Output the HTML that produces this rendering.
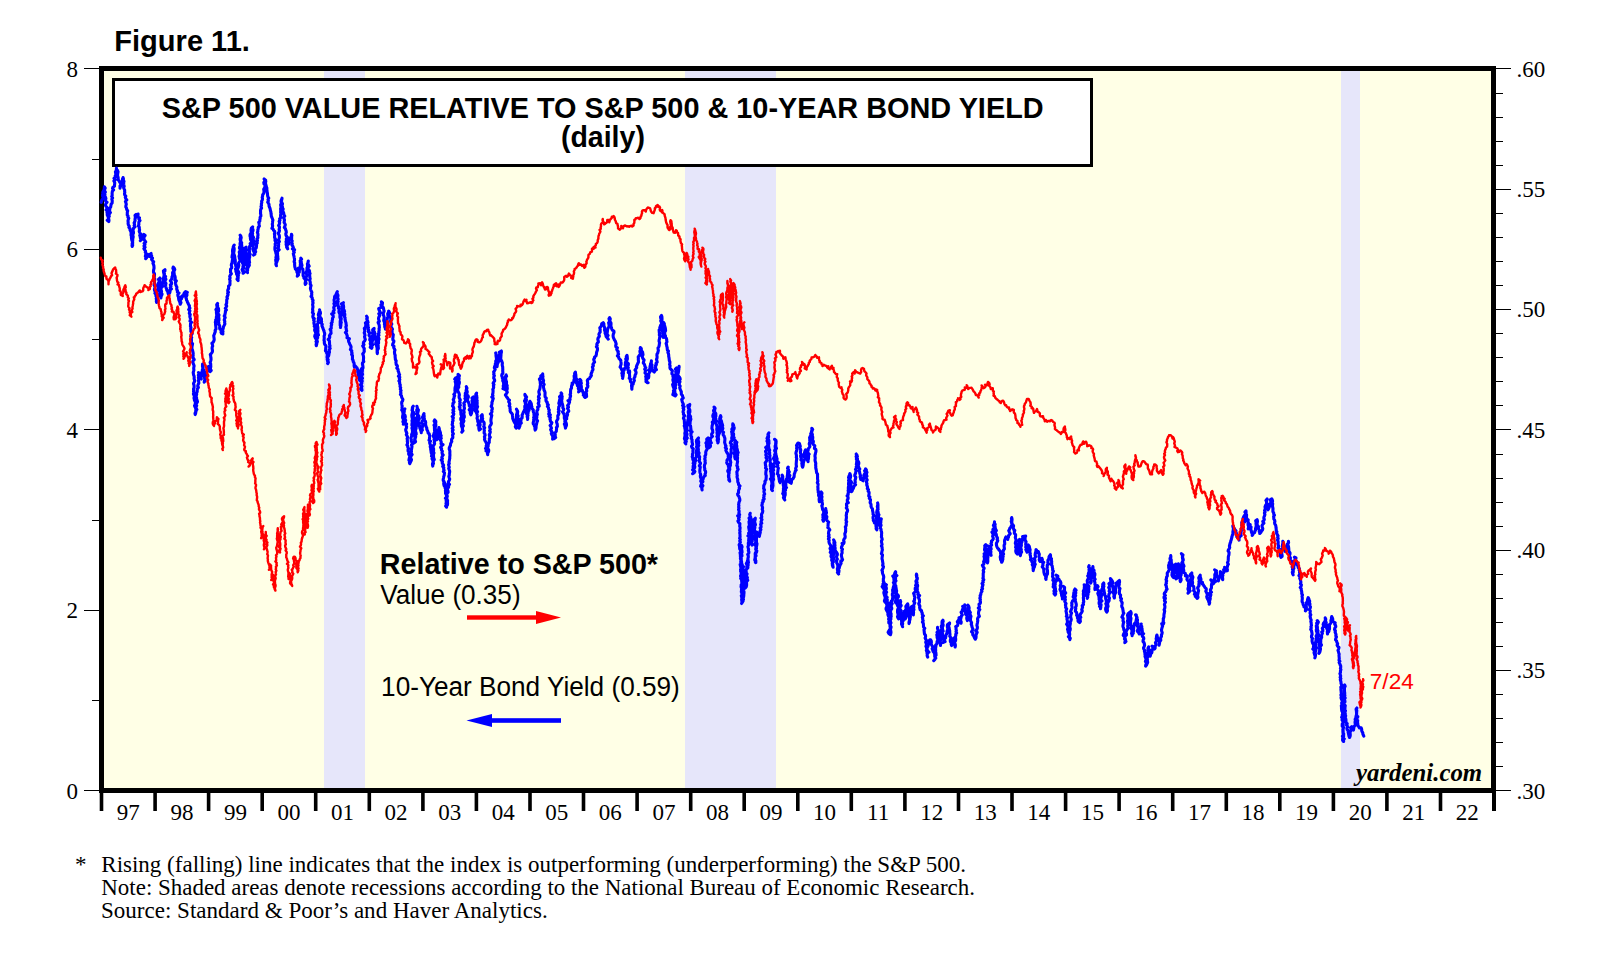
<!DOCTYPE html>
<html><head><meta charset="utf-8"><title>Figure 11</title>
<style>html,body{margin:0;padding:0;background:#fff;}body{width:1610px;height:960px;position:relative;overflow:hidden;font-family:"Liberation Sans",sans-serif;}</style>
</head><body>
<svg width="1610" height="960" viewBox="0 0 1610 960" style="position:absolute;left:0;top:0">
<rect x="0" y="0" width="1610" height="960" fill="#fff"/>
<rect x="99" y="66" width="1397" height="727" fill="#ffffe6"/>
<rect x="324" y="66" width="41" height="727" fill="#e6e6fa"/>
<rect x="685" y="66" width="91" height="727" fill="#e6e6fa"/>
<rect x="1341" y="66" width="19" height="727" fill="#e6e6fa"/>
<rect x="113.5" y="79.5" width="978" height="86" fill="#fff" stroke="#000" stroke-width="3"/>
<rect x="101.5" y="68.5" width="1392.0" height="722.0" fill="none" stroke="#000" stroke-width="5"/>
<path d="M101.2 202.4 L101.5 201.2 L101.9 200.0 L102.8 198.8 L103.2 197.5 L102.6 196.1 L102.5 194.7 L102.7 193.4 L102.8 192.1 L103.4 190.8 L104.2 189.6 L104.3 188.2 L104.4 186.8 L105.2 188.1 L104.6 189.5 L104.6 190.8 L105.4 192.0 L104.3 193.5 L105.0 194.7 L104.3 196.1 L105.5 197.2 L105.9 198.5 L105.5 199.8 L105.6 201.1 L107.0 202.2 L105.9 203.6 L105.5 205.0 L105.8 206.2 L107.0 207.3 L107.0 208.5 L106.1 209.9 L107.7 211.0 L107.0 212.3 L107.3 213.6 L107.2 214.9 L107.8 216.2 L108.3 217.4 L108.6 218.7 L107.2 220.2 L108.8 221.5 L109.0 220.2 L108.7 218.8 L108.6 217.5 L109.3 216.3 L108.6 214.9 L109.5 213.7 L110.4 212.6 L109.0 211.1 L109.8 209.9 L109.5 208.3 L110.7 207.1 L110.9 205.6 L111.1 204.2 L112.1 203.0 L112.2 201.8 L112.2 200.5 L111.8 199.1 L112.6 197.9 L111.7 196.5 L112.2 195.2 L112.1 193.8 L112.2 192.4 L112.4 191.1 L113.6 189.9 L112.5 188.4 L112.9 187.2 L114.5 186.2 L114.5 184.9 L114.7 183.7 L114.7 182.4 L113.9 181.0 L115.2 179.8 L114.0 178.3 L115.3 177.1 L115.2 175.8 L116.2 174.5 L115.6 173.1 L115.4 171.8 L116.2 170.6 L116.4 169.3 L116.4 168.0 L116.6 169.3 L117.5 170.5 L118.1 171.8 L117.8 173.2 L117.6 174.6 L117.6 175.9 L118.1 177.2 L118.2 178.5 L118.1 179.9 L119.2 180.9 L119.6 182.1 L120.7 183.3 L120.7 184.6 L120.0 186.0 L120.1 187.2 L120.0 188.1 L120.3 186.8 L121.1 185.7 L121.8 184.6 L121.6 183.1 L121.9 181.7 L122.6 180.4 L123.5 179.1 L123.1 177.6 L122.5 178.9 L122.5 180.2 L124.0 181.3 L123.7 182.6 L123.7 183.9 L123.9 185.1 L124.2 186.4 L123.6 187.7 L124.1 188.9 L124.7 190.1 L124.6 191.3 L124.8 192.5 L124.5 193.8 L124.8 195.0 L125.8 196.1 L125.3 197.4 L125.8 198.7 L126.8 200.0 L125.4 201.5 L125.9 202.8 L126.3 204.2 L125.9 205.6 L125.8 206.9 L126.6 208.2 L126.7 209.6 L127.7 210.8 L127.3 212.2 L127.3 213.6 L127.2 215.0 L128.1 216.0 L127.9 217.2 L128.8 218.2 L128.3 219.5 L128.0 220.9 L128.2 222.2 L128.1 223.6 L128.4 224.9 L129.3 226.1 L128.9 227.5 L130.1 228.7 L130.0 230.0 L130.7 231.3 L131.1 232.5 L131.1 233.8 L131.0 235.1 L131.5 236.3 L131.4 237.6 L131.6 238.9 L131.8 240.1 L132.3 241.3 L132.7 242.5 L132.6 243.8 L132.0 245.2 L132.2 246.4 L132.7 245.1 L132.1 243.6 L132.5 242.3 L132.7 240.9 L132.7 239.5 L132.9 238.1 L133.2 236.8 L132.9 235.5 L132.9 234.2 L133.5 233.0 L133.4 231.8 L133.0 230.5 L133.3 229.2 L133.6 228.0 L135.0 226.9 L134.1 225.5 L134.6 224.3 L134.1 223.0 L134.7 221.8 L135.1 220.5 L135.0 219.2 L135.3 218.0 L135.3 216.7 L135.0 215.4 L136.1 214.4 L137.4 215.5 L138.1 214.0 L138.0 215.4 L137.5 216.8 L139.5 217.9 L138.9 219.3 L140.0 220.5 L138.9 221.9 L138.8 223.3 L138.9 224.6 L138.3 225.9 L139.3 227.2 L139.3 228.6 L139.6 229.9 L139.2 231.3 L139.7 232.6 L140.7 233.9 L139.7 235.3 L140.2 236.6 L140.3 238.0 L141.7 239.2 L140.3 240.6 L141.1 239.4 L141.6 238.1 L143.3 239.3 L142.5 237.8 L142.8 236.6 L142.8 235.4 L143.8 234.3 L145.1 235.5 L144.1 236.9 L143.9 238.2 L144.1 239.5 L144.8 240.7 L145.7 242.0 L144.1 243.4 L145.0 244.6 L144.0 246.0 L145.1 247.2 L143.9 248.6 L144.7 249.9 L145.6 251.1 L145.3 252.4 L146.1 253.6 L145.6 255.0 L145.3 256.3 L146.5 257.5 L145.7 258.7 L146.5 257.9 L146.5 256.8 L147.7 255.6 L147.8 254.4 L149.0 255.1 L149.2 256.4 L149.6 254.9 L150.4 254.0 L151.1 253.5 L151.0 254.7 L151.7 255.8 L151.0 257.1 L152.5 258.1 L151.6 259.5 L152.5 260.6 L153.7 261.8 L152.9 263.2 L153.5 264.5 L153.9 265.8 L154.0 267.2 L154.0 268.5 L153.6 269.9 L153.5 271.3 L153.6 272.5 L154.5 273.7 L154.5 275.0 L154.4 276.2 L154.0 277.5 L154.7 278.7 L154.8 280.0 L154.5 281.3 L154.4 282.5 L154.5 283.8 L154.1 285.2 L155.0 286.5 L154.9 287.8 L154.4 289.3 L154.6 290.6 L155.5 291.9 L154.9 293.3 L156.0 294.5 L155.9 295.9 L156.7 297.1 L156.2 298.5 L156.5 299.8 L157.3 301.0 L156.6 302.4 L156.3 301.0 L157.4 299.8 L157.5 298.4 L157.5 297.1 L158.0 295.8 L157.2 294.3 L156.5 292.9 L157.1 291.6 L157.3 290.3 L158.3 289.0 L158.6 287.7 L158.2 286.3 L157.6 284.8 L158.2 283.5 L159.1 282.2 L159.1 280.8 L158.5 279.4 L159.9 278.0 L159.5 279.4 L159.7 280.8 L159.2 282.2 L159.4 283.5 L161.1 284.7 L160.6 286.1 L159.3 287.6 L160.5 288.9 L160.4 290.2 L160.1 291.5 L160.2 292.8 L160.0 294.2 L160.3 295.4 L161.1 296.6 L160.9 297.9 L160.8 296.5 L161.7 295.3 L162.1 294.0 L161.2 292.6 L161.6 291.3 L161.0 289.9 L161.1 288.6 L161.4 287.4 L162.8 286.3 L162.0 285.0 L162.6 283.8 L162.3 282.5 L163.1 281.3 L163.2 280.1 L162.9 278.8 L163.7 277.6 L164.0 276.4 L164.2 275.1 L163.9 273.7 L163.7 272.4 L163.4 271.0 L165.0 269.7 L164.9 271.1 L163.6 272.6 L164.5 273.9 L164.0 275.4 L165.6 276.6 L164.9 278.1 L165.9 279.3 L165.0 280.8 L165.1 282.2 L166.0 283.4 L165.6 284.8 L165.7 286.2 L166.0 287.6 L166.6 288.9 L166.8 290.2 L167.7 291.3 L168.0 293.0 L168.4 294.2 L169.4 293.4 L169.9 292.3 L170.1 291.1 L169.9 289.9 L171.4 288.9 L170.2 287.5 L171.0 286.3 L170.3 284.9 L171.7 283.7 L171.5 282.3 L170.4 280.8 L171.4 279.6 L171.9 278.2 L172.0 276.7 L172.7 275.4 L172.6 273.9 L172.6 272.5 L173.4 271.2 L173.6 269.9 L172.9 268.4 L173.2 267.0 L174.3 268.3 L174.8 269.5 L174.0 271.1 L174.0 272.4 L174.2 273.8 L174.3 275.0 L175.0 276.2 L175.2 277.4 L175.2 278.6 L174.8 279.9 L176.3 280.9 L175.5 282.3 L175.6 283.5 L175.8 284.8 L176.3 285.9 L176.9 287.1 L176.7 288.4 L176.8 289.6 L177.5 290.7 L177.3 292.0 L179.0 293.0 L177.8 294.4 L177.9 295.8 L178.5 297.0 L178.6 298.4 L178.8 299.8 L179.4 301.2 L180.0 302.6 L180.2 304.3 L181.0 302.5 L179.7 300.9 L180.7 299.7 L181.7 298.5 L181.1 297.1 L182.1 295.9 L182.4 296.7 L183.5 296.0 L183.8 294.8 L183.9 293.6 L184.6 292.6 L185.6 291.5 L187.3 292.4 L186.6 293.8 L187.0 295.0 L186.4 296.3 L185.9 297.8 L186.4 298.8 L186.5 300.0 L187.2 301.1 L187.5 302.3 L188.1 303.2 L188.5 304.4 L189.4 305.6 L189.3 306.9 L189.9 308.2 L188.7 309.6 L189.9 310.8 L189.5 312.1 L189.3 313.4 L190.3 314.6 L189.8 316.0 L190.0 317.3 L190.5 318.5 L190.3 319.8 L190.0 321.1 L191.5 322.3 L190.5 323.7 L190.5 325.0 L190.4 326.3 L191.0 327.5 L190.7 328.7 L190.9 330.0 L190.8 331.3 L191.6 332.5 L192.2 333.7 L191.3 335.0 L190.7 336.3 L191.7 337.5 L191.1 338.8 L191.5 340.0 L191.4 341.3 L191.5 342.6 L192.6 343.8 L192.3 345.2 L192.0 346.6 L191.9 347.9 L192.2 349.2 L192.6 350.5 L192.8 351.8 L193.2 353.1 L193.1 354.5 L193.2 355.8 L192.7 357.1 L193.5 358.3 L194.2 359.6 L192.9 361.0 L192.8 362.3 L193.2 363.5 L193.8 364.8 L194.1 366.0 L193.8 367.4 L193.7 368.6 L193.9 369.9 L193.6 371.2 L193.2 372.4 L193.4 373.7 L193.6 375.0 L194.1 376.2 L194.2 377.5 L194.1 378.7 L194.5 380.0 L194.7 381.3 L193.9 382.5 L193.5 383.8 L194.0 385.1 L194.1 386.3 L194.1 387.6 L193.5 388.9 L193.7 390.2 L193.5 391.5 L194.1 392.8 L193.4 394.1 L194.1 395.4 L194.4 396.6 L194.0 398.0 L194.3 399.2 L194.5 400.5 L195.6 401.8 L195.2 403.1 L195.4 404.4 L194.5 405.7 L195.0 406.9 L195.6 408.2 L195.9 409.5 L196.1 410.8 L195.8 412.1 L195.6 413.4 L195.2 414.6 L195.0 413.3 L195.7 412.1 L195.7 410.8 L196.9 409.5 L196.1 408.2 L196.1 406.9 L196.7 405.6 L195.3 404.2 L196.8 403.0 L197.5 401.8 L197.2 400.5 L196.6 399.2 L196.6 397.9 L196.4 396.7 L196.3 395.4 L196.7 394.2 L196.5 392.9 L197.2 391.7 L197.2 390.2 L197.4 388.8 L198.4 387.5 L197.7 386.0 L198.1 384.6 L198.8 383.3 L198.8 381.9 L198.3 380.5 L199.0 379.2 L198.4 377.8 L198.8 376.5 L198.3 375.1 L199.3 373.8 L198.5 372.5 L199.3 373.5 L198.7 374.9 L199.9 375.8 L200.1 376.9 L200.5 378.0 L201.3 379.0 L200.5 377.5 L201.7 376.3 L201.2 374.8 L201.8 373.5 L201.8 372.1 L202.3 370.8 L202.4 369.5 L203.1 368.2 L203.0 366.8 L203.2 365.5 L202.5 364.2 L202.5 365.4 L202.5 366.7 L203.0 368.0 L203.3 369.2 L203.8 370.5 L204.1 371.7 L203.4 373.1 L204.3 374.3 L203.9 375.6 L204.5 376.9 L204.6 378.2 L204.8 379.6 L205.1 380.9 L204.2 382.2 L204.4 380.9 L205.3 379.7 L205.3 378.4 L205.6 377.1 L205.5 375.8 L206.0 374.5 L205.7 373.2 L207.0 372.2 L207.3 371.0 L207.3 369.8 L207.3 368.6 L207.8 367.7 L208.5 366.5 L209.6 367.7 L209.7 369.1 L210.1 370.4 L210.2 371.6 L211.2 370.4 L210.3 369.0 L210.6 367.7 L210.8 366.4 L210.7 365.1 L210.7 363.8 L210.1 362.5 L210.6 361.2 L211.0 359.9 L211.0 358.6 L210.8 357.3 L210.7 356.0 L210.3 354.6 L211.3 353.4 L212.3 352.1 L212.5 350.9 L212.3 349.6 L212.1 348.4 L212.2 347.1 L212.7 346.0 L212.4 344.7 L211.9 343.2 L213.2 342.2 L213.8 341.1 L214.2 339.8 L214.1 338.4 L213.9 337.0 L213.7 335.6 L214.3 334.4 L214.7 333.1 L215.3 331.7 L215.1 330.3 L216.0 329.0 L215.9 327.6 L215.8 326.3 L215.6 324.9 L215.6 323.5 L215.3 322.2 L215.7 321.0 L215.7 319.7 L217.1 318.6 L216.3 317.3 L216.7 316.0 L216.7 314.8 L216.5 313.5 L216.4 312.2 L216.5 310.9 L215.9 309.6 L217.0 308.4 L217.0 307.2 L217.7 305.9 L217.3 304.6 L217.6 303.4 L216.7 304.7 L216.9 306.0 L217.7 307.3 L218.5 308.5 L218.6 309.8 L218.6 311.1 L217.8 312.5 L218.3 313.7 L219.0 315.0 L218.6 316.4 L218.8 317.7 L219.0 319.0 L218.9 320.3 L218.3 321.7 L218.9 322.9 L218.6 324.2 L219.6 325.4 L219.8 326.6 L219.6 327.9 L219.8 329.0 L220.4 328.9 L220.9 330.0 L221.2 331.2 L221.0 332.4 L221.6 333.6 L222.9 333.9 L222.7 332.6 L223.0 331.3 L222.4 329.9 L223.2 328.7 L223.3 327.4 L223.7 326.2 L224.4 325.0 L224.9 323.8 L224.6 322.5 L224.8 321.3 L224.2 319.9 L224.6 318.7 L225.2 317.5 L224.2 316.1 L224.9 314.9 L225.1 313.6 L225.4 312.3 L225.4 311.0 L226.4 309.9 L225.3 308.4 L226.0 307.3 L226.7 306.1 L225.9 304.7 L226.6 303.5 L226.7 302.3 L226.7 301.0 L226.7 299.7 L227.4 298.5 L226.9 297.1 L227.6 295.9 L228.1 294.7 L227.6 293.3 L228.5 292.2 L227.7 290.9 L227.9 289.7 L228.7 288.6 L228.6 287.4 L228.5 286.1 L229.9 284.9 L230.0 283.5 L229.9 282.1 L230.1 280.7 L229.6 279.2 L230.1 277.9 L229.7 276.4 L230.3 275.1 L231.4 273.8 L230.5 272.2 L230.6 270.8 L230.5 269.2 L231.7 267.9 L231.7 266.6 L231.3 265.3 L231.5 263.9 L232.1 262.7 L232.2 261.4 L232.4 260.1 L233.1 258.8 L232.0 257.4 L232.1 256.0 L232.4 254.7 L232.8 253.3 L232.6 252.0 L232.5 250.6 L232.7 249.2 L233.2 247.9 L233.3 246.5 L234.2 245.1 L233.4 246.5 L234.0 247.8 L234.2 249.1 L234.1 250.5 L233.9 251.8 L233.5 253.2 L234.1 254.5 L234.5 255.8 L234.8 257.1 L234.8 258.4 L235.2 259.7 L235.3 261.0 L235.3 262.4 L235.1 263.7 L235.6 265.0 L235.9 266.3 L236.6 267.5 L235.5 269.0 L235.9 270.3 L235.9 271.6 L236.6 272.9 L236.6 274.2 L237.5 275.4 L237.5 276.7 L237.3 278.0 L237.0 279.3 L238.1 280.6 L237.9 279.3 L238.2 278.0 L238.1 276.6 L238.4 275.3 L238.0 274.0 L239.0 272.7 L238.3 271.3 L237.3 269.9 L237.7 268.7 L238.3 267.5 L238.6 266.3 L238.9 265.0 L238.4 263.7 L238.9 262.5 L239.7 261.3 L240.3 260.1 L239.5 258.8 L239.3 257.5 L239.0 256.2 L239.5 254.8 L239.6 253.5 L239.2 252.1 L240.0 250.8 L240.2 249.4 L239.4 248.0 L239.7 246.6 L241.0 245.4 L240.0 244.0 L240.2 242.7 L240.6 241.5 L240.2 240.2 L240.1 238.9 L240.5 237.6 L241.0 236.4 L240.1 235.2 L240.6 236.4 L241.2 237.7 L240.8 239.0 L240.8 240.2 L240.7 241.5 L241.7 242.7 L241.5 244.0 L241.8 245.3 L241.4 246.6 L242.5 247.8 L242.1 249.0 L242.7 250.3 L242.4 251.6 L242.2 252.8 L242.3 254.1 L242.4 255.4 L241.1 256.7 L241.7 258.0 L241.2 259.3 L241.8 260.5 L242.7 261.8 L242.5 263.1 L243.3 264.3 L243.2 265.6 L242.9 266.9 L242.9 268.2 L242.1 269.5 L242.5 270.8 L243.2 272.0 L243.1 273.3 L244.6 272.1 L243.5 270.7 L242.9 269.3 L243.6 268.1 L243.5 266.8 L243.7 265.5 L244.6 264.2 L244.0 262.9 L244.7 261.6 L244.2 260.3 L244.2 258.9 L245.0 257.7 L244.4 256.3 L244.5 255.0 L245.0 253.7 L244.8 252.4 L245.2 251.1 L245.1 249.7 L244.5 248.4 L246.1 247.1 L245.9 248.4 L246.8 249.6 L246.1 250.9 L246.1 252.2 L246.2 253.5 L247.5 254.7 L247.2 256.0 L246.8 257.3 L246.7 258.6 L247.0 259.9 L247.9 261.1 L246.9 262.5 L247.9 263.7 L246.5 265.1 L247.5 266.3 L247.1 267.6 L246.6 268.9 L247.0 270.1 L247.3 271.4 L247.5 272.6 L247.1 271.3 L247.7 270.1 L247.5 268.7 L248.1 267.5 L248.8 266.3 L249.4 265.0 L248.6 263.7 L249.6 262.5 L249.3 261.1 L249.2 259.7 L249.3 258.3 L249.7 257.0 L249.6 255.6 L250.3 254.3 L249.3 252.9 L249.6 251.5 L249.2 250.1 L249.6 248.8 L249.4 247.5 L249.7 246.2 L251.6 245.2 L250.2 243.7 L251.3 242.6 L251.5 241.3 L250.7 240.0 L250.4 238.6 L250.4 237.3 L250.0 236.0 L250.1 234.6 L250.8 233.4 L251.4 232.1 L251.0 230.7 L251.1 229.4 L251.4 228.1 L252.7 226.8 L252.1 228.2 L253.0 229.4 L253.0 230.8 L252.3 232.1 L252.6 233.4 L252.3 234.8 L252.7 236.1 L253.5 237.3 L253.2 238.7 L253.0 240.0 L254.3 241.2 L253.6 242.5 L254.0 243.8 L253.4 245.1 L253.1 246.4 L253.1 247.7 L252.8 249.0 L253.2 250.2 L253.8 251.5 L254.4 252.7 L254.2 254.0 L253.6 255.1 L254.9 254.2 L254.7 252.8 L255.7 251.8 L255.2 250.4 L255.0 249.1 L256.2 248.1 L256.4 246.9 L256.6 245.6 L256.2 244.2 L257.3 243.1 L257.1 241.7 L257.5 240.4 L256.9 239.0 L257.9 237.8 L257.7 236.4 L258.0 235.1 L257.9 233.8 L257.4 232.4 L257.9 231.2 L257.8 229.9 L258.3 228.7 L258.2 227.4 L259.4 226.2 L259.2 224.9 L259.1 223.6 L258.7 222.3 L259.9 221.1 L259.8 219.8 L260.2 218.6 L260.1 217.3 L260.9 216.0 L260.8 214.7 L260.5 213.4 L260.6 212.1 L260.5 210.7 L260.7 209.4 L261.6 208.1 L261.0 206.6 L261.5 205.3 L261.3 203.9 L261.8 202.5 L261.6 201.2 L262.3 200.0 L262.5 198.7 L262.2 197.4 L262.6 196.1 L262.7 194.7 L263.7 193.4 L264.0 192.0 L263.9 190.5 L263.7 189.2 L264.4 188.0 L265.0 186.7 L265.8 185.5 L264.0 184.0 L263.8 182.6 L264.5 181.4 L265.6 180.2 L264.1 179.0 L264.8 180.3 L265.8 181.5 L265.5 182.9 L265.7 184.2 L266.1 185.5 L266.4 186.8 L266.9 188.0 L266.8 189.3 L267.0 190.6 L267.1 191.8 L267.4 193.1 L267.5 194.4 L267.6 195.6 L267.9 196.9 L268.8 198.1 L268.0 199.5 L268.4 200.8 L267.7 202.2 L268.5 203.4 L269.0 204.3 L269.1 206.3 L269.8 207.7 L270.2 209.1 L270.4 210.5 L270.9 211.9 L271.0 213.3 L271.2 214.7 L271.3 216.2 L271.9 217.5 L272.4 218.8 L272.9 220.1 L272.6 221.5 L272.5 222.9 L272.3 224.3 L272.6 225.6 L272.5 227.0 L271.9 228.3 L273.2 229.2 L273.6 230.4 L274.7 231.4 L274.7 232.6 L274.4 233.9 L274.7 235.1 L274.6 236.4 L274.6 237.6 L275.4 238.8 L274.9 240.1 L275.3 241.3 L275.9 242.5 L275.1 243.9 L275.4 245.2 L275.0 246.6 L274.9 248.0 L274.9 249.3 L275.2 250.6 L275.7 252.0 L275.9 253.3 L276.3 254.6 L276.3 256.0 L275.9 257.4 L276.3 258.6 L275.7 259.8 L275.8 261.1 L276.7 262.2 L276.2 263.4 L276.2 264.7 L276.4 265.8 L275.9 264.4 L275.9 263.1 L277.0 261.8 L277.3 260.4 L278.0 259.1 L277.8 257.8 L277.8 256.4 L277.5 255.0 L277.6 253.7 L277.3 252.3 L278.0 251.0 L279.2 249.7 L277.9 248.3 L278.6 246.9 L278.5 245.6 L278.7 244.2 L278.4 242.8 L279.4 241.5 L278.2 240.1 L279.0 238.8 L279.4 237.5 L279.4 236.1 L279.1 234.8 L278.1 233.4 L279.0 232.1 L279.5 230.8 L279.1 229.5 L279.4 228.2 L279.5 226.9 L278.6 225.5 L279.3 224.2 L279.7 222.9 L279.1 221.5 L280.0 220.3 L279.6 218.9 L280.7 217.7 L280.6 216.4 L280.5 215.0 L281.0 213.8 L280.6 212.4 L280.7 211.1 L280.7 209.8 L280.6 208.5 L281.1 207.3 L280.8 206.0 L280.6 204.7 L281.4 203.4 L281.2 202.1 L281.1 200.8 L281.5 199.5 L282.0 198.2 L281.8 199.7 L281.0 201.2 L281.9 202.5 L282.5 203.9 L281.9 205.4 L282.4 206.6 L282.5 207.8 L283.2 209.0 L282.7 210.2 L283.0 211.4 L283.6 212.6 L283.8 213.8 L284.0 215.0 L284.8 216.1 L283.5 217.5 L284.1 218.7 L284.5 219.9 L284.3 221.1 L284.1 222.4 L284.8 223.5 L285.3 224.8 L284.9 226.1 L284.3 227.4 L285.4 228.6 L285.7 229.9 L286.2 231.1 L286.3 232.4 L285.8 233.7 L285.9 235.0 L286.5 236.2 L287.4 237.5 L286.3 239.0 L286.5 240.3 L286.0 241.7 L286.3 243.1 L286.1 244.5 L286.7 245.8 L286.6 247.1 L287.7 248.8 L287.3 247.3 L286.8 246.3 L287.3 245.0 L288.9 243.8 L288.8 242.5 L288.6 241.1 L288.8 239.8 L288.8 238.1 L291.4 237.6 L291.3 235.9 L291.5 234.2 L291.9 235.5 L291.6 236.9 L291.7 238.2 L291.4 239.6 L292.2 240.9 L291.7 242.3 L292.3 243.6 L291.9 245.0 L292.9 246.3 L293.4 247.5 L292.4 248.9 L294.6 249.8 L293.6 251.2 L294.3 252.3 L293.3 253.7 L293.6 255.0 L294.0 256.3 L294.2 257.6 L294.5 258.9 L294.5 260.3 L294.1 261.7 L294.7 262.9 L294.6 264.3 L294.7 265.6 L294.8 266.9 L295.2 267.8 L295.3 268.8 L296.3 269.8 L296.8 270.9 L296.9 272.1 L297.7 273.4 L297.6 275.0 L297.3 276.2 L298.5 275.0 L297.7 273.3 L299.3 272.2 L299.3 270.7 L299.6 269.6 L298.5 268.1 L300.2 267.3 L300.3 266.2 L300.3 264.8 L300.5 263.4 L300.2 262.0 L300.6 260.7 L300.8 259.4 L300.8 258.1 L301.6 259.2 L300.2 260.7 L301.3 261.8 L301.3 263.0 L301.7 264.2 L302.0 265.4 L301.5 266.8 L301.7 268.1 L302.9 269.2 L302.9 270.5 L303.1 271.8 L303.1 273.2 L303.1 274.4 L303.1 275.7 L303.9 276.9 L303.9 278.1 L305.2 279.2 L305.4 280.5 L305.5 281.8 L305.1 283.2 L305.3 284.4 L306.1 283.3 L305.7 282.0 L305.5 280.7 L306.6 279.6 L305.9 278.3 L306.2 277.1 L306.7 275.9 L307.0 274.7 L306.0 273.3 L306.3 271.9 L307.0 270.6 L307.0 269.2 L307.0 267.9 L307.6 266.6 L307.5 265.2 L307.4 263.8 L307.9 262.5 L308.3 261.1 L308.0 262.4 L308.2 263.6 L308.6 264.9 L309.2 266.1 L307.9 267.5 L308.0 268.7 L309.0 269.9 L309.6 271.1 L309.3 272.4 L310.1 273.5 L309.5 274.9 L309.8 276.2 L309.8 277.4 L310.2 278.7 L309.5 280.1 L310.1 281.4 L310.3 282.8 L310.2 284.2 L311.1 285.4 L310.7 286.8 L310.4 288.2 L310.7 289.6 L311.1 290.9 L311.9 292.2 L311.6 293.6 L311.8 294.9 L311.0 296.4 L312.2 297.6 L312.2 299.0 L313.1 300.3 L312.7 301.7 L313.1 303.0 L312.6 304.3 L312.8 305.7 L313.0 307.0 L312.7 308.4 L312.6 309.7 L312.9 311.0 L312.4 312.4 L313.5 313.7 L313.2 315.0 L312.8 316.3 L313.0 317.5 L314.3 318.7 L313.6 320.0 L314.3 321.2 L313.9 322.5 L314.0 323.8 L315.2 325.0 L314.2 326.3 L315.3 327.4 L314.9 328.7 L314.6 330.0 L315.0 331.2 L315.7 332.3 L315.5 333.6 L315.2 334.8 L314.7 336.3 L315.2 337.6 L316.0 338.9 L316.7 340.2 L316.0 341.6 L316.9 342.9 L316.7 344.3 L316.3 345.7 L316.1 344.3 L316.6 343.0 L317.4 341.7 L317.0 340.4 L316.9 339.0 L317.7 337.7 L317.0 336.3 L318.5 335.1 L318.0 333.7 L317.8 332.3 L318.0 331.0 L317.8 329.6 L317.9 328.2 L317.8 326.9 L317.4 325.5 L317.4 324.1 L318.4 322.8 L317.9 321.4 L319.1 320.2 L318.2 318.8 L318.6 317.6 L319.0 316.3 L318.3 314.9 L318.6 313.7 L319.1 312.4 L319.4 311.1 L319.6 309.8 L319.7 311.0 L320.3 312.1 L320.5 313.3 L319.9 314.6 L319.8 315.8 L320.0 317.0 L320.9 318.0 L321.5 319.0 L321.3 320.3 L321.7 321.6 L321.2 323.1 L322.3 324.3 L321.9 325.8 L322.5 327.1 L323.0 328.4 L323.5 329.9 L324.0 331.0 L324.3 332.2 L324.7 333.4 L324.6 334.8 L324.1 336.1 L324.2 337.5 L324.2 338.8 L324.0 340.2 L324.4 341.5 L324.3 342.9 L324.6 344.2 L325.7 345.5 L326.0 346.7 L325.7 348.1 L325.7 349.4 L325.4 350.8 L326.6 351.9 L326.7 353.3 L327.4 354.5 L327.2 355.8 L327.0 357.1 L327.3 358.3 L327.2 359.6 L327.7 360.8 L328.3 362.0 L327.6 363.4 L327.8 363.7 L328.4 362.4 L327.5 361.0 L328.2 359.8 L327.5 358.4 L327.6 357.2 L328.6 356.0 L328.9 354.7 L329.0 353.4 L329.5 352.2 L329.3 350.9 L329.3 349.6 L330.2 348.4 L329.5 347.1 L330.0 345.9 L329.6 344.6 L329.5 343.3 L329.5 342.1 L329.4 340.8 L328.2 339.4 L329.4 338.2 L329.8 337.0 L329.4 335.7 L330.1 334.5 L331.1 333.3 L330.9 332.0 L330.9 330.8 L330.1 329.4 L331.3 328.3 L331.2 327.0 L331.2 325.8 L331.7 324.6 L331.2 323.3 L332.2 322.2 L332.1 320.9 L332.5 319.6 L332.5 318.2 L333.3 316.9 L333.1 315.5 L331.7 314.0 L334.0 312.9 L333.2 311.4 L334.2 310.3 L334.0 308.9 L333.7 307.4 L334.5 306.2 L334.3 304.9 L333.9 303.6 L335.4 302.5 L334.1 301.0 L334.1 299.7 L334.6 298.5 L334.5 297.1 L334.9 296.0 L336.1 295.1 L336.2 293.9 L336.8 292.8 L337.3 291.7 L336.6 293.0 L337.5 294.2 L338.0 295.4 L337.8 296.7 L337.5 297.9 L338.2 299.1 L337.6 300.4 L338.2 301.6 L336.7 303.0 L338.0 304.2 L337.5 305.5 L338.8 306.7 L338.4 308.1 L339.3 309.3 L339.0 310.7 L338.9 312.0 L339.4 313.3 L340.2 314.5 L339.9 315.9 L339.9 317.2 L340.3 318.4 L340.6 319.7 L340.2 321.1 L340.2 322.4 L340.2 323.7 L340.9 324.9 L340.7 326.2 L340.4 327.5 L340.7 326.3 L340.1 324.9 L340.9 323.7 L341.3 322.4 L340.7 321.1 L341.1 319.8 L341.3 318.6 L340.8 317.3 L340.8 316.0 L341.9 314.8 L341.6 313.4 L341.6 312.1 L342.4 310.8 L342.6 309.5 L341.9 308.1 L342.0 306.7 L342.4 305.4 L341.5 303.9 L343.4 302.7 L342.8 304.0 L343.4 305.2 L343.6 306.5 L343.6 307.8 L343.3 309.1 L344.2 310.3 L344.6 311.5 L343.9 312.9 L344.8 314.0 L344.8 315.2 L344.3 316.5 L345.1 317.6 L345.0 318.9 L345.2 320.2 L345.6 321.6 L346.0 322.9 L346.1 324.3 L346.4 325.6 L345.8 327.1 L346.2 328.3 L346.3 329.6 L346.7 330.9 L345.4 332.4 L346.4 333.6 L346.9 334.9 L347.3 336.1 L347.0 337.8 L349.4 338.7 L348.5 340.5 L348.7 341.8 L349.4 343.0 L349.7 344.1 L350.7 345.7 L351.1 346.9 L350.9 348.3 L350.4 349.6 L351.8 350.7 L351.6 352.0 L352.1 353.1 L351.6 354.4 L352.5 355.5 L352.4 356.7 L352.5 357.9 L352.4 359.2 L353.1 360.4 L353.2 361.7 L354.0 362.9 L354.2 364.3 L354.1 365.9 L354.5 367.2 L355.1 365.9 L356.2 367.1 L357.0 367.9 L357.3 369.1 L357.8 370.5 L357.7 371.9 L358.2 373.3 L358.1 374.7 L358.5 376.1 L359.3 377.4 L359.2 378.9 L359.7 380.4 L360.0 379.1 L359.8 377.8 L359.9 376.5 L360.0 375.2 L360.3 374.0 L359.0 372.3 L360.7 371.3 L360.9 369.8 L361.7 368.5 L361.9 369.7 L361.1 371.0 L361.2 372.3 L361.3 373.6 L361.4 374.9 L360.5 376.2 L362.0 377.4 L361.6 378.7 L360.1 380.0 L361.1 381.3 L361.3 382.6 L361.0 383.9 L360.9 385.2 L361.1 386.4 L361.3 387.7 L360.6 389.0 L362.0 390.3 L361.8 389.0 L361.4 387.6 L362.0 386.3 L360.5 384.9 L361.8 383.6 L361.8 382.3 L362.3 381.0 L361.4 379.6 L362.5 378.3 L361.7 376.9 L361.9 375.6 L362.6 374.3 L362.0 372.9 L362.3 371.6 L362.4 370.4 L362.4 369.1 L363.0 367.9 L362.9 366.6 L362.7 365.3 L362.4 364.0 L362.5 362.8 L363.8 361.6 L363.4 360.3 L363.5 359.0 L363.6 357.8 L363.5 356.5 L363.2 355.2 L362.7 353.9 L363.7 352.6 L364.3 351.3 L364.1 350.0 L364.3 348.7 L363.6 347.3 L362.7 345.9 L364.0 344.7 L363.3 343.3 L363.6 342.0 L364.8 340.8 L365.3 339.5 L364.9 338.1 L364.5 336.8 L365.0 335.5 L364.8 334.2 L364.2 332.8 L364.7 331.4 L364.7 329.9 L364.3 328.4 L365.5 327.2 L365.7 325.8 L365.8 324.4 L365.4 322.9 L366.9 321.7 L367.2 320.3 L366.7 318.9 L367.1 317.5 L366.6 316.2 L367.3 317.4 L367.2 318.7 L367.4 320.0 L367.7 321.3 L368.1 322.5 L367.2 323.9 L368.1 325.1 L367.7 326.4 L368.5 327.6 L367.9 329.0 L368.8 330.2 L368.3 331.6 L370.0 332.7 L369.2 334.1 L369.0 335.5 L370.3 336.8 L370.0 338.3 L369.7 339.8 L370.6 341.1 L370.6 342.3 L370.2 343.6 L370.5 344.7 L371.0 345.9 L370.2 347.2 L371.6 348.3 L372.1 347.1 L371.1 345.7 L373.0 344.7 L372.3 343.4 L372.0 342.1 L372.4 340.9 L372.7 339.7 L373.2 338.5 L372.9 337.2 L372.5 335.9 L373.0 334.7 L372.5 333.3 L373.1 332.1 L372.7 330.8 L372.7 329.6 L374.1 328.3 L373.9 329.7 L373.7 331.1 L374.6 332.3 L374.9 333.6 L374.7 335.0 L374.3 336.3 L375.4 337.3 L375.8 338.5 L375.6 339.7 L376.4 340.8 L375.9 342.3 L375.8 343.8 L376.5 345.1 L376.7 346.6 L377.1 347.9 L377.1 349.3 L377.2 350.8 L377.1 352.2 L377.3 353.6 L377.5 352.2 L377.1 350.9 L377.8 349.6 L378.4 348.3 L378.2 346.9 L378.2 345.6 L377.9 344.2 L378.6 342.9 L378.5 341.6 L378.5 340.2 L379.1 339.0 L378.6 337.7 L377.6 336.4 L379.0 335.2 L378.2 333.9 L379.1 332.6 L378.8 331.4 L379.2 330.1 L379.0 328.8 L379.4 327.6 L379.3 326.3 L379.2 325.1 L378.7 323.8 L378.1 322.5 L379.4 321.3 L378.8 320.0 L378.5 318.7 L378.7 317.5 L379.3 316.3 L379.9 315.0 L378.8 313.7 L380.4 312.6 L379.7 311.3 L379.1 310.0 L378.7 308.7 L380.1 307.9 L381.2 307.3 L381.6 306.2 L380.9 304.9 L382.4 304.0 L381.7 302.7 L381.4 301.7 L382.5 302.9 L381.6 304.4 L381.8 305.7 L382.9 306.9 L383.5 308.2 L383.7 309.6 L384.1 310.9 L383.6 312.4 L383.2 313.8 L383.5 315.2 L384.0 316.5 L384.1 317.9 L383.9 319.3 L383.7 320.6 L384.2 321.8 L384.8 323.0 L384.4 324.3 L384.8 325.5 L384.7 326.8 L385.3 327.9 L385.4 329.2 L385.4 327.8 L386.2 326.7 L386.6 325.5 L387.4 324.3 L386.3 322.8 L387.6 321.7 L386.9 320.3 L387.3 319.1 L387.3 317.8 L388.5 316.6 L387.8 315.1 L387.7 313.7 L388.6 312.4 L388.6 311.0 L389.5 312.3 L389.5 313.6 L388.7 315.1 L389.7 316.3 L390.5 317.6 L391.0 318.9 L390.6 320.2 L390.8 321.5 L390.8 322.8 L391.8 324.0 L391.0 325.4 L390.9 326.8 L391.8 327.9 L392.5 329.2 L391.9 330.7 L392.2 332.1 L391.9 333.5 L393.3 334.7 L393.1 336.0 L393.0 337.3 L392.8 338.6 L392.9 339.9 L393.9 341.0 L393.7 342.3 L392.8 343.8 L392.6 345.1 L394.0 346.2 L393.7 347.5 L394.3 348.8 L395.0 350.0 L394.5 351.5 L394.5 352.8 L394.7 354.1 L395.2 355.4 L395.1 356.8 L395.3 358.2 L395.4 359.6 L396.2 360.8 L395.9 362.2 L396.1 363.4 L396.2 364.6 L397.3 365.6 L397.4 366.8 L396.8 368.2 L398.1 369.4 L398.1 371.0 L398.8 372.4 L399.0 373.6 L399.6 374.8 L398.4 376.2 L399.8 377.2 L399.3 378.5 L399.8 379.7 L398.9 381.0 L399.7 382.2 L399.6 383.6 L400.3 384.9 L400.0 386.4 L400.7 387.7 L400.3 389.2 L401.1 390.5 L400.6 391.8 L401.0 393.1 L400.4 394.5 L401.5 395.7 L401.6 397.0 L402.2 398.2 L402.9 399.5 L402.6 400.8 L401.7 402.2 L401.7 403.5 L401.9 404.8 L402.2 406.1 L402.0 407.4 L402.2 408.7 L401.7 410.0 L402.7 411.3 L402.8 412.6 L403.6 413.8 L402.8 415.2 L402.6 416.5 L402.6 417.8 L403.3 419.1 L403.4 420.4 L403.2 421.7 L403.6 423.0 L403.3 424.3 L404.0 423.1 L402.9 421.7 L403.5 420.5 L403.5 419.2 L403.0 417.9 L403.6 416.6 L403.7 415.4 L403.0 414.0 L403.5 412.8 L403.6 411.5 L403.5 410.2 L404.9 408.8 L404.2 410.2 L404.3 411.5 L404.0 412.9 L403.9 414.2 L405.0 415.4 L405.3 416.7 L405.1 417.9 L404.8 419.2 L405.7 420.3 L405.3 421.6 L405.1 422.9 L406.6 424.0 L406.0 425.3 L406.6 426.6 L406.4 428.0 L405.7 429.4 L405.8 430.7 L406.3 432.0 L406.9 433.3 L406.3 434.7 L407.1 436.0 L407.7 437.3 L407.1 438.7 L407.4 440.0 L407.3 441.3 L407.6 442.5 L407.5 443.7 L406.9 445.0 L407.8 446.1 L407.8 447.3 L408.6 448.5 L408.0 449.9 L408.1 451.2 L409.2 452.5 L408.6 453.9 L409.3 455.2 L409.9 456.4 L409.4 457.8 L409.1 459.1 L408.9 460.3 L409.8 461.4 L409.4 462.7 L409.8 463.7 L410.3 462.4 L411.0 461.1 L411.5 459.8 L411.0 458.4 L410.4 457.1 L411.2 455.8 L412.1 454.5 L410.9 453.1 L411.5 451.7 L411.3 450.4 L411.6 449.0 L411.8 447.7 L412.0 446.3 L411.5 444.9 L412.8 443.6 L411.9 442.3 L411.2 441.0 L411.4 439.7 L410.9 438.4 L411.3 437.1 L411.7 435.8 L411.6 434.6 L412.1 433.3 L412.5 432.0 L412.4 430.7 L412.3 429.4 L411.9 428.1 L413.1 426.9 L411.9 425.5 L411.9 424.2 L412.2 423.0 L412.1 421.7 L412.0 420.4 L412.6 419.1 L412.1 417.8 L411.9 416.5 L411.8 415.2 L412.1 413.9 L412.4 412.6 L412.8 411.4 L412.4 410.1 L412.3 408.8 L412.5 407.5 L413.3 406.2 L412.4 407.5 L412.7 408.8 L412.0 410.2 L412.6 411.5 L413.8 412.7 L414.1 414.0 L413.4 415.4 L413.1 416.7 L414.0 418.0 L414.0 419.3 L414.2 420.6 L414.1 422.0 L414.9 423.2 L414.2 424.6 L413.4 426.0 L413.8 427.3 L414.4 428.6 L414.5 429.9 L415.2 431.1 L414.3 432.5 L414.8 433.8 L414.3 435.2 L414.7 436.5 L415.0 437.8 L414.7 439.1 L415.1 440.4 L415.6 441.7 L413.9 443.0 L414.7 441.8 L414.6 440.5 L414.7 439.2 L415.3 438.0 L415.7 436.7 L415.4 435.4 L416.2 434.2 L416.1 432.9 L415.6 431.6 L415.5 430.3 L415.9 429.1 L416.2 427.8 L415.8 426.5 L416.0 425.3 L416.0 424.0 L416.9 422.8 L415.8 421.4 L417.0 420.2 L416.5 418.9 L416.6 417.7 L417.5 416.5 L417.6 415.2 L416.9 413.9 L417.9 412.7 L416.8 411.3 L416.7 410.0 L417.4 408.8 L417.3 407.5 L416.9 406.3 L417.3 407.5 L417.3 408.8 L418.4 409.9 L418.2 411.2 L417.6 412.5 L417.0 413.9 L418.1 415.0 L418.9 416.2 L418.5 417.5 L419.4 418.7 L418.4 420.2 L418.0 421.6 L418.9 422.8 L419.4 424.0 L418.6 425.7 L420.1 426.3 L419.7 427.6 L420.1 428.6 L420.6 430.0 L421.1 431.4 L421.3 432.7 L421.1 431.4 L422.4 430.2 L421.8 428.9 L422.3 427.7 L422.4 426.4 L423.3 425.2 L422.5 423.9 L422.0 422.5 L422.0 421.2 L423.3 420.1 L423.1 418.8 L422.3 417.3 L423.1 416.2 L423.3 414.9 L424.0 413.6 L423.9 414.9 L424.2 416.2 L424.0 417.5 L424.4 418.7 L424.3 420.0 L425.4 421.2 L425.7 422.5 L425.5 424.0 L425.8 425.3 L426.1 426.8 L426.8 428.1 L426.8 429.4 L427.4 430.5 L427.9 431.7 L428.1 432.9 L429.2 433.7 L429.4 434.9 L429.9 436.0 L429.5 437.4 L429.5 438.8 L429.0 440.2 L430.5 441.3 L429.6 442.8 L430.1 444.1 L430.6 445.4 L430.2 446.8 L430.7 448.1 L430.7 449.5 L431.0 450.8 L431.1 452.1 L431.4 453.4 L432.0 454.7 L431.5 456.1 L433.4 457.2 L432.0 458.7 L432.6 459.9 L433.3 461.1 L433.0 462.3 L432.5 463.7 L432.5 464.9 L432.8 466.1 L432.8 464.8 L433.5 463.5 L433.2 462.1 L433.4 460.8 L434.3 459.5 L433.7 458.2 L433.6 456.9 L433.5 455.5 L433.5 454.2 L434.0 452.9 L433.4 451.6 L433.6 450.2 L433.6 448.9 L433.1 447.6 L433.0 446.2 L433.9 445.0 L434.6 443.7 L434.2 442.3 L434.8 441.0 L434.0 439.7 L434.6 438.4 L433.6 437.0 L433.3 435.7 L433.8 434.4 L434.1 433.1 L434.9 431.8 L434.5 430.5 L434.5 429.1 L434.4 427.8 L434.5 426.5 L434.0 425.2 L434.9 423.9 L435.0 422.6 L434.1 421.2 L434.7 419.9 L435.8 421.2 L435.8 422.5 L435.6 423.9 L435.9 425.2 L435.6 426.6 L434.5 428.1 L435.6 429.3 L435.8 430.6 L435.5 431.9 L436.2 433.1 L436.1 434.5 L436.4 435.7 L436.3 437.0 L436.9 438.3 L437.0 439.6 L437.7 438.3 L437.5 436.9 L438.2 435.6 L438.9 434.3 L438.5 432.9 L438.7 431.5 L438.6 430.2 L438.7 428.8 L438.9 427.6 L439.3 428.8 L439.4 430.2 L440.0 431.4 L440.5 433.0 L440.3 434.4 L441.2 435.7 L440.5 437.0 L441.3 438.3 L440.2 439.7 L440.9 441.0 L441.3 442.3 L441.0 443.6 L443.0 444.7 L441.4 446.1 L440.6 447.4 L441.6 448.6 L441.4 449.9 L442.4 451.2 L442.0 452.4 L442.2 453.7 L443.2 454.9 L442.2 456.3 L441.8 457.6 L442.4 458.8 L441.2 460.1 L442.5 461.3 L442.2 462.9 L442.9 464.2 L443.6 465.1 L442.7 466.4 L443.8 467.6 L443.6 468.9 L444.1 470.2 L443.3 471.5 L444.5 472.8 L444.3 474.1 L444.2 475.3 L443.7 476.7 L443.5 478.0 L443.2 479.3 L443.2 480.5 L444.2 481.8 L443.7 483.1 L443.8 484.4 L444.1 485.7 L445.2 487.1 L445.3 485.7 L445.3 484.3 L444.6 482.9 L444.9 484.2 L445.8 485.4 L445.5 486.7 L445.1 488.0 L445.8 489.3 L445.4 490.6 L445.6 491.9 L445.5 493.2 L446.0 494.4 L446.6 495.7 L446.5 497.0 L445.4 498.3 L446.5 499.5 L446.1 500.8 L446.5 502.1 L446.0 503.4 L446.5 504.6 L445.6 506.0 L446.6 507.2 L446.7 505.9 L447.5 504.8 L447.6 503.4 L447.5 502.0 L447.6 500.6 L447.0 499.2 L446.6 497.7 L447.3 496.4 L447.0 495.0 L446.7 493.7 L448.1 492.4 L448.0 491.1 L447.5 489.8 L447.5 488.5 L448.6 487.2 L448.6 485.9 L448.6 484.6 L448.6 483.3 L448.5 482.0 L448.3 483.2 L449.5 484.3 L448.7 485.6 L449.1 484.3 L448.5 483.0 L448.4 481.7 L449.3 480.4 L449.7 479.1 L449.2 477.7 L448.8 476.4 L449.3 475.1 L449.3 473.8 L449.6 472.5 L449.7 471.2 L449.2 469.8 L448.7 468.5 L449.3 467.2 L448.9 465.9 L448.6 464.6 L449.3 463.4 L448.9 462.1 L449.3 460.8 L449.5 459.5 L449.8 458.2 L449.7 457.0 L449.9 455.7 L449.9 454.4 L449.8 453.1 L449.9 451.8 L449.8 450.5 L449.2 449.2 L449.3 447.7 L449.9 446.5 L450.5 445.3 L450.5 444.0 L451.0 442.8 L451.8 441.5 L451.5 440.2 L451.8 438.9 L452.8 437.7 L452.8 436.4 L452.5 435.0 L453.4 433.8 L452.6 432.4 L452.4 431.1 L453.1 429.9 L452.2 428.5 L453.1 427.2 L452.7 425.8 L452.1 424.5 L452.6 423.2 L452.4 421.8 L453.1 420.6 L452.8 419.2 L453.4 417.9 L452.2 416.5 L453.4 415.3 L453.8 414.0 L452.8 412.6 L453.8 411.3 L452.9 410.0 L453.8 408.7 L453.6 407.4 L452.5 406.0 L453.0 404.7 L452.9 403.4 L454.1 402.2 L453.7 400.9 L453.2 399.5 L454.0 398.3 L454.1 397.0 L454.7 395.7 L453.8 394.4 L454.8 393.2 L455.2 391.9 L454.9 390.6 L455.0 389.3 L455.0 388.1 L455.3 386.8 L455.7 385.6 L455.7 384.3 L456.0 383.0 L455.2 381.7 L456.5 380.5 L454.7 379.1 L455.6 377.9 L455.0 379.1 L455.9 380.4 L456.3 381.6 L455.5 382.9 L456.7 384.1 L455.7 385.4 L456.0 386.6 L456.8 387.9 L455.7 389.1 L455.5 390.5 L455.9 389.4 L456.9 388.5 L456.6 387.1 L457.3 385.9 L457.4 384.5 L457.0 383.1 L457.3 381.7 L457.6 380.5 L457.6 379.3 L458.0 378.1 L457.5 376.8 L458.8 375.7 L458.1 374.4 L459.4 375.7 L458.7 377.0 L459.1 378.3 L459.0 379.6 L458.7 380.9 L459.4 382.1 L459.3 383.4 L458.8 384.7 L458.6 386.0 L458.8 387.3 L457.7 388.6 L457.8 389.9 L457.7 391.1 L458.6 392.4 L459.1 393.6 L459.4 394.9 L459.1 396.2 L459.1 397.5 L459.7 398.8 L460.3 400.0 L459.6 401.4 L460.2 402.6 L459.7 404.0 L460.4 405.3 L459.3 406.7 L460.0 407.9 L459.8 409.3 L461.0 410.5 L460.7 411.8 L460.9 413.1 L460.9 414.4 L461.6 415.6 L461.6 416.9 L460.8 418.3 L460.8 419.6 L461.5 420.8 L461.6 422.1 L461.1 423.4 L461.4 424.6 L461.4 425.9 L461.9 427.1 L462.3 428.4 L462.4 429.6 L463.0 430.8 L461.8 432.1 L462.5 430.9 L462.5 429.6 L462.5 428.4 L462.2 427.1 L463.4 426.0 L462.9 424.7 L462.4 423.4 L463.4 422.2 L463.9 421.0 L463.3 419.7 L463.5 418.4 L464.3 417.3 L464.3 416.0 L463.9 414.7 L463.8 413.5 L464.2 412.3 L463.9 411.0 L463.9 409.7 L464.5 408.5 L464.3 407.3 L464.0 406.0 L464.4 404.8 L463.8 403.4 L464.5 402.2 L465.6 401.0 L465.6 399.7 L464.9 398.4 L465.9 397.2 L465.1 395.9 L465.4 394.6 L465.3 393.3 L466.3 392.0 L466.1 390.7 L466.4 389.4 L467.0 388.1 L466.3 386.7 L466.7 387.9 L466.4 389.3 L466.9 390.6 L467.3 391.9 L466.9 393.3 L466.6 394.7 L468.1 395.8 L468.4 397.0 L467.8 398.4 L467.5 399.6 L467.6 400.9 L468.4 402.0 L468.8 403.3 L469.2 404.5 L469.3 405.8 L470.2 407.0 L470.3 408.3 L469.2 409.7 L470.2 410.9 L470.2 412.2 L470.3 413.5 L470.8 414.8 L471.4 413.6 L471.7 412.3 L471.4 411.0 L471.9 409.7 L471.8 408.4 L472.1 407.1 L472.1 405.8 L472.0 404.6 L473.0 403.4 L472.1 402.0 L472.0 400.7 L472.6 399.5 L472.0 398.1 L473.7 396.8 L473.8 398.0 L473.1 399.4 L473.6 400.6 L473.1 402.0 L473.8 403.1 L474.2 404.4 L474.1 405.8 L475.2 407.0 L475.2 408.3 L474.2 409.8 L475.0 411.0 L474.8 409.7 L475.0 408.4 L475.5 407.2 L475.2 405.9 L475.0 404.6 L475.8 403.3 L475.2 402.0 L475.3 400.8 L475.9 399.5 L475.9 398.2 L476.9 397.0 L476.1 395.7 L475.8 394.4 L476.6 393.1 L476.2 394.3 L476.7 395.6 L476.4 396.8 L477.0 398.0 L475.9 399.3 L477.2 400.5 L477.0 401.7 L477.2 402.9 L477.1 404.2 L477.0 405.4 L477.6 406.7 L477.0 408.0 L476.7 409.3 L476.7 410.5 L477.6 411.7 L476.5 413.1 L477.1 414.3 L477.2 415.5 L477.4 416.8 L477.0 418.1 L477.4 419.2 L477.7 420.4 L477.7 421.6 L479.2 422.6 L478.3 424.0 L477.9 425.3 L479.4 426.3 L478.8 427.7 L478.9 428.9 L479.2 430.1 L480.5 429.0 L479.3 427.5 L479.7 426.2 L480.2 425.0 L479.5 423.6 L480.2 422.4 L480.7 421.2 L481.0 419.9 L481.4 418.7 L481.6 417.4 L481.0 416.0 L482.1 414.7 L482.4 416.0 L482.0 417.4 L482.7 418.6 L482.2 420.0 L483.0 421.3 L484.1 422.5 L484.2 424.1 L484.0 425.3 L483.7 426.6 L484.7 427.8 L484.0 429.1 L484.4 430.4 L484.2 431.7 L484.1 432.9 L484.9 434.1 L485.1 435.4 L484.4 436.8 L484.8 438.1 L484.5 439.4 L485.0 440.7 L485.8 442.0 L486.3 443.2 L486.8 444.5 L486.2 445.9 L486.4 447.0 L485.5 448.5 L486.7 449.4 L486.0 450.9 L487.9 452.0 L487.4 453.4 L487.7 454.7 L487.6 453.5 L488.2 452.3 L488.7 451.1 L488.7 449.9 L487.9 448.5 L487.6 447.2 L488.2 446.1 L488.1 444.8 L488.6 443.5 L489.3 442.3 L489.2 441.0 L489.4 439.8 L489.3 438.5 L490.3 437.3 L489.5 435.9 L489.3 434.7 L489.9 433.4 L490.3 432.1 L489.6 430.8 L490.3 429.5 L489.9 428.2 L489.6 426.9 L490.2 425.6 L491.1 424.3 L491.4 423.1 L491.0 421.7 L490.9 420.5 L491.0 419.2 L491.2 417.9 L491.5 416.6 L491.8 415.4 L490.4 414.0 L491.5 412.8 L492.0 411.6 L491.7 410.3 L492.3 409.0 L492.2 407.8 L491.2 406.3 L491.7 405.0 L492.0 403.7 L491.9 402.3 L492.5 401.0 L492.8 399.7 L493.3 398.4 L491.8 397.0 L493.0 395.8 L492.5 394.5 L492.9 393.3 L493.0 392.1 L493.1 390.8 L492.8 389.5 L493.4 388.3 L493.7 387.1 L493.4 385.8 L494.0 384.6 L493.1 383.3 L493.8 382.0 L494.7 380.8 L494.5 379.5 L493.7 378.2 L493.8 377.0 L494.4 375.7 L493.7 374.4 L494.0 373.2 L493.6 371.9 L494.6 370.6 L495.2 369.3 L494.3 367.8 L494.6 366.5 L495.3 365.2 L495.3 363.8 L495.9 362.5 L495.7 361.1 L496.5 359.8 L496.4 358.4 L496.2 357.0 L496.0 355.7 L496.0 354.3 L495.7 352.9 L496.0 354.3 L496.4 355.7 L496.2 357.2 L496.8 358.6 L497.5 359.9 L496.4 361.4 L496.9 362.7 L497.1 364.0 L497.2 365.4 L497.1 366.7 L497.2 365.1 L497.5 363.7 L498.2 362.3 L498.6 361.4 L499.4 360.6 L498.8 359.2 L499.0 357.9 L499.8 356.7 L498.9 355.3 L500.1 354.2 L499.3 352.4 L501.4 351.0 L501.4 352.3 L501.0 353.7 L501.0 355.1 L500.9 356.4 L500.8 357.8 L500.7 359.3 L501.5 360.6 L502.0 361.9 L502.4 363.1 L502.2 364.4 L502.3 365.6 L502.7 366.9 L502.7 368.2 L502.8 369.4 L502.7 370.7 L502.8 371.9 L502.9 373.2 L501.9 374.5 L501.7 375.8 L502.3 377.0 L502.4 378.3 L503.0 379.5 L502.7 380.8 L503.4 382.0 L503.6 383.3 L503.7 384.6 L503.2 386.0 L503.8 387.2 L503.0 388.6 L505.7 389.8 L504.5 388.3 L503.5 386.9 L504.7 385.6 L504.8 384.3 L505.3 383.0 L505.4 381.6 L505.1 380.3 L505.0 378.9 L505.1 377.6 L506.6 376.3 L506.1 374.9 L505.6 376.3 L505.4 377.6 L505.8 378.9 L505.9 380.3 L506.5 381.6 L506.5 382.9 L506.4 384.2 L507.2 385.5 L507.0 386.9 L507.3 388.2 L507.1 389.5 L506.6 390.9 L507.3 392.2 L506.4 393.6 L505.4 395.0 L506.2 396.3 L506.8 397.3 L507.5 397.8 L508.1 399.1 L509.5 400.2 L508.7 401.8 L509.5 403.0 L509.8 404.2 L509.1 405.8 L510.0 406.8 L509.9 408.2 L510.2 409.4 L510.1 410.7 L510.5 412.0 L511.6 413.1 L512.4 414.3 L512.5 415.7 L512.7 416.9 L512.7 418.4 L513.2 419.7 L513.7 421.0 L514.4 422.3 L515.3 423.6 L515.8 425.0 L515.3 426.6 L516.2 428.1 L516.3 426.8 L516.0 425.4 L516.1 424.1 L515.9 422.7 L516.4 421.4 L516.1 420.1 L516.2 418.8 L516.5 417.5 L516.5 416.1 L516.5 414.7 L517.0 413.3 L517.2 412.0 L517.2 410.6 L516.5 409.2 L517.3 410.5 L517.7 411.8 L517.5 413.2 L517.3 414.6 L518.2 415.9 L517.6 417.4 L518.1 418.7 L519.3 419.9 L518.4 421.4 L518.3 422.8 L518.7 424.2 L519.6 425.5 L518.9 427.0 L519.0 428.2 L519.5 426.9 L520.0 425.6 L519.9 424.2 L521.3 423.1 L520.8 421.7 L521.0 420.3 L520.9 418.9 L522.1 418.0 L522.2 416.6 L522.1 415.1 L522.8 413.8 L523.2 412.4 L523.8 411.3 L524.4 410.1 L525.1 408.8 L524.8 407.4 L524.8 406.1 L525.9 404.9 L525.3 403.6 L525.2 402.2 L524.5 400.9 L525.1 399.6 L525.6 398.3 L526.6 397.1 L525.0 395.6 L524.9 394.4 L525.6 395.7 L526.5 396.9 L525.5 398.3 L526.4 399.5 L526.3 400.8 L525.9 402.1 L525.4 403.4 L526.5 404.6 L527.2 405.8 L526.4 407.2 L526.3 408.5 L526.9 409.8 L527.0 411.2 L526.3 412.6 L526.6 414.0 L527.4 415.3 L527.1 416.7 L527.8 418.0 L527.5 419.4 L527.7 418.1 L527.4 416.7 L528.0 415.5 L527.7 414.1 L528.2 412.8 L527.9 411.4 L529.1 410.3 L528.7 408.9 L530.2 407.9 L529.5 406.5 L529.1 405.2 L529.3 403.9 L529.4 402.7 L529.9 401.3 L530.9 402.9 L531.4 404.1 L531.4 405.5 L531.9 406.8 L531.7 408.0 L532.5 409.0 L533.3 410.0 L533.2 411.2 L533.5 412.4 L534.1 413.6 L533.9 414.9 L534.4 416.0 L533.6 417.4 L534.2 418.5 L533.6 419.8 L533.9 421.0 L533.2 422.4 L533.2 423.7 L534.2 424.9 L534.4 426.3 L535.1 427.5 L534.9 428.8 L535.2 430.1 L535.9 428.8 L536.1 427.4 L536.1 426.0 L536.4 424.6 L536.7 423.3 L537.0 422.1 L537.6 420.9 L536.7 419.5 L536.5 418.3 L536.9 417.0 L536.5 415.7 L537.4 414.5 L537.0 413.2 L536.9 412.0 L536.9 410.7 L537.9 409.6 L537.9 408.4 L537.6 407.1 L539.2 406.1 L539.0 404.8 L538.2 403.4 L538.8 402.2 L538.9 400.9 L538.4 399.5 L539.4 398.3 L538.4 396.9 L538.8 395.7 L539.5 394.5 L539.0 393.1 L538.8 391.8 L539.1 390.6 L539.7 389.3 L540.0 388.1 L540.1 386.8 L540.3 385.5 L540.5 384.2 L540.2 382.9 L540.3 381.7 L539.8 380.3 L539.4 379.0 L541.1 377.3 L541.4 378.6 L541.8 377.5 L540.8 376.1 L542.1 375.1 L542.7 373.9 L542.7 375.3 L543.0 376.6 L542.6 378.1 L543.2 379.4 L543.6 380.7 L543.2 382.0 L543.5 383.3 L544.2 384.5 L543.4 385.8 L543.5 387.6 L543.9 388.9 L544.1 390.2 L544.8 391.5 L545.1 392.8 L545.0 394.2 L545.0 395.6 L545.1 397.0 L546.3 398.2 L545.9 399.7 L546.1 401.1 L547.3 402.4 L547.2 403.7 L548.3 404.9 L547.4 406.4 L548.5 407.5 L548.5 408.9 L549.3 410.0 L548.9 411.3 L549.4 412.5 L548.7 413.9 L550.3 414.9 L549.0 416.3 L550.4 417.4 L549.9 418.9 L550.3 420.1 L550.5 421.4 L551.9 422.6 L551.4 424.0 L550.1 425.5 L550.9 426.8 L551.5 428.1 L550.6 429.5 L551.2 430.8 L552.1 432.0 L551.3 433.4 L551.7 434.6 L552.6 435.8 L552.8 437.1 L552.6 439.1 L554.0 438.8 L555.7 437.5 L555.0 436.1 L555.3 434.9 L554.7 433.5 L555.5 432.4 L556.3 431.3 L556.4 430.0 L556.6 428.8 L556.4 427.5 L557.4 426.4 L557.3 425.1 L557.2 423.9 L556.6 422.5 L556.6 421.1 L557.4 419.8 L558.0 418.5 L557.8 417.0 L557.8 415.6 L558.6 414.5 L558.9 413.3 L558.3 411.9 L559.2 410.8 L558.4 409.5 L558.7 408.3 L558.7 407.0 L559.5 405.9 L559.4 404.6 L558.8 403.3 L559.2 402.1 L559.4 400.9 L559.7 399.6 L560.1 398.2 L559.5 396.7 L560.6 395.5 L561.7 394.2 L561.1 392.8 L561.8 393.9 L561.3 395.2 L562.2 396.4 L562.0 397.6 L562.0 398.9 L561.6 400.1 L561.8 401.4 L561.9 402.6 L562.2 403.8 L562.7 405.1 L562.9 406.4 L562.8 407.8 L563.8 409.1 L563.4 410.5 L562.5 411.9 L563.5 413.2 L564.1 414.5 L564.4 415.8 L564.3 417.2 L564.4 418.6 L565.1 419.9 L564.8 421.3 L565.3 422.6 L564.3 424.1 L565.0 425.4 L565.2 426.7 L565.5 428.1 L565.8 426.9 L566.4 425.6 L566.5 424.3 L566.2 423.0 L565.6 421.6 L565.2 420.1 L566.7 418.9 L566.6 417.4 L567.0 416.1 L567.6 414.7 L567.1 413.4 L567.9 412.2 L568.8 411.0 L568.2 409.6 L567.5 408.2 L568.5 407.1 L567.6 405.6 L568.5 404.5 L569.1 403.3 L569.6 402.0 L568.0 400.6 L570.1 399.7 L569.8 398.4 L570.2 397.2 L570.6 396.0 L570.0 394.7 L570.6 393.5 L570.5 392.1 L570.6 390.8 L570.7 389.4 L571.5 388.1 L571.5 386.6 L571.7 385.4 L572.6 384.4 L572.1 383.1 L574.0 382.2 L573.8 380.9 L574.0 379.7 L574.5 378.5 L574.2 377.2 L574.1 375.9 L574.8 374.8 L574.6 373.4 L575.4 372.1 L575.5 373.4 L575.8 374.7 L575.9 376.0 L575.9 377.2 L576.1 378.4 L576.9 379.5 L576.3 380.8 L576.0 382.1 L576.6 383.2 L577.2 384.3 L577.4 385.8 L579.0 387.0 L578.3 388.4 L578.7 389.5 L580.2 390.5 L578.6 391.9 L579.0 390.7 L580.3 389.5 L580.0 388.2 L578.6 386.8 L578.9 385.6 L579.3 384.4 L580.5 383.2 L579.3 381.8 L580.9 380.7 L579.9 379.4 L580.9 380.5 L580.9 381.9 L581.4 383.2 L580.6 384.7 L581.3 386.0 L581.4 387.4 L581.0 388.8 L582.2 390.1 L582.7 391.3 L583.0 392.6 L584.0 393.6 L583.3 395.2 L584.6 393.8 L585.0 395.0 L584.3 396.6 L585.1 397.5 L586.6 396.4 L586.5 395.0 L586.4 393.6 L585.8 392.2 L586.8 391.0 L586.5 389.6 L586.5 388.3 L587.7 387.1 L587.9 385.8 L587.3 384.5 L587.8 383.4 L587.6 382.1 L587.3 380.5 L588.2 379.2 L589.6 378.6 L589.9 377.5 L590.7 376.6 L591.4 375.5 L591.0 374.2 L591.4 373.1 L592.0 372.0 L592.2 370.8 L593.0 369.7 L592.8 368.3 L592.4 367.0 L593.4 365.8 L592.9 364.4 L593.6 363.3 L594.6 362.1 L594.0 360.7 L593.7 359.4 L594.5 358.2 L594.5 357.1 L596.0 355.8 L596.4 354.4 L596.5 352.9 L596.8 351.7 L597.3 350.5 L597.5 349.3 L597.4 348.0 L596.4 346.7 L597.2 345.5 L596.8 344.2 L597.4 343.1 L598.4 341.9 L598.2 340.7 L597.8 339.4 L598.0 338.2 L598.9 337.1 L599.4 336.1 L598.9 334.4 L599.4 333.1 L600.2 332.0 L600.1 330.7 L600.2 329.4 L599.8 327.8 L600.8 326.7 L601.5 325.4 L601.7 323.8 L603.2 322.6 L603.9 323.9 L603.8 325.4 L604.3 326.7 L604.7 328.0 L604.6 329.3 L604.6 330.6 L605.8 331.7 L605.0 333.1 L605.6 334.2 L605.9 335.3 L606.1 336.5 L607.1 337.6 L608.3 339.1 L607.1 337.8 L607.3 336.5 L608.1 335.4 L606.9 334.0 L607.2 332.8 L607.4 331.6 L607.5 330.4 L607.7 329.2 L608.1 327.9 L609.1 326.7 L609.1 325.4 L608.9 324.1 L608.6 322.7 L609.6 321.5 L609.4 320.2 L609.0 318.8 L609.6 317.6 L610.3 318.9 L609.9 320.4 L610.1 321.8 L611.0 323.0 L611.0 324.4 L610.9 325.6 L611.0 326.8 L611.5 327.8 L611.7 328.9 L612.3 330.1 L613.9 331.0 L614.0 332.4 L613.4 333.9 L613.1 335.3 L613.2 336.8 L613.5 337.9 L614.0 338.9 L614.5 340.1 L615.2 340.9 L615.5 341.7 L615.9 342.9 L616.2 344.1 L615.7 345.4 L615.8 346.7 L617.4 347.7 L616.7 349.1 L617.2 350.4 L618.3 351.5 L618.0 352.9 L618.6 354.1 L617.4 355.9 L618.6 357.0 L619.0 358.5 L619.9 359.4 L620.8 360.4 L620.9 361.7 L621.1 363.0 L621.1 364.3 L620.6 365.7 L620.1 367.1 L621.1 368.3 L621.5 369.5 L622.3 370.7 L622.4 372.0 L621.8 373.3 L622.4 374.5 L622.2 375.8 L622.9 377.0 L622.6 378.3 L622.9 377.0 L623.1 375.7 L623.2 374.3 L623.5 373.0 L622.8 371.3 L624.2 370.2 L624.3 368.8 L625.6 367.7 L626.0 366.5 L625.2 365.1 L625.4 363.9 L625.4 362.7 L625.8 361.4 L626.3 360.3 L625.7 358.9 L626.5 357.8 L626.3 356.5 L627.0 355.3 L627.2 356.5 L627.3 357.7 L627.4 358.9 L626.9 360.2 L626.8 361.4 L627.0 362.6 L628.4 363.8 L628.3 365.0 L627.2 366.3 L628.3 367.5 L627.9 368.7 L627.9 370.0 L628.7 371.2 L628.3 372.6 L629.5 370.8 L629.7 372.0 L629.5 373.2 L629.5 374.5 L629.6 375.7 L629.7 376.8 L629.2 378.2 L630.6 379.2 L630.3 380.5 L630.5 381.7 L631.7 382.8 L631.8 384.0 L631.9 385.3 L632.2 386.6 L631.7 388.1 L631.9 389.2 L631.9 387.8 L631.6 386.5 L631.5 385.2 L633.2 384.1 L633.3 382.8 L633.9 381.6 L634.4 380.4 L633.9 379.0 L634.3 377.8 L635.0 376.6 L635.0 375.2 L635.8 373.9 L636.1 372.6 L635.8 371.3 L635.0 369.9 L635.9 368.8 L636.7 367.7 L636.4 366.4 L637.0 365.3 L637.4 364.2 L638.0 363.1 L638.5 361.9 L638.4 360.7 L638.3 359.4 L638.4 358.2 L638.2 356.9 L639.0 355.8 L640.0 354.6 L640.6 353.5 L640.0 352.2 L639.9 351.0 L640.6 349.9 L640.2 348.6 L640.4 347.6 L641.3 348.6 L641.3 349.9 L641.7 351.0 L642.6 352.2 L642.8 353.5 L643.0 354.8 L642.0 356.2 L642.5 357.5 L643.1 358.8 L644.1 360.0 L643.6 361.5 L643.3 362.9 L644.2 364.0 L644.7 365.3 L645.0 366.5 L645.8 367.7 L644.7 369.2 L645.6 370.4 L645.3 371.6 L645.0 372.9 L646.0 374.1 L646.4 375.3 L645.7 376.6 L646.2 377.9 L645.9 379.1 L646.1 380.4 L646.0 381.6 L648.1 382.8 L647.2 382.7 L646.9 381.4 L646.3 379.9 L646.8 378.8 L648.6 377.9 L648.8 376.4 L648.8 375.2 L648.7 373.9 L649.3 372.8 L650.0 371.6 L648.5 370.2 L649.8 369.1 L650.0 367.9 L650.0 366.5 L650.4 365.1 L650.6 363.7 L651.3 362.4 L651.4 360.8 L651.3 362.2 L650.9 363.5 L652.0 364.7 L651.7 366.0 L652.2 367.3 L651.5 368.9 L652.6 369.8 L653.1 371.1 L654.3 372.1 L654.7 370.7 L656.4 369.6 L655.4 368.1 L655.7 366.9 L655.4 365.6 L656.4 364.6 L656.0 363.3 L657.2 362.1 L656.9 360.8 L656.5 359.4 L657.0 358.1 L657.1 356.8 L656.9 355.4 L657.0 354.1 L657.8 352.9 L658.0 351.7 L658.4 350.5 L658.1 349.2 L658.0 347.9 L658.8 346.8 L659.2 345.5 L659.3 344.1 L659.6 342.8 L659.1 341.4 L659.1 340.1 L659.5 338.8 L659.6 337.6 L660.0 336.3 L659.3 335.0 L659.5 333.8 L659.3 332.5 L659.2 331.2 L659.1 330.0 L660.4 328.8 L659.8 327.5 L660.3 326.2 L660.8 324.9 L661.8 323.6 L661.3 322.2 L660.7 320.8 L661.3 319.5 L660.7 318.1 L660.5 316.8 L661.5 315.4 L661.9 316.7 L662.0 318.1 L662.0 319.5 L661.9 320.9 L662.5 322.2 L661.5 323.7 L661.5 325.0 L661.2 326.4 L661.9 327.8 L662.1 329.1 L662.3 330.5 L662.7 331.9 L662.6 333.2 L662.8 334.6 L662.9 336.0 L663.1 337.4 L662.7 336.1 L663.5 335.0 L663.3 333.7 L663.0 332.3 L662.8 331.1 L663.3 329.9 L663.0 328.6 L663.5 327.5 L664.9 326.4 L664.1 325.1 L664.4 323.9 L663.8 322.7 L663.7 324.1 L664.5 325.4 L664.9 326.7 L665.3 328.0 L665.5 329.4 L665.6 330.8 L664.7 332.3 L664.7 333.5 L664.7 334.7 L665.5 335.9 L665.0 337.2 L666.3 338.2 L666.7 339.4 L666.7 340.7 L667.0 341.8 L666.1 343.5 L666.6 345.0 L666.8 346.4 L667.2 347.6 L667.2 348.8 L667.4 350.1 L668.5 351.2 L667.9 352.5 L668.5 353.7 L668.7 354.9 L668.7 356.4 L669.0 357.7 L669.2 359.1 L669.3 360.5 L669.9 361.8 L669.9 363.1 L669.6 364.5 L670.1 365.8 L669.9 367.2 L670.1 368.6 L671.4 369.7 L672.4 370.8 L672.0 372.3 L671.9 373.9 L673.2 375.1 L672.9 376.8 L674.0 378.0 L672.9 379.3 L673.0 380.6 L673.5 381.9 L673.4 383.2 L672.6 384.5 L672.9 385.7 L673.3 387.0 L673.8 388.3 L674.2 389.5 L673.4 390.8 L674.0 392.1 L673.2 393.4 L672.8 394.7 L675.2 396.0 L676.1 394.8 L675.0 393.4 L674.9 392.1 L674.8 390.8 L674.4 389.4 L675.6 388.2 L674.6 386.8 L675.7 385.6 L675.6 384.3 L675.0 383.0 L675.0 381.7 L676.5 380.6 L675.9 379.3 L676.3 378.0 L676.1 376.7 L675.1 375.4 L675.7 374.2 L676.0 372.9 L675.7 371.6 L676.2 370.4 L675.4 369.1 L676.6 367.9 L676.1 369.1 L676.1 370.4 L675.9 371.6 L676.9 372.9 L676.6 374.1 L676.2 375.4 L676.3 376.6 L676.4 377.8 L676.7 379.1 L676.2 380.3 L677.0 381.7 L676.4 380.3 L676.8 379.1 L677.3 377.8 L676.5 376.4 L676.8 375.2 L677.5 374.0 L677.7 372.7 L678.0 371.4 L678.7 370.2 L678.9 368.9 L678.8 367.6 L679.1 366.2 L679.1 367.5 L678.3 368.8 L677.8 370.2 L678.6 371.4 L678.3 372.8 L677.9 374.1 L677.9 375.4 L679.1 376.7 L679.9 377.9 L680.2 379.2 L679.3 380.6 L680.0 381.8 L679.3 383.2 L679.2 384.7 L680.2 386.1 L679.7 387.6 L680.0 388.9 L680.6 390.2 L681.3 391.6 L681.3 393.0 L681.3 394.3 L682.5 395.6 L682.7 396.8 L683.3 398.0 L681.7 399.4 L682.0 400.7 L682.3 401.9 L682.9 403.1 L683.4 404.3 L682.6 405.6 L684.1 406.7 L683.0 408.1 L683.8 409.3 L683.3 410.7 L683.0 412.0 L683.5 413.2 L683.4 414.5 L684.6 415.7 L683.8 417.0 L683.4 418.3 L684.2 419.5 L684.3 420.8 L684.4 422.0 L684.4 423.2 L684.8 424.5 L684.2 425.8 L684.7 427.0 L684.8 428.2 L685.1 429.5 L685.2 430.7 L685.2 431.9 L684.8 433.3 L685.0 434.6 L685.0 435.9 L684.7 437.3 L684.4 438.6 L685.0 439.9 L685.5 441.2 L684.9 442.6 L685.8 443.9 L685.6 442.7 L686.3 441.5 L685.8 440.2 L686.5 439.1 L687.3 437.9 L686.3 436.6 L686.7 435.4 L687.1 434.2 L686.5 432.9 L686.6 431.6 L687.2 430.4 L686.9 429.2 L686.7 427.9 L687.0 426.7 L687.0 425.4 L687.1 424.2 L687.1 422.9 L687.7 421.8 L687.8 420.5 L688.2 419.2 L688.5 418.0 L688.1 416.6 L688.6 415.3 L688.9 414.0 L688.3 412.6 L688.3 411.3 L689.2 410.0 L688.6 408.6 L688.2 407.1 L687.8 405.7 L689.8 404.5 L689.5 405.9 L688.8 407.2 L689.2 408.6 L689.8 409.9 L689.9 411.2 L689.8 412.5 L688.6 414.0 L689.8 415.2 L690.6 416.5 L690.5 417.9 L690.9 419.2 L690.4 420.6 L690.1 421.9 L690.1 423.3 L689.5 424.7 L690.5 425.8 L690.7 427.0 L690.7 428.2 L691.0 429.4 L690.2 430.7 L692.1 431.8 L690.8 433.1 L691.0 434.4 L690.9 435.7 L691.7 437.0 L691.2 438.4 L692.1 439.6 L692.0 440.9 L692.1 442.3 L692.5 443.6 L692.5 444.9 L691.5 446.2 L691.9 447.5 L693.3 448.8 L692.9 450.1 L692.9 451.4 L693.1 452.7 L692.4 454.1 L692.6 455.4 L692.2 456.7 L692.7 458.0 L692.8 459.3 L693.3 460.6 L693.9 461.9 L693.1 463.3 L694.1 464.5 L693.2 465.9 L693.1 467.3 L693.5 468.6 L692.6 469.9 L693.9 471.2 L693.6 472.5 L692.6 473.7 L694.2 472.6 L694.9 471.5 L694.1 470.2 L693.2 468.8 L694.7 467.7 L694.8 466.5 L694.1 465.2 L694.7 464.0 L695.0 462.8 L694.9 461.5 L696.0 460.4 L695.0 459.1 L695.6 457.9 L696.6 456.8 L696.4 455.5 L696.4 454.3 L696.6 453.1 L696.5 451.8 L696.4 450.6 L697.1 449.4 L696.9 448.1 L696.5 446.8 L697.0 445.6 L696.8 444.3 L696.7 442.9 L696.4 441.6 L696.6 440.3 L697.5 439.1 L698.5 437.9 L698.1 439.2 L698.1 440.4 L698.6 441.6 L698.7 442.9 L697.5 444.2 L698.8 445.4 L698.2 446.7 L698.0 448.0 L698.4 449.2 L698.3 450.5 L698.4 451.7 L699.1 453.0 L698.7 454.3 L698.8 455.5 L699.7 456.8 L699.4 458.1 L699.6 459.4 L699.2 460.7 L699.6 461.9 L700.5 463.2 L700.1 464.5 L699.3 465.8 L700.3 467.0 L700.1 468.3 L699.9 469.6 L699.8 470.9 L699.9 472.2 L700.3 473.4 L700.7 474.7 L700.3 476.0 L700.5 477.2 L701.0 478.5 L701.4 479.7 L700.7 481.1 L701.5 482.3 L701.6 483.5 L701.1 484.9 L700.6 486.2 L702.1 487.3 L701.8 488.7 L702.1 490.0 L701.9 488.5 L701.7 487.1 L702.9 485.8 L701.7 484.2 L701.8 482.8 L702.9 481.6 L702.4 480.2 L703.2 479.0 L703.4 477.7 L703.8 476.7 L705.3 475.5 L705.0 474.1 L705.6 472.8 L705.6 471.4 L704.7 470.0 L704.8 468.6 L704.4 467.2 L704.4 465.8 L704.7 464.4 L705.4 463.1 L705.0 461.7 L705.2 460.3 L704.7 458.9 L705.2 457.5 L704.9 456.1 L705.7 454.8 L705.8 453.5 L705.7 452.2 L706.1 450.9 L706.8 449.7 L707.3 448.4 L706.6 447.0 L706.4 445.7 L706.6 444.4 L705.9 443.0 L706.8 441.8 L706.9 440.5 L706.7 439.2 L708.1 438.0 L708.0 439.3 L708.6 440.5 L708.7 441.8 L708.7 443.1 L708.7 444.5 L709.9 445.4 L710.4 446.5 L708.9 447.8 L709.5 446.5 L710.5 445.3 L709.6 443.9 L711.3 442.8 L710.5 441.4 L710.4 440.1 L710.0 438.8 L711.1 437.6 L712.5 436.4 L711.6 435.0 L711.7 433.7 L712.8 432.5 L712.7 431.2 L712.6 429.9 L711.9 428.6 L712.0 427.3 L712.1 426.0 L712.4 424.8 L712.7 423.5 L712.3 422.2 L713.5 421.0 L713.4 419.7 L714.0 418.4 L713.0 417.0 L712.8 415.7 L713.2 414.4 L714.3 413.3 L713.9 412.0 L713.5 410.6 L714.1 409.4 L715.0 408.3 L714.1 407.0 L715.1 408.2 L714.7 409.6 L714.6 410.9 L714.8 412.2 L715.8 413.4 L715.8 414.7 L715.9 416.0 L715.0 417.3 L715.8 418.5 L715.7 419.8 L716.6 420.9 L715.4 422.3 L715.9 423.5 L716.5 424.7 L716.8 426.0 L717.1 427.3 L716.8 428.6 L716.8 429.9 L717.3 431.2 L717.0 432.5 L717.1 433.9 L717.7 435.1 L716.8 436.5 L717.8 437.8 L717.3 439.1 L717.2 440.5 L717.9 441.7 L717.8 443.0 L718.3 441.8 L718.2 440.5 L718.6 439.3 L718.3 438.0 L718.3 436.7 L718.5 435.4 L718.9 434.2 L719.5 433.0 L718.9 431.6 L721.0 430.5 L719.5 429.2 L719.6 427.8 L720.0 426.5 L719.9 425.1 L719.8 423.8 L719.2 422.4 L719.8 421.1 L719.7 419.7 L719.7 418.4 L720.1 417.1 L720.6 415.7 L721.0 416.9 L720.5 418.2 L720.2 419.5 L721.3 420.6 L721.6 421.8 L721.8 423.0 L722.3 424.3 L722.7 425.6 L722.1 427.0 L722.9 428.3 L722.3 429.7 L721.8 431.1 L723.6 432.2 L723.1 433.6 L723.2 435.0 L724.1 436.0 L724.4 437.1 L724.9 438.3 L724.9 439.6 L724.8 441.0 L724.6 442.3 L725.0 443.6 L725.4 444.9 L726.0 446.0 L725.3 447.6 L726.5 448.7 L725.8 450.1 L726.3 451.3 L726.9 452.6 L727.8 453.8 L728.3 455.0 L728.2 456.3 L728.5 457.5 L728.0 458.8 L727.0 460.1 L726.9 461.4 L726.7 462.7 L727.4 464.0 L728.5 465.3 L728.4 466.7 L729.2 468.0 L728.3 469.5 L727.7 471.0 L728.2 472.2 L728.9 473.5 L728.6 474.8 L728.4 476.1 L728.9 477.3 L729.0 478.6 L728.8 479.9 L729.7 481.2 L729.5 479.9 L729.1 478.5 L728.5 477.1 L728.9 475.8 L728.7 474.5 L729.2 473.1 L729.0 471.8 L729.4 470.5 L729.8 469.2 L729.5 467.8 L729.9 466.5 L730.5 465.2 L730.3 463.8 L730.8 462.5 L730.5 461.2 L730.2 459.9 L730.1 458.6 L730.5 457.3 L730.7 456.0 L730.7 454.7 L731.1 453.4 L731.0 452.1 L731.2 450.8 L731.0 449.5 L731.6 448.2 L731.6 446.9 L731.1 445.6 L731.6 444.3 L730.3 442.9 L730.7 441.6 L732.1 440.5 L731.8 439.2 L731.7 438.0 L732.0 436.8 L732.3 435.6 L732.0 434.3 L732.0 433.1 L731.6 431.8 L732.3 430.5 L731.8 429.1 L732.8 427.8 L732.9 426.5 L732.7 425.1 L732.8 423.8 L733.5 425.0 L733.7 426.3 L734.2 427.5 L734.1 428.8 L733.3 430.1 L733.1 431.4 L732.7 432.7 L733.6 433.9 L733.6 435.1 L732.8 436.4 L734.2 437.6 L733.6 438.9 L734.8 440.1 L735.8 441.3 L734.8 442.6 L735.0 443.9 L734.6 445.2 L734.6 446.4 L734.7 447.7 L734.4 449.0 L734.6 450.2 L735.5 451.4 L734.1 452.7 L734.2 454.0 L735.1 455.2 L734.7 456.5 L735.0 457.7 L735.3 459.0 L734.8 457.6 L735.9 456.4 L736.2 455.2 L735.2 453.8 L736.2 452.6 L735.5 451.3 L736.0 450.0 L734.9 448.6 L735.5 447.4 L736.0 446.1 L735.8 444.9 L735.6 443.6 L736.9 442.3 L736.4 443.6 L736.5 444.9 L736.8 446.2 L736.6 447.5 L737.1 448.8 L737.4 450.1 L737.5 451.4 L738.2 452.6 L737.4 454.0 L737.7 455.2 L737.1 456.6 L737.6 457.8 L737.4 459.2 L737.3 460.5 L737.6 461.7 L737.3 463.0 L737.1 464.3 L736.8 465.5 L737.7 466.8 L737.4 468.0 L738.2 469.3 L737.5 470.6 L736.8 471.9 L737.0 473.1 L737.0 474.4 L737.3 475.6 L737.0 476.9 L737.4 478.2 L737.8 479.4 L737.7 480.7 L737.8 482.0 L738.5 483.3 L738.5 484.6 L740.0 485.9 L739.2 487.3 L739.5 488.6 L738.7 490.0 L738.5 491.3 L738.6 492.6 L737.6 494.0 L737.9 495.3 L739.0 496.6 L739.4 498.0 L739.8 499.3 L739.8 500.6 L739.1 501.9 L738.9 503.2 L738.6 504.5 L738.9 505.7 L738.6 507.0 L739.0 508.2 L738.5 509.5 L739.1 510.8 L739.1 512.1 L738.8 513.3 L739.6 514.6 L737.7 515.9 L739.3 517.1 L738.5 518.4 L739.1 519.7 L737.9 521.1 L738.6 522.4 L739.9 523.6 L739.8 524.9 L739.7 526.3 L740.1 527.6 L740.0 528.9 L739.7 530.3 L740.1 531.6 L739.7 532.9 L740.0 534.2 L740.0 535.6 L740.1 536.9 L739.6 538.2 L740.4 539.5 L739.7 540.9 L740.4 542.2 L739.7 543.6 L739.1 544.9 L739.5 546.2 L739.6 547.5 L739.7 548.9 L740.5 550.2 L741.0 551.5 L740.0 552.8 L740.3 554.2 L740.4 555.5 L740.4 556.8 L740.8 558.0 L740.7 559.3 L741.2 560.6 L740.7 561.9 L741.7 563.1 L740.2 564.5 L741.0 565.7 L740.8 567.0 L741.3 568.3 L740.5 569.6 L740.8 570.9 L741.2 572.1 L741.1 573.4 L741.4 574.7 L740.5 576.0 L741.1 577.3 L740.7 578.5 L741.1 577.2 L741.8 575.9 L741.0 574.6 L741.6 573.3 L740.9 572.0 L741.7 570.6 L741.2 569.3 L740.9 568.0 L740.7 566.7 L740.3 565.3 L741.6 564.0 L740.9 562.7 L741.6 561.4 L741.2 560.1 L741.3 558.8 L741.1 557.4 L741.3 556.1 L741.6 554.8 L741.7 553.5 L741.6 552.2 L742.0 550.9 L741.5 549.5 L740.6 548.2 L741.3 546.9 L741.7 545.6 L742.1 546.9 L741.6 548.1 L741.7 549.4 L740.9 550.7 L742.1 552.0 L741.5 553.3 L741.8 554.6 L742.0 555.9 L740.6 557.2 L740.4 558.5 L740.7 559.7 L741.5 561.0 L741.4 562.3 L741.5 563.6 L742.3 564.9 L741.4 566.2 L741.5 567.5 L741.9 568.8 L741.5 570.0 L740.6 571.3 L741.4 572.6 L741.4 573.9 L742.1 575.2 L742.1 576.5 L742.2 577.8 L741.5 579.1 L741.6 580.4 L741.7 581.6 L741.9 582.9 L741.8 584.2 L741.5 585.5 L741.0 586.8 L741.5 588.1 L742.2 589.4 L742.7 590.6 L741.3 591.9 L742.3 593.2 L742.3 594.5 L741.3 595.8 L742.2 597.1 L742.7 598.4 L741.9 599.7 L743.1 601.0 L742.4 602.2 L741.6 603.5 L742.0 602.2 L741.8 600.9 L741.6 599.6 L741.9 598.3 L741.6 596.9 L741.5 595.6 L742.3 594.3 L741.7 593.0 L742.6 591.7 L741.4 590.3 L741.7 589.0 L741.6 587.7 L741.6 586.4 L741.1 585.1 L741.9 583.8 L742.5 582.5 L742.4 581.2 L743.0 579.9 L742.8 578.5 L743.1 577.2 L742.5 575.9 L742.7 574.6 L742.4 573.2 L743.1 571.9 L742.8 570.6 L742.9 569.3 L742.7 568.0 L743.6 566.7 L742.8 568.0 L743.1 569.3 L743.3 570.6 L743.7 571.9 L743.6 573.2 L743.4 574.5 L743.5 575.8 L743.3 577.1 L744.2 578.4 L742.7 579.8 L742.3 581.1 L742.2 582.4 L743.0 583.7 L743.4 585.0 L743.6 586.3 L743.8 587.6 L743.3 588.9 L743.3 590.2 L743.5 591.5 L743.5 592.8 L743.2 594.1 L742.5 595.4 L743.2 596.8 L742.9 598.1 L743.5 599.4 L742.7 600.6 L743.5 599.4 L742.9 598.1 L743.6 596.9 L743.8 595.6 L743.8 594.4 L744.0 593.1 L744.0 591.8 L743.6 590.5 L743.3 589.3 L744.5 588.0 L743.8 586.7 L744.1 585.5 L743.4 584.2 L744.3 583.0 L744.3 581.7 L745.0 580.5 L744.4 579.2 L744.7 577.9 L745.3 576.7 L744.9 575.4 L744.9 574.1 L745.9 572.8 L745.0 574.1 L744.7 575.4 L744.9 576.7 L744.6 578.0 L744.6 579.3 L745.3 580.5 L745.7 581.7 L745.1 583.0 L746.0 584.3 L745.2 585.6 L745.5 586.9 L745.2 588.1 L746.3 586.7 L746.6 585.3 L746.6 583.8 L746.4 582.6 L746.8 581.4 L747.8 580.3 L747.0 579.0 L747.4 577.7 L746.8 576.4 L746.5 575.1 L747.1 573.9 L746.1 572.6 L746.2 571.3 L745.7 570.0 L747.2 568.7 L746.8 567.5 L747.0 566.2 L747.0 564.9 L746.3 563.6 L747.1 562.3 L747.4 561.1 L747.8 559.8 L747.6 561.1 L747.8 562.5 L748.0 563.8 L748.2 565.1 L747.6 566.5 L747.9 567.8 L747.8 566.5 L748.1 565.2 L747.8 563.8 L748.5 562.5 L748.2 561.2 L748.1 559.9 L747.9 558.5 L748.3 557.2 L748.3 555.9 L747.7 554.5 L748.7 553.2 L748.9 551.9 L748.3 550.6 L748.6 549.2 L748.2 547.9 L747.9 546.6 L748.6 545.2 L748.3 543.9 L748.4 542.6 L748.6 541.2 L748.7 539.9 L748.8 538.6 L749.6 537.3 L747.9 535.9 L749.3 534.6 L748.6 533.2 L749.9 531.9 L749.2 530.6 L749.1 529.3 L748.8 528.0 L748.7 526.7 L749.5 525.5 L749.3 524.3 L749.1 523.0 L749.0 521.7 L749.6 520.5 L749.5 519.3 L749.0 518.1 L750.2 517.0 L750.1 515.7 L749.7 514.5 L750.2 513.3 L749.9 514.6 L750.0 515.9 L750.7 517.1 L750.9 518.4 L750.9 519.7 L750.7 521.0 L750.9 522.3 L750.8 523.6 L750.4 524.9 L751.1 526.1 L750.8 527.4 L751.3 528.7 L750.7 530.0 L750.6 531.2 L751.6 532.5 L751.7 533.7 L751.6 535.0 L751.1 536.3 L751.4 537.5 L750.9 538.8 L751.4 540.0 L751.4 541.3 L750.9 542.6 L751.6 543.8 L752.1 545.1 L751.2 543.7 L751.6 542.3 L752.3 541.0 L751.8 539.6 L752.7 538.3 L752.2 537.0 L751.8 535.6 L751.4 534.2 L752.9 532.9 L752.8 531.6 L752.4 530.3 L752.9 529.0 L754.2 527.9 L753.2 526.5 L752.8 525.2 L752.9 524.0 L753.1 522.7 L753.4 521.5 L753.1 520.1 L754.4 519.2 L755.3 518.2 L755.2 519.5 L754.8 520.8 L754.6 522.1 L755.1 523.4 L755.5 524.7 L754.5 526.0 L754.9 527.3 L754.7 528.6 L754.3 529.9 L755.0 531.2 L754.7 532.5 L755.1 533.8 L754.8 535.1 L755.0 536.4 L756.1 537.7 L755.0 539.1 L755.6 540.4 L755.8 541.7 L755.5 543.0 L754.3 544.3 L756.1 545.6 L755.8 546.9 L756.5 548.2 L755.7 549.5 L756.8 550.8 L755.8 552.1 L755.2 553.4 L755.2 554.7 L755.3 556.0 L755.3 557.3 L755.0 558.6 L754.7 559.9 L755.3 561.2 L755.8 562.6 L755.4 562.4 L755.9 561.1 L755.4 559.7 L755.4 558.4 L755.1 557.0 L756.1 555.7 L755.6 554.4 L756.0 553.0 L756.7 551.7 L756.3 550.4 L755.7 549.0 L756.1 547.7 L756.5 546.4 L756.8 545.1 L757.0 543.8 L756.5 542.4 L756.4 541.1 L756.5 539.8 L756.4 538.4 L756.6 537.1 L757.1 535.8 L757.5 534.5 L757.5 533.2 L756.8 532.0 L757.7 532.9 L758.6 533.8 L758.8 535.2 L759.4 536.4 L759.6 535.0 L759.9 533.7 L760.3 532.3 L760.1 530.9 L760.9 529.6 L760.1 528.1 L761.1 526.9 L761.0 525.7 L760.6 524.4 L761.8 523.2 L761.0 521.9 L761.4 520.7 L762.0 519.5 L760.9 518.1 L761.8 516.9 L761.5 515.6 L761.5 514.3 L762.2 513.1 L762.7 511.8 L762.7 510.5 L762.2 509.2 L762.6 507.9 L762.3 506.5 L761.8 505.2 L762.3 503.9 L762.2 502.7 L763.3 501.5 L762.9 500.2 L764.2 499.0 L763.6 497.7 L764.1 496.5 L763.8 495.2 L764.7 494.0 L764.1 492.6 L763.9 491.2 L764.5 489.9 L763.6 488.4 L763.8 487.0 L763.7 485.8 L764.2 484.7 L764.8 483.6 L765.1 482.4 L764.9 481.2 L766.0 480.0 L766.1 478.5 L766.2 477.0 L766.3 475.7 L765.8 474.4 L765.8 473.1 L765.9 471.8 L766.1 470.5 L766.7 469.3 L765.5 467.9 L765.9 466.6 L765.5 465.3 L765.4 464.0 L765.2 462.7 L766.2 461.5 L767.0 460.2 L766.8 458.9 L766.0 457.6 L766.6 456.3 L765.8 454.9 L766.5 453.7 L765.9 452.5 L765.5 451.2 L766.6 450.0 L766.5 448.8 L765.7 447.5 L767.0 446.4 L768.0 445.2 L767.6 443.9 L767.7 442.6 L766.9 441.1 L767.9 439.8 L767.0 438.4 L767.6 437.1 L767.9 435.7 L768.0 434.4 L768.9 432.9 L768.1 434.3 L768.5 435.5 L768.6 436.9 L768.2 438.2 L768.4 439.5 L768.9 440.7 L768.9 442.1 L769.0 443.4 L768.4 444.8 L768.6 446.1 L768.8 447.5 L769.0 448.8 L769.7 450.2 L769.2 451.6 L769.7 452.9 L769.5 454.3 L770.0 455.7 L769.5 457.2 L770.1 458.5 L770.4 459.8 L770.0 461.1 L770.2 462.3 L770.7 463.6 L770.2 464.9 L770.3 466.1 L770.8 467.4 L770.5 468.7 L771.6 469.8 L770.5 471.2 L771.1 472.5 L771.1 473.8 L771.3 475.0 L771.3 476.3 L771.9 477.6 L770.4 479.0 L771.2 480.2 L771.8 481.5 L771.8 482.8 L772.1 484.1 L771.5 485.4 L771.5 486.7 L771.7 488.0 L771.5 489.3 L772.4 490.6 L771.6 489.3 L772.4 488.1 L772.7 486.8 L773.0 485.6 L772.9 484.3 L772.9 483.1 L772.6 481.8 L773.1 480.6 L773.6 479.3 L773.1 478.0 L773.3 476.8 L773.2 475.5 L773.7 474.3 L773.3 473.0 L772.3 471.6 L773.6 470.4 L773.3 469.1 L772.9 467.7 L774.4 466.5 L773.1 465.2 L773.6 463.9 L775.0 462.7 L774.8 461.3 L774.3 460.0 L773.5 458.6 L773.9 457.4 L775.0 456.1 L774.6 454.8 L775.2 453.5 L775.4 452.2 L774.6 450.8 L775.0 449.6 L775.6 448.3 L775.1 447.0 L775.2 445.7 L775.9 444.4 L775.6 443.1 L776.2 441.8 L775.4 440.5 L774.6 439.3 L776.0 440.5 L775.8 441.8 L776.1 443.1 L775.6 444.4 L775.9 445.7 L775.9 447.0 L776.5 448.3 L775.6 449.6 L775.7 450.9 L775.5 452.3 L775.8 453.5 L776.0 454.9 L776.4 456.2 L776.6 457.5 L777.1 458.8 L776.9 460.2 L777.1 461.5 L778.6 462.7 L777.0 464.2 L777.8 465.5 L777.5 466.9 L778.4 468.1 L778.0 469.6 L777.9 471.0 L777.7 472.5 L777.5 473.9 L778.5 475.0 L778.5 476.3 L779.0 477.6 L779.0 478.9 L779.3 480.1 L779.5 481.4 L780.2 482.6 L780.6 481.1 L780.0 479.7 L781.1 480.2 L781.7 480.4 L782.0 479.1 L782.3 477.7 L782.8 476.4 L782.1 475.1 L782.6 476.4 L782.8 477.7 L782.6 479.1 L782.2 480.5 L783.5 481.7 L783.6 483.1 L783.2 484.4 L783.4 485.8 L783.8 487.0 L783.4 488.4 L783.5 489.7 L783.3 491.0 L783.3 492.3 L782.7 493.6 L783.7 494.9 L783.6 496.2 L783.4 497.5 L784.0 498.7 L784.8 500.0 L784.3 498.7 L784.4 497.5 L784.7 496.3 L785.2 495.0 L785.2 493.8 L785.2 492.5 L784.7 491.2 L785.6 490.0 L785.1 488.7 L786.5 487.6 L785.6 486.3 L785.9 485.1 L785.7 483.8 L786.1 482.6 L786.5 481.4 L786.7 480.1 L786.9 481.2 L786.0 479.8 L787.0 478.5 L787.2 477.1 L787.3 475.8 L787.6 474.4 L787.6 473.1 L787.7 471.9 L788.5 470.8 L788.5 469.6 L787.5 468.3 L788.2 467.1 L788.0 467.2 L788.0 468.4 L787.9 469.7 L787.7 470.9 L789.3 471.9 L788.8 473.2 L788.6 474.5 L789.9 475.5 L789.2 476.8 L789.3 478.0 L790.4 479.1 L789.6 480.5 L789.1 482.0 L791.1 483.3 L791.5 481.8 L791.4 479.9 L791.9 479.6 L793.0 478.7 L793.5 477.7 L794.1 476.9 L794.2 475.5 L794.3 474.0 L794.9 472.7 L795.2 471.3 L796.2 470.1 L795.6 468.8 L795.9 467.6 L796.5 466.3 L796.2 465.0 L796.2 463.8 L796.3 462.5 L796.4 461.2 L796.5 460.0 L796.8 458.7 L796.3 457.4 L796.5 456.1 L796.3 454.7 L795.9 453.4 L796.1 452.1 L796.6 450.9 L797.0 449.6 L796.6 448.3 L797.0 447.0 L796.5 445.5 L797.2 444.1 L798.0 443.0 L799.5 443.5 L799.8 444.9 L800.3 446.2 L799.8 447.7 L800.4 449.0 L800.8 450.3 L800.4 451.7 L800.5 453.1 L801.3 454.4 L800.6 455.8 L800.8 457.2 L801.4 458.5 L800.9 459.9 L802.1 461.1 L802.1 462.3 L801.8 463.5 L802.1 464.7 L802.1 465.9 L802.6 467.2 L802.9 466.4 L803.2 465.1 L803.3 463.7 L803.4 462.4 L803.9 461.1 L804.3 459.8 L805.1 458.6 L804.7 457.4 L803.5 456.0 L804.2 454.8 L804.4 453.6 L804.6 452.4 L804.9 451.2 L805.5 449.9 L805.3 451.2 L806.4 452.0 L806.2 453.2 L806.2 454.6 L807.0 455.9 L806.9 457.4 L807.1 458.7 L807.4 460.1 L808.1 461.6 L808.0 460.3 L808.4 459.1 L808.5 457.8 L808.6 456.6 L808.4 455.2 L809.2 454.1 L808.0 452.6 L807.5 451.3 L808.2 450.1 L808.1 448.9 L809.1 447.7 L809.9 446.6 L809.7 445.3 L809.2 444.0 L809.5 442.8 L810.1 441.6 L809.7 440.3 L809.8 439.0 L809.6 437.7 L810.1 436.5 L811.3 435.4 L810.7 433.9 L811.3 432.5 L811.6 431.1 L812.0 429.7 L811.8 428.2 L812.7 429.4 L812.1 430.7 L811.8 432.0 L811.6 433.2 L812.4 434.4 L812.2 435.7 L812.7 436.9 L812.8 438.1 L812.2 439.4 L813.1 440.6 L813.4 441.9 L812.4 443.3 L813.4 444.5 L814.8 445.6 L814.6 447.0 L814.4 448.5 L815.8 449.4 L816.0 450.7 L815.8 452.1 L815.4 453.4 L815.2 454.7 L814.9 456.0 L815.2 457.3 L815.2 458.6 L815.0 459.9 L815.2 461.2 L815.6 462.4 L815.8 463.7 L815.6 465.0 L815.8 466.3 L815.7 467.6 L815.9 468.8 L816.3 470.1 L816.4 471.5 L816.7 472.9 L817.6 474.2 L817.5 475.6 L817.6 477.1 L817.5 478.5 L817.7 479.9 L817.9 481.2 L817.3 482.7 L818.1 484.0 L818.0 485.4 L817.8 486.8 L818.0 488.2 L817.9 489.5 L818.2 490.9 L818.2 492.3 L819.0 493.5 L818.5 495.0 L818.9 496.3 L819.6 497.6 L819.1 499.1 L819.2 500.4 L819.4 501.7 L820.3 500.5 L820.6 499.1 L821.3 497.8 L820.8 496.3 L821.1 495.2 L820.8 494.0 L822.0 493.1 L821.1 491.9 L821.6 493.1 L821.8 494.3 L821.4 495.6 L822.0 496.8 L821.7 498.1 L821.7 499.4 L822.1 500.6 L821.9 501.9 L822.3 503.1 L822.5 504.4 L821.8 505.7 L822.2 506.9 L822.4 508.2 L822.6 509.5 L823.6 510.8 L823.7 512.1 L823.6 513.4 L822.8 514.8 L823.1 516.1 L822.9 517.4 L823.4 518.7 L824.0 520.0 L823.5 521.2 L822.8 519.8 L824.3 518.8 L824.0 517.4 L824.1 516.1 L824.9 515.0 L825.2 513.7 L825.1 512.4 L825.9 511.2 L825.9 509.9 L825.7 508.6 L825.9 510.0 L826.1 511.3 L826.5 512.7 L826.0 514.1 L825.9 515.5 L826.9 516.8 L826.5 518.2 L826.8 519.6 L827.2 520.9 L828.7 522.1 L828.1 523.5 L828.1 524.8 L828.0 526.2 L827.8 527.6 L829.0 528.7 L829.8 529.9 L828.8 531.2 L828.6 532.5 L828.5 533.7 L829.1 534.9 L828.4 536.2 L829.3 537.4 L828.4 538.9 L829.2 540.2 L828.9 541.7 L829.2 543.0 L829.9 544.3 L830.7 545.6 L830.8 546.9 L830.0 548.4 L830.7 549.7 L830.9 551.0 L830.2 552.4 L831.6 553.6 L831.2 555.0 L831.0 556.4 L831.7 557.6 L832.0 558.8 L831.6 560.1 L832.2 561.3 L832.7 562.5 L832.4 563.8 L832.3 565.1 L833.0 566.0 L833.1 567.3 L832.6 565.9 L832.8 564.6 L832.2 563.3 L833.4 562.0 L832.8 560.7 L833.6 559.4 L833.6 558.1 L833.3 556.8 L833.3 555.4 L834.1 554.2 L832.9 552.8 L833.6 551.5 L832.9 550.2 L833.2 548.9 L833.5 547.6 L833.7 546.3 L834.0 545.0 L834.0 543.6 L833.9 542.3 L834.3 541.0 L833.6 539.8 L834.2 541.2 L834.9 542.5 L834.7 544.0 L835.0 545.4 L834.7 546.8 L835.2 548.0 L835.0 549.3 L835.2 550.5 L836.0 551.6 L836.8 552.7 L837.4 553.9 L837.3 555.1 L836.5 556.5 L836.8 557.9 L837.4 559.1 L836.4 560.6 L836.7 561.9 L836.8 563.2 L837.7 564.5 L837.7 565.8 L838.0 567.1 L837.4 568.4 L837.4 569.8 L837.9 571.0 L837.4 572.4 L838.6 574.1 L837.9 573.3 L838.9 572.0 L839.0 570.6 L838.4 569.1 L839.4 567.8 L839.4 566.7 L839.8 566.0 L840.3 564.7 L841.1 563.5 L840.7 562.1 L840.8 560.8 L841.8 560.8 L842.6 559.6 L842.0 558.3 L841.7 557.0 L841.4 555.7 L841.4 554.4 L842.1 553.1 L842.1 551.9 L841.9 550.6 L842.5 549.3 L841.4 548.0 L841.6 546.7 L842.3 545.4 L842.5 544.1 L842.1 543.4 L843.8 543.4 L844.1 542.0 L843.6 540.3 L844.1 538.9 L845.1 537.7 L845.2 536.4 L844.9 535.0 L844.8 533.7 L845.4 532.4 L845.7 531.1 L845.6 529.7 L845.7 528.3 L845.3 526.9 L846.2 525.6 L846.3 524.3 L846.1 522.9 L846.7 521.7 L846.0 520.4 L846.2 519.1 L846.4 517.9 L846.4 516.6 L846.2 515.4 L846.5 514.1 L846.5 512.9 L847.3 511.7 L847.6 510.4 L847.2 509.2 L846.3 507.9 L846.9 506.6 L846.5 505.2 L846.5 503.8 L848.3 502.6 L847.3 501.2 L847.3 499.9 L848.1 498.6 L848.1 497.2 L847.1 495.9 L848.2 494.7 L848.0 493.4 L848.8 492.2 L848.1 490.8 L848.4 489.5 L848.3 488.2 L848.4 486.9 L848.8 485.6 L848.5 484.2 L848.6 482.9 L848.9 481.6 L848.5 480.3 L849.4 479.0 L848.5 477.6 L848.9 476.3 L849.4 475.0 L849.9 473.6 L850.3 474.8 L850.7 476.1 L850.5 477.3 L850.1 478.6 L849.6 479.9 L850.9 481.1 L851.5 482.3 L851.2 483.5 L850.7 484.9 L851.0 486.2 L850.7 487.6 L851.2 488.9 L850.8 490.3 L851.4 491.7 L852.1 490.9 L852.5 489.7 L853.3 488.5 L853.7 487.2 L854.2 485.9 L855.6 484.8 L854.6 483.4 L855.3 482.3 L855.1 481.0 L855.1 479.9 L855.6 478.6 L855.8 477.3 L854.8 476.0 L854.8 474.7 L855.6 473.4 L855.7 472.1 L856.3 470.8 L855.5 469.5 L856.4 468.2 L856.2 466.9 L857.3 465.7 L856.3 464.3 L856.6 463.0 L856.7 461.7 L857.0 460.4 L856.3 459.1 L856.7 457.8 L856.1 456.5 L857.0 455.2 L856.2 454.0 L856.6 455.2 L857.4 456.4 L856.5 457.8 L857.5 458.9 L857.3 460.2 L858.3 461.4 L858.8 462.6 L858.8 463.8 L858.1 465.2 L858.6 466.5 L858.8 467.8 L859.8 469.0 L859.0 470.5 L859.6 471.8 L859.7 473.1 L860.1 474.3 L860.5 475.5 L860.1 476.8 L860.5 478.1 L860.7 479.4 L861.6 477.8 L861.4 479.5 L863.2 480.9 L863.4 479.4 L863.5 477.9 L864.3 476.8 L863.8 475.5 L864.3 474.4 L865.0 473.3 L865.4 472.2 L864.6 470.8 L865.5 469.8 L865.5 468.7 L866.4 469.9 L866.2 471.2 L867.0 472.4 L866.4 473.7 L866.5 474.9 L867.0 476.2 L865.7 477.5 L866.5 478.7 L867.2 479.9 L866.5 481.2 L866.5 482.5 L867.0 483.6 L866.7 484.9 L867.2 486.0 L867.6 487.2 L867.3 488.6 L868.5 489.7 L868.1 491.2 L869.1 492.3 L869.1 493.5 L868.9 494.8 L868.7 496.0 L869.9 496.9 L869.3 498.4 L870.5 499.6 L870.4 501.0 L870.1 502.6 L870.8 503.8 L871.1 504.9 L871.0 506.3 L871.5 507.6 L872.5 508.9 L872.5 510.2 L872.8 511.6 L873.1 512.9 L873.0 514.3 L874.0 515.4 L873.1 516.8 L873.0 518.1 L873.4 519.3 L873.3 520.6 L874.3 521.8 L874.3 522.8 L876.0 523.7 L876.1 524.9 L876.3 526.1 L876.2 527.4 L876.1 528.6 L876.8 529.8 L877.0 528.5 L876.3 527.2 L875.9 525.9 L876.4 524.6 L876.9 523.3 L876.0 521.9 L876.8 520.7 L876.6 519.4 L876.5 518.0 L876.6 516.7 L877.2 515.5 L877.1 514.1 L876.7 512.8 L876.8 511.6 L877.1 510.3 L877.7 509.1 L877.6 507.9 L877.3 506.6 L878.0 505.4 L877.9 504.2 L877.6 502.9 L877.9 504.2 L877.5 505.6 L878.0 506.9 L877.9 508.2 L878.1 509.5 L877.3 510.9 L878.2 512.2 L878.2 513.5 L879.0 514.8 L878.2 516.1 L878.7 517.4 L879.5 518.7 L878.7 520.1 L878.9 521.4 L878.0 522.8 L878.2 524.1 L878.5 525.2 L879.0 524.2 L880.7 523.3 L880.9 521.9 L880.6 520.4 L881.3 518.8 L881.0 520.1 L880.4 521.5 L880.8 522.7 L879.7 524.1 L881.1 525.3 L880.5 526.6 L880.3 527.9 L881.1 529.2 L881.0 530.5 L881.5 531.7 L881.7 533.0 L881.5 534.3 L881.6 535.6 L881.4 536.9 L881.9 538.1 L882.2 539.4 L881.5 540.7 L881.5 542.0 L881.8 543.3 L882.1 544.6 L881.4 545.9 L882.1 547.2 L882.1 548.5 L882.4 549.8 L882.0 551.1 L881.8 552.4 L881.4 553.7 L882.5 554.9 L882.3 556.2 L882.1 557.5 L882.0 558.8 L882.4 560.1 L882.6 561.4 L882.8 562.7 L883.0 564.0 L882.6 565.3 L883.5 566.6 L883.2 567.8 L882.6 569.1 L881.9 570.3 L882.5 571.5 L882.4 572.8 L882.8 574.0 L883.3 575.2 L883.7 576.5 L883.7 577.7 L883.3 579.0 L883.4 580.2 L883.3 581.5 L884.2 582.7 L882.9 584.0 L883.2 585.2 L882.1 586.6 L883.0 587.8 L883.9 589.0 L884.8 590.2 L884.1 591.5 L883.8 592.8 L884.1 593.8 L884.5 595.3 L885.0 596.9 L885.4 598.2 L884.8 599.5 L884.4 600.9 L885.1 602.1 L886.5 603.4 L885.2 602.0 L885.2 600.7 L885.7 599.4 L885.6 598.0 L886.0 596.7 L885.9 595.4 L885.7 594.0 L885.9 592.7 L885.6 591.3 L885.8 590.0 L885.9 588.7 L886.2 587.3 L885.3 586.0 L886.4 584.8 L885.7 584.4 L885.8 585.7 L886.0 587.0 L886.4 588.3 L886.2 589.6 L885.0 590.9 L886.6 592.2 L885.6 593.5 L886.0 594.8 L885.8 596.1 L887.2 597.4 L886.6 598.7 L887.4 600.0 L886.2 601.3 L886.6 602.6 L886.5 603.9 L886.9 605.2 L886.9 606.5 L886.2 607.8 L886.0 609.1 L886.7 610.4 L887.4 611.7 L888.3 610.3 L887.3 608.8 L887.6 607.4 L888.1 606.0 L887.4 604.5 L888.3 603.3 L888.3 602.7 L889.1 603.9 L888.4 605.2 L888.8 606.5 L888.5 607.7 L888.0 609.0 L889.1 610.2 L887.3 611.5 L888.5 612.8 L887.8 614.0 L888.1 615.3 L888.6 616.5 L889.7 617.8 L888.6 619.1 L889.3 620.3 L888.8 621.6 L888.8 622.9 L890.1 624.2 L890.0 625.5 L890.0 626.8 L890.7 628.1 L889.8 629.4 L888.9 630.8 L888.1 632.2 L888.8 633.4 L890.5 634.7 L890.8 633.6 L891.0 632.2 L890.8 630.9 L890.4 629.5 L890.8 628.2 L891.1 626.9 L890.3 625.4 L890.4 624.1 L891.0 622.8 L890.4 621.5 L890.3 620.3 L890.9 619.0 L890.7 617.7 L891.2 616.4 L891.0 615.1 L891.1 613.8 L890.6 612.5 L890.6 611.3 L890.9 610.0 L891.8 608.7 L891.6 607.4 L890.8 606.1 L891.6 604.8 L892.2 603.6 L891.2 602.2 L891.3 601.1 L892.3 600.4 L892.5 599.1 L892.7 597.8 L892.8 596.5 L892.3 595.1 L892.4 593.8 L893.1 592.6 L892.7 591.2 L892.6 589.9 L893.1 588.9 L893.2 587.8 L893.6 586.5 L894.0 585.3 L894.1 583.9 L893.4 582.5 L894.8 581.4 L893.9 580.0 L893.9 578.8 L893.7 577.5 L892.8 576.1 L894.7 575.0 L894.6 573.7 L895.0 572.6 L895.6 571.7 L895.7 573.0 L895.4 574.3 L896.9 575.6 L895.2 576.9 L895.6 578.2 L895.4 579.5 L896.0 580.8 L895.0 582.1 L895.0 583.4 L895.1 584.7 L895.9 586.0 L894.7 587.3 L895.7 588.6 L894.9 589.9 L895.7 591.2 L896.1 592.5 L896.3 593.8 L895.6 595.1 L895.0 596.4 L895.5 597.7 L896.0 599.0 L896.3 600.3 L895.7 601.6 L895.8 602.9 L895.3 601.6 L895.8 600.4 L895.8 599.1 L895.9 597.9 L897.0 596.6 L896.0 595.4 L896.1 594.1 L896.3 592.8 L896.6 591.6 L896.3 590.3 L896.2 589.1 L896.1 587.8 L896.1 589.2 L896.6 590.5 L895.8 591.9 L895.7 593.3 L897.4 594.5 L898.4 595.7 L898.4 596.9 L897.2 598.2 L897.4 599.5 L897.3 600.7 L897.6 601.9 L897.2 603.2 L897.2 604.5 L897.6 605.9 L898.9 607.2 L898.1 608.6 L897.6 609.9 L897.5 611.3 L897.6 612.6 L898.0 614.0 L898.1 615.3 L897.5 616.7 L898.0 618.1 L898.7 618.9 L898.7 617.6 L899.2 616.3 L899.2 615.0 L899.0 613.7 L898.9 612.3 L900.5 611.1 L899.6 609.8 L899.2 608.4 L899.3 607.1 L899.6 605.9 L899.6 604.6 L899.1 603.2 L899.6 601.9 L900.3 600.5 L900.7 601.7 L900.2 603.1 L900.5 604.3 L901.2 605.6 L900.3 606.9 L899.8 608.2 L900.2 609.5 L901.1 610.7 L900.2 612.1 L901.6 613.2 L901.4 614.5 L901.7 615.8 L901.4 617.2 L901.7 618.5 L901.5 619.9 L901.6 621.3 L901.7 622.6 L901.5 624.0 L902.1 625.3 L902.6 626.7 L902.0 625.2 L902.7 623.8 L902.1 622.3 L903.1 621.0 L903.1 619.6 L903.3 618.2 L903.1 616.8 L903.8 615.5 L904.1 614.1 L904.5 612.8 L904.0 611.4 L904.6 612.7 L903.9 614.2 L904.6 615.5 L905.3 616.7 L905.0 618.1 L905.2 619.1 L905.8 617.9 L905.7 616.7 L906.8 615.6 L906.2 614.3 L906.5 613.1 L906.5 611.9 L905.3 610.5 L906.2 609.2 L906.0 607.8 L905.8 606.4 L906.7 605.1 L907.6 603.8 L908.0 605.1 L907.6 606.4 L907.1 607.7 L908.5 608.8 L907.9 610.1 L908.6 611.3 L909.2 612.6 L909.0 614.0 L909.0 615.4 L909.1 616.8 L909.4 618.1 L910.0 619.4 L909.5 620.8 L909.5 622.2 L909.0 623.6 L909.0 622.2 L909.4 620.8 L909.6 619.4 L910.1 618.1 L910.4 616.7 L910.2 615.4 L910.7 614.2 L910.6 612.9 L910.6 611.6 L910.3 610.2 L910.8 609.0 L910.4 607.6 L911.9 606.3 L912.4 607.6 L912.6 609.0 L912.8 610.4 L912.7 612.0 L913.3 613.4 L913.4 614.9 L913.4 613.5 L913.6 612.2 L913.3 610.8 L914.0 609.6 L913.6 608.2 L913.9 606.9 L913.6 605.5 L914.1 604.2 L914.8 602.8 L913.7 601.4 L914.5 600.1 L914.5 598.8 L915.0 597.4 L914.3 596.0 L914.2 594.7 L913.6 593.3 L914.9 592.0 L916.2 590.8 L915.2 589.4 L915.2 588.1 L916.6 586.8 L915.6 585.4 L916.8 584.2 L916.1 582.9 L916.5 581.6 L916.7 580.4 L917.3 579.1 L916.9 577.8 L916.8 576.6 L916.3 575.3 L916.5 574.0 L916.8 575.4 L916.5 576.8 L917.4 578.2 L916.7 579.7 L915.9 581.3 L917.1 582.4 L916.8 583.8 L917.6 585.0 L917.6 586.3 L917.1 587.7 L917.3 589.0 L917.4 590.4 L917.6 591.7 L918.2 593.0 L917.8 594.4 L919.6 595.6 L918.5 597.0 L918.7 598.3 L919.4 599.6 L919.5 601.0 L919.4 602.3 L918.7 603.7 L919.2 604.9 L919.9 606.1 L919.6 607.6 L920.0 609.0 L920.0 609.6 L921.5 610.6 L921.7 612.0 L922.3 613.2 L922.2 614.6 L923.4 615.8 L922.3 617.2 L922.7 618.4 L922.7 619.6 L923.2 620.8 L922.4 622.1 L923.3 623.2 L923.4 624.4 L923.5 625.6 L923.5 627.0 L924.8 628.3 L924.0 629.8 L924.2 631.2 L924.3 632.6 L924.5 634.0 L925.5 635.3 L925.6 636.7 L925.1 638.1 L925.8 639.4 L926.7 640.7 L925.7 642.2 L926.2 643.6 L926.5 644.9 L925.9 646.3 L926.8 647.6 L927.2 648.9 L926.3 650.3 L926.8 651.6 L927.3 652.9 L927.2 654.3 L927.4 655.6 L927.7 657.1 L927.1 655.7 L927.3 654.5 L927.0 653.1 L929.0 652.1 L927.3 650.6 L927.2 649.3 L926.4 647.7 L927.9 646.5 L928.3 645.1 L928.4 643.7 L929.3 642.5 L929.1 640.9 L929.8 639.8 L930.6 639.9 L931.3 641.1 L931.4 642.3 L931.1 643.6 L931.5 644.8 L932.2 646.0 L933.1 647.1 L932.1 648.7 L932.7 650.0 L933.1 651.4 L934.1 652.6 L934.6 653.8 L934.7 655.0 L934.7 656.4 L935.3 657.8 L934.9 659.4 L933.7 660.7 L934.7 659.4 L935.8 658.1 L934.9 656.6 L936.1 655.3 L936.0 654.0 L935.9 652.8 L935.5 651.6 L935.7 650.4 L935.6 649.2 L935.6 647.9 L935.9 646.6 L935.6 645.2 L936.9 644.0 L937.0 642.7 L937.1 641.4 L938.4 640.1 L937.5 638.8 L937.1 637.4 L937.1 636.1 L936.8 634.8 L937.9 633.6 L937.0 632.3 L937.8 631.1 L938.2 629.9 L937.6 628.6 L937.5 627.4 L937.5 628.7 L938.3 629.9 L937.9 631.2 L939.5 632.2 L938.8 633.6 L938.9 634.9 L939.1 636.1 L939.1 637.5 L939.6 638.8 L939.6 640.1 L939.8 641.5 L939.9 642.8 L940.5 644.1 L940.5 645.5 L940.4 644.3 L941.3 643.1 L940.1 641.7 L940.4 640.5 L940.7 639.2 L940.8 638.0 L941.5 636.8 L941.7 635.5 L942.0 634.3 L941.0 632.9 L940.4 631.6 L941.4 630.4 L941.6 629.2 L941.8 627.9 L941.2 626.6 L941.7 625.3 L942.1 624.1 L942.0 622.8 L942.1 621.5 L943.0 620.2 L943.2 621.6 L942.2 623.0 L943.1 624.4 L943.1 625.7 L942.4 627.2 L942.4 628.5 L942.7 629.9 L943.2 631.2 L941.6 632.6 L942.6 633.8 L942.2 635.1 L943.3 636.3 L943.8 637.5 L943.6 638.8 L944.1 640.0 L944.0 641.3 L943.3 642.4 L945.1 641.5 L943.6 640.1 L944.5 639.1 L945.6 638.0 L944.9 636.3 L945.9 636.7 L945.8 635.3 L946.5 634.1 L947.0 632.8 L947.0 631.4 L947.5 630.1 L947.8 628.7 L947.4 627.2 L947.3 625.8 L947.6 624.4 L949.6 622.9 L949.4 624.2 L948.3 625.5 L948.8 626.7 L949.2 627.9 L949.3 629.1 L949.7 630.6 L949.7 632.2 L949.9 633.6 L950.0 634.9 L949.7 636.3 L950.8 637.5 L950.7 638.8 L950.3 640.2 L950.4 641.6 L951.3 642.9 L951.2 644.3 L951.6 645.6 L952.6 644.3 L952.1 642.7 L953.5 641.5 L953.2 640.2 L953.5 639.1 L953.9 638.0 L954.0 639.3 L954.0 640.6 L954.2 641.9 L954.7 643.1 L955.3 644.4 L955.1 645.7 L955.1 647.0 L955.4 645.8 L955.3 644.5 L954.5 643.1 L954.8 641.8 L955.6 640.6 L955.7 639.3 L955.6 638.0 L955.3 636.7 L955.9 635.5 L955.7 634.2 L956.7 633.0 L956.0 631.7 L956.4 630.5 L956.0 629.2 L956.1 627.9 L955.7 626.6 L957.6 625.6 L957.8 624.4 L958.0 623.1 L957.3 621.7 L958.2 620.6 L959.1 619.3 L959.0 617.8 L960.0 617.5 L959.8 618.9 L960.7 620.2 L959.9 621.7 L961.1 623.2 L961.2 621.8 L960.1 620.1 L960.8 618.8 L961.1 617.4 L961.4 616.0 L962.3 614.9 L961.7 613.6 L961.1 612.3 L962.4 611.2 L962.3 610.0 L962.8 608.8 L963.3 607.6 L962.7 606.3 L964.2 607.1 L963.2 608.6 L963.9 607.4 L964.8 606.3 L964.7 604.9 L965.0 606.2 L965.2 607.5 L965.2 608.9 L965.1 610.2 L965.3 611.6 L965.6 612.9 L965.6 614.2 L966.9 615.3 L967.0 616.6 L966.7 618.0 L966.9 619.3 L967.4 620.6 L967.8 619.4 L967.2 618.1 L967.8 616.9 L966.9 615.6 L967.2 614.3 L967.5 613.1 L968.5 611.9 L968.2 610.7 L968.3 609.2 L968.4 607.8 L968.8 606.4 L967.9 605.1 L968.5 606.3 L969.1 607.4 L969.1 608.7 L968.7 610.0 L969.6 611.2 L970.4 612.5 L969.7 613.9 L970.3 615.1 L971.0 616.3 L970.6 617.7 L970.5 619.1 L970.4 620.4 L971.1 621.7 L971.6 622.9 L971.2 624.3 L971.8 625.5 L971.9 626.7 L972.4 627.9 L973.0 629.1 L972.3 630.4 L971.5 631.7 L972.9 632.9 L972.7 634.1 L972.8 634.9 L973.8 636.0 L974.2 637.2 L974.7 638.3 L975.4 639.2 L976.0 637.9 L976.1 636.5 L976.0 635.0 L976.6 633.7 L977.2 632.4 L975.7 630.8 L976.8 629.6 L977.3 628.3 L977.4 627.0 L976.9 625.6 L977.1 624.3 L977.4 623.0 L977.6 621.7 L977.8 620.4 L977.5 619.0 L978.0 617.6 L979.4 616.4 L978.8 614.9 L978.5 613.5 L978.6 612.1 L978.9 610.8 L979.8 609.6 L978.3 608.0 L979.5 606.8 L979.2 605.6 L979.0 604.3 L980.3 603.2 L980.5 602.0 L980.1 600.7 L980.4 599.5 L979.8 598.2 L980.4 597.1 L980.1 595.7 L980.8 594.6 L980.9 593.2 L981.4 592.1 L982.0 591.3 L981.5 589.9 L982.6 588.7 L982.1 587.4 L982.6 586.1 L983.0 584.8 L982.0 583.5 L983.3 582.2 L982.8 580.9 L983.8 579.7 L982.9 578.3 L983.3 577.1 L983.2 575.8 L983.2 574.5 L983.2 573.2 L983.7 571.9 L983.2 570.6 L983.7 569.3 L984.2 568.1 L983.1 566.7 L982.4 565.3 L983.8 564.2 L983.9 562.9 L983.6 561.6 L984.2 560.4 L984.4 559.1 L984.4 557.8 L984.0 556.5 L984.6 555.2 L984.1 553.8 L985.8 552.6 L985.2 551.2 L984.5 549.8 L984.7 548.5 L985.3 547.2 L984.7 545.8 L985.8 544.6 L985.6 546.0 L984.8 547.4 L985.8 548.7 L986.4 550.0 L985.8 551.5 L985.9 552.9 L986.2 554.2 L986.1 555.5 L987.2 556.6 L986.6 557.9 L986.9 559.2 L986.8 560.4 L986.6 561.7 L987.4 562.9 L987.8 561.7 L987.8 560.4 L987.7 559.2 L987.8 558.0 L988.0 556.8 L987.7 555.5 L988.1 554.3 L987.6 553.0 L987.6 551.8 L988.3 550.6 L988.3 549.4 L989.2 548.3 L989.3 547.0 L987.8 546.0 L989.2 546.9 L989.5 547.9 L990.4 549.0 L990.4 550.2 L990.2 551.5 L990.1 552.8 L990.2 554.1 L991.1 555.3 L990.7 554.0 L990.8 552.8 L990.9 551.5 L990.2 550.1 L991.2 548.9 L990.8 547.6 L990.3 546.3 L991.6 545.1 L990.9 543.8 L991.6 542.5 L991.4 541.2 L992.6 540.0 L993.3 538.8 L993.1 537.5 L992.6 536.2 L993.5 534.9 L992.7 533.6 L991.9 532.1 L993.4 530.9 L992.9 529.4 L994.2 528.2 L994.1 526.9 L993.4 525.4 L993.9 524.3 L994.4 523.1 L994.5 521.8 L994.4 523.1 L995.2 524.3 L994.8 525.7 L995.2 526.9 L995.2 528.2 L995.7 529.4 L996.4 530.5 L995.6 531.9 L995.2 533.2 L996.3 534.4 L996.4 535.6 L996.8 536.9 L997.5 538.1 L997.1 539.4 L997.8 540.6 L997.1 542.0 L996.4 543.3 L996.4 544.6 L996.6 545.8 L997.1 547.1 L997.7 548.3 L998.7 549.0 L998.9 549.8 L999.7 550.6 L1000.7 551.8 L1000.5 553.0 L1000.8 554.3 L1000.6 555.5 L1000.2 556.9 L1000.4 558.1 L1000.6 559.6 L1001.4 560.9 L1001.6 562.3 L1002.3 561.3 L1002.6 560.1 L1002.9 559.0 L1002.6 557.8 L1003.2 556.6 L1002.7 555.2 L1003.6 554.0 L1002.8 552.6 L1003.2 551.4 L1003.5 550.1 L1004.4 549.0 L1004.3 547.8 L1004.1 546.5 L1004.1 545.2 L1004.7 544.1 L1004.7 542.7 L1004.5 541.4 L1004.7 540.0 L1005.3 538.8 L1005.5 537.7 L1005.9 537.0 L1007.2 538.0 L1007.8 539.5 L1007.7 538.2 L1008.5 537.2 L1008.4 535.9 L1009.3 534.9 L1010.2 533.7 L1009.4 532.1 L1008.7 530.6 L1009.6 529.4 L1009.7 528.3 L1010.6 527.4 L1011.2 526.4 L1011.6 525.1 L1011.9 523.9 L1011.5 522.6 L1011.9 521.3 L1011.7 520.0 L1012.0 518.8 L1011.7 517.5 L1011.4 518.8 L1012.1 519.9 L1011.2 521.3 L1011.9 522.4 L1011.7 523.7 L1012.9 524.7 L1013.6 525.9 L1012.9 527.2 L1013.5 528.3 L1013.7 529.5 L1014.8 530.5 L1014.3 531.8 L1014.4 533.3 L1015.6 534.5 L1015.6 536.0 L1015.3 537.5 L1015.8 538.9 L1016.0 540.3 L1015.6 541.8 L1015.3 543.3 L1015.9 544.6 L1015.9 546.0 L1015.6 547.4 L1016.5 548.7 L1015.8 550.1 L1015.8 551.5 L1016.2 552.8 L1017.3 554.1 L1016.7 552.8 L1017.8 551.7 L1017.6 550.4 L1018.0 549.2 L1018.0 547.9 L1017.5 546.6 L1018.0 545.2 L1018.3 543.8 L1019.1 542.5 L1018.4 541.0 L1019.5 539.5 L1019.6 540.9 L1019.4 542.3 L1019.9 543.6 L1019.3 545.0 L1020.6 546.2 L1019.5 547.7 L1020.1 549.0 L1020.5 550.3 L1019.8 551.7 L1020.3 553.0 L1019.8 554.3 L1020.4 555.6 L1020.6 554.3 L1021.0 553.1 L1021.6 552.0 L1021.4 550.7 L1021.3 549.4 L1020.7 548.1 L1020.9 546.9 L1021.4 545.7 L1021.3 544.4 L1021.3 543.2 L1021.9 542.0 L1022.1 540.8 L1021.7 539.5 L1022.9 538.4 L1022.6 536.5 L1023.5 537.8 L1023.8 536.3 L1025.7 536.1 L1025.0 537.5 L1025.1 538.9 L1025.1 540.3 L1026.1 541.6 L1025.8 543.0 L1025.7 544.4 L1026.0 545.8 L1025.7 547.1 L1026.8 548.2 L1025.8 549.6 L1026.4 550.8 L1027.1 552.2 L1027.1 550.8 L1027.8 549.8 L1028.5 548.7 L1029.1 547.5 L1029.3 546.2 L1028.1 544.9 L1028.6 546.1 L1029.5 547.2 L1029.7 548.4 L1030.1 549.6 L1030.0 550.9 L1029.7 552.2 L1030.3 553.4 L1030.0 554.7 L1030.5 555.9 L1030.5 557.1 L1031.2 558.3 L1030.4 559.6 L1031.6 560.7 L1032.0 561.9 L1033.4 563.1 L1032.2 564.5 L1032.8 565.7 L1033.4 566.8 L1033.0 568.1 L1033.2 569.4 L1033.2 570.6 L1033.5 569.3 L1033.8 568.0 L1034.5 566.8 L1034.6 565.4 L1035.3 564.2 L1034.5 562.8 L1034.8 561.5 L1035.0 560.3 L1034.2 558.9 L1034.9 557.8 L1035.7 556.7 L1035.1 555.3 L1035.2 554.1 L1035.4 552.9 L1035.8 551.8 L1036.0 550.6 L1036.0 549.6 L1036.8 550.5 L1036.9 551.7 L1037.0 552.6 L1038.4 551.6 L1038.7 552.9 L1039.3 554.2 L1039.1 555.7 L1039.1 557.1 L1039.7 558.2 L1039.2 559.5 L1039.6 560.7 L1040.2 561.5 L1041.9 561.3 L1042.2 559.8 L1042.0 558.4 L1042.4 559.7 L1041.9 561.2 L1043.7 562.3 L1042.8 563.8 L1043.0 565.2 L1042.2 566.7 L1043.1 567.9 L1043.8 569.2 L1043.8 570.7 L1043.9 572.2 L1044.2 573.5 L1044.6 574.7 L1045.4 575.8 L1046.0 577.0 L1045.6 578.3 L1046.0 579.4 L1046.0 578.0 L1046.4 576.7 L1046.3 575.3 L1047.5 574.1 L1047.5 572.7 L1047.5 571.3 L1047.4 570.1 L1046.9 568.8 L1047.3 567.6 L1047.2 566.3 L1047.3 565.1 L1048.7 564.1 L1047.8 562.7 L1048.0 561.6 L1047.9 560.3 L1048.5 559.2 L1049.0 558.0 L1049.0 556.8 L1049.6 555.8 L1050.4 554.7 L1050.6 556.1 L1050.1 557.7 L1051.5 558.8 L1051.2 560.1 L1051.7 561.3 L1051.6 562.5 L1051.7 563.8 L1051.5 565.0 L1052.3 566.2 L1052.3 567.4 L1052.7 568.7 L1052.6 570.0 L1053.4 571.2 L1052.7 572.5 L1052.6 573.8 L1052.8 575.1 L1052.5 576.4 L1053.0 577.6 L1053.5 578.9 L1052.8 580.2 L1053.9 581.4 L1053.7 582.8 L1053.3 584.2 L1053.5 585.5 L1053.1 586.9 L1054.4 588.1 L1054.7 589.5 L1053.9 590.9 L1054.4 592.2 L1054.0 593.6 L1055.1 595.0 L1055.7 593.9 L1055.0 592.6 L1055.9 591.5 L1055.3 590.2 L1055.5 589.0 L1055.2 587.8 L1055.1 586.6 L1054.8 585.3 L1055.3 584.2 L1055.0 582.9 L1055.6 581.8 L1056.5 580.7 L1056.5 579.4 L1056.9 578.2 L1057.0 577.1 L1057.8 576.2 L1056.1 575.2 L1057.6 576.5 L1057.4 578.0 L1058.3 579.5 L1058.8 579.0 L1059.5 580.4 L1060.6 581.8 L1060.9 583.0 L1060.8 584.3 L1060.2 585.6 L1060.5 586.8 L1060.5 588.1 L1060.0 589.4 L1060.4 590.6 L1061.2 591.7 L1061.1 592.9 L1061.6 594.1 L1061.6 595.3 L1062.0 596.5 L1062.8 597.6 L1062.4 598.9 L1062.5 597.6 L1062.4 596.3 L1062.5 595.1 L1063.1 593.8 L1063.4 592.6 L1063.4 591.3 L1064.1 590.2 L1064.6 589.0 L1064.4 587.6 L1063.3 586.3 L1064.6 587.5 L1064.2 589.0 L1064.5 590.3 L1064.8 591.7 L1065.7 593.0 L1064.6 594.4 L1064.4 595.8 L1065.4 597.0 L1064.8 598.4 L1065.4 599.7 L1064.7 601.1 L1065.2 602.3 L1066.1 603.6 L1065.4 604.9 L1065.8 606.2 L1065.6 607.5 L1066.7 608.7 L1066.2 610.0 L1066.0 611.3 L1066.4 612.6 L1066.5 613.8 L1067.0 615.1 L1066.3 616.4 L1067.7 617.6 L1066.9 619.0 L1067.3 620.3 L1067.4 621.5 L1067.4 622.8 L1066.6 624.2 L1067.4 625.4 L1068.0 626.7 L1068.0 628.0 L1067.5 629.3 L1068.0 630.6 L1068.1 632.0 L1069.0 633.3 L1069.3 634.5 L1069.2 635.8 L1069.6 637.0 L1069.6 638.3 L1069.8 639.6 L1070.3 638.3 L1068.4 636.8 L1069.5 635.5 L1069.7 634.2 L1069.5 632.8 L1069.5 631.5 L1070.1 630.2 L1070.3 628.8 L1069.9 627.5 L1069.8 626.1 L1070.1 624.8 L1070.4 623.5 L1070.1 622.2 L1070.9 620.9 L1071.3 619.6 L1071.0 618.3 L1070.6 616.9 L1070.8 615.6 L1071.0 614.3 L1071.6 613.0 L1070.4 611.6 L1071.0 610.4 L1071.4 609.2 L1072.1 608.0 L1072.0 606.7 L1071.7 605.4 L1072.0 604.2 L1071.7 603.0 L1072.2 601.9 L1072.6 600.8 L1074.1 599.9 L1074.3 598.5 L1073.1 596.9 L1073.6 595.6 L1073.7 594.2 L1073.8 592.8 L1074.1 591.5 L1074.3 590.2 L1075.0 589.0 L1076.1 590.3 L1075.3 591.6 L1075.8 592.9 L1075.0 594.3 L1075.7 595.6 L1075.0 597.0 L1075.1 598.3 L1075.4 599.6 L1075.5 600.9 L1075.7 602.2 L1076.1 603.4 L1076.3 604.7 L1076.2 606.0 L1075.5 607.4 L1075.8 608.6 L1075.5 609.9 L1075.3 611.2 L1076.5 612.4 L1076.8 613.9 L1076.6 615.4 L1078.0 616.6 L1077.4 617.9 L1078.2 619.0 L1078.0 620.2 L1078.1 621.4 L1078.6 621.8 L1079.6 622.6 L1080.4 621.4 L1080.2 619.9 L1080.0 618.4 L1080.8 617.4 L1080.2 616.1 L1079.9 614.7 L1080.9 613.5 L1081.7 612.3 L1082.3 611.0 L1081.7 609.7 L1082.2 608.4 L1082.6 607.1 L1082.2 605.7 L1083.5 604.5 L1083.2 603.0 L1083.8 601.8 L1083.5 600.4 L1083.5 599.1 L1083.3 597.8 L1083.6 596.5 L1083.4 595.1 L1083.3 593.8 L1083.6 592.5 L1083.3 591.2 L1083.9 589.9 L1084.3 588.6 L1084.3 587.3 L1084.5 586.0 L1084.2 584.8 L1085.1 586.0 L1085.1 587.0 L1086.3 587.0 L1086.6 588.3 L1086.7 589.5 L1086.4 590.8 L1086.0 592.2 L1087.3 593.3 L1086.2 594.7 L1086.6 595.9 L1087.8 597.1 L1087.2 598.4 L1087.3 597.1 L1087.6 595.8 L1088.1 594.4 L1087.9 593.1 L1088.8 591.8 L1088.5 590.4 L1088.9 589.1 L1088.6 587.7 L1089.0 586.4 L1087.7 585.0 L1087.2 583.7 L1087.5 582.3 L1087.2 581.0 L1087.5 579.8 L1088.4 578.5 L1088.5 577.2 L1087.7 575.9 L1088.6 574.7 L1088.4 573.4 L1089.0 572.1 L1089.2 570.9 L1089.0 569.6 L1089.5 568.3 L1088.7 567.0 L1089.1 565.7 L1088.6 567.0 L1089.5 568.1 L1089.1 569.4 L1090.1 570.5 L1090.0 571.7 L1089.9 573.0 L1090.6 574.1 L1090.0 575.4 L1089.7 576.8 L1090.7 578.0 L1090.8 579.3 L1091.0 580.6 L1090.5 581.9 L1090.6 583.2 L1091.2 582.1 L1091.2 580.8 L1090.6 579.5 L1091.8 578.4 L1092.1 577.2 L1091.2 575.9 L1091.7 574.7 L1092.6 573.4 L1091.5 572.0 L1092.0 570.7 L1092.1 569.4 L1092.6 568.1 L1092.9 566.6 L1093.0 567.9 L1092.6 569.5 L1094.0 570.2 L1094.1 571.4 L1094.3 572.7 L1094.9 574.0 L1094.8 575.3 L1094.3 576.6 L1094.4 577.9 L1095.2 579.2 L1094.3 580.6 L1094.7 581.8 L1095.0 583.1 L1094.9 584.4 L1095.6 585.7 L1095.1 587.0 L1094.9 588.3 L1094.9 589.6 L1096.0 588.8 L1096.6 587.7 L1096.8 586.6 L1097.4 585.5 L1098.1 586.7 L1097.0 588.2 L1097.3 589.5 L1098.6 590.6 L1098.6 591.9 L1097.8 593.2 L1098.2 594.5 L1098.8 595.7 L1099.0 597.0 L1099.1 598.2 L1099.1 599.6 L1099.9 600.8 L1099.1 602.3 L1099.1 603.7 L1100.5 604.8 L1099.5 606.3 L1100.6 607.4 L1100.5 608.8 L1100.8 607.4 L1100.8 606.1 L1101.1 604.8 L1100.8 603.5 L1100.6 602.1 L1102.0 600.9 L1100.3 599.4 L1100.9 598.2 L1101.3 596.9 L1101.4 595.5 L1101.9 594.2 L1100.5 592.8 L1101.3 591.5 L1101.6 590.2 L1101.9 589.1 L1102.9 588.2 L1102.5 586.9 L1102.8 585.6 L1102.7 584.3 L1103.7 583.0 L1103.9 584.2 L1103.6 585.4 L1103.9 586.5 L1103.0 587.8 L1103.6 588.9 L1104.0 590.2 L1104.1 591.4 L1104.4 592.7 L1104.7 593.9 L1104.6 595.2 L1105.7 596.3 L1105.6 597.6 L1105.7 598.8 L1106.1 600.0 L1106.3 601.2 L1106.5 602.4 L1105.8 603.7 L1106.3 605.1 L1106.5 606.4 L1105.7 607.9 L1105.6 609.3 L1105.9 610.6 L1106.8 612.1 L1107.5 610.7 L1107.3 609.2 L1107.4 607.7 L1108.1 606.3 L1107.7 604.6 L1107.6 603.3 L1108.3 602.0 L1109.1 600.7 L1109.1 599.3 L1109.5 598.0 L1108.6 596.6 L1108.8 595.2 L1109.1 593.9 L1110.1 592.6 L1109.1 591.2 L1109.5 590.0 L1109.4 588.7 L1108.7 587.4 L1110.1 586.3 L1109.5 585.0 L1108.9 583.7 L1110.4 582.5 L1110.9 581.3 L1110.7 580.0 L1110.4 578.6 L1111.3 579.6 L1112.0 580.6 L1112.6 581.7 L1112.6 583.0 L1112.1 584.3 L1112.5 585.5 L1112.8 586.8 L1113.0 588.0 L1113.2 589.2 L1113.8 590.4 L1112.6 591.8 L1113.4 593.0 L1113.9 594.2 L1114.1 595.4 L1113.8 596.7 L1114.4 598.0 L1114.4 596.5 L1114.5 595.1 L1115.0 593.8 L1115.8 592.4 L1115.6 591.1 L1115.6 589.8 L1115.7 588.5 L1115.2 587.1 L1115.8 585.9 L1116.2 584.6 L1115.8 583.2 L1116.7 583.0 L1117.6 582.0 L1119.4 580.5 L1119.6 581.9 L1119.2 583.3 L1119.3 584.6 L1118.7 586.0 L1118.9 587.4 L1120.0 588.6 L1119.5 590.0 L1119.5 591.2 L1119.4 592.5 L1119.4 593.8 L1120.6 595.0 L1120.5 596.2 L1120.4 597.6 L1121.5 598.8 L1120.8 600.3 L1121.5 601.5 L1122.2 602.8 L1122.0 604.3 L1121.7 605.7 L1121.9 606.9 L1122.7 608.2 L1122.8 609.4 L1123.1 610.7 L1123.2 612.0 L1123.8 613.2 L1123.0 614.5 L1122.6 615.8 L1121.9 617.1 L1123.2 618.3 L1123.1 619.6 L1123.0 620.9 L1123.8 622.1 L1123.3 623.4 L1123.1 624.7 L1122.9 626.0 L1123.2 627.2 L1123.7 628.5 L1123.8 629.8 L1124.5 631.1 L1124.6 632.4 L1123.7 633.9 L1123.2 635.2 L1124.2 636.4 L1125.0 637.6 L1124.4 639.0 L1125.6 640.2 L1125.0 641.5 L1124.8 642.7 L1126.0 641.5 L1125.1 640.1 L1125.3 638.8 L1124.8 637.4 L1125.2 636.1 L1126.5 635.0 L1126.5 633.6 L1125.8 632.1 L1126.5 630.8 L1127.1 629.5 L1128.2 628.3 L1127.8 627.0 L1127.7 625.8 L1128.1 624.6 L1127.7 623.4 L1127.8 622.2 L1127.5 620.9 L1128.0 619.6 L1127.9 618.1 L1127.8 616.7 L1127.5 615.3 L1128.1 613.7 L1129.0 613.0 L1129.9 612.3 L1130.7 611.5 L1131.2 612.9 L1131.1 614.2 L1130.4 615.7 L1130.5 617.1 L1131.0 618.4 L1130.8 619.8 L1130.6 621.2 L1130.5 622.6 L1130.7 623.8 L1130.8 625.0 L1131.1 626.2 L1131.2 627.4 L1131.1 628.6 L1131.9 629.7 L1131.9 630.9 L1131.9 632.2 L1131.5 633.5 L1132.3 634.6 L1132.1 635.7 L1132.1 634.3 L1133.3 633.3 L1133.2 632.0 L1133.8 630.6 L1133.2 629.2 L1133.8 627.8 L1133.3 626.4 L1134.5 625.1 L1134.4 623.8 L1135.4 622.6 L1136.0 621.3 L1136.2 620.0 L1136.5 618.7 L1136.7 617.5 L1136.4 616.1 L1135.6 614.8 L1136.3 615.0 L1136.3 616.2 L1137.1 617.3 L1136.9 618.6 L1137.5 619.8 L1137.4 621.0 L1137.0 622.3 L1138.0 623.5 L1137.2 624.8 L1137.3 626.1 L1138.2 627.3 L1138.2 628.6 L1137.6 630.0 L1137.4 631.3 L1138.5 632.4 L1139.3 633.9 L1138.8 632.5 L1139.1 631.2 L1139.6 630.0 L1140.2 628.8 L1138.5 627.2 L1141.0 626.6 L1140.7 625.4 L1141.2 624.0 L1140.7 625.4 L1141.8 626.4 L1141.7 627.7 L1142.1 628.8 L1142.1 630.1 L1142.4 631.3 L1142.1 632.7 L1143.6 633.7 L1142.1 635.2 L1142.5 636.4 L1143.6 637.6 L1143.8 638.8 L1143.1 640.2 L1143.0 641.6 L1144.1 642.7 L1144.3 644.0 L1144.6 645.2 L1144.2 646.5 L1143.5 647.9 L1143.8 649.1 L1144.6 650.2 L1144.4 651.5 L1144.9 652.7 L1144.9 654.0 L1145.2 655.2 L1145.0 656.5 L1145.5 657.7 L1146.0 658.9 L1145.9 660.1 L1145.4 661.4 L1146.0 662.6 L1146.8 663.7 L1146.6 665.0 L1145.6 666.1 L1145.8 664.8 L1147.2 663.6 L1147.7 662.3 L1147.4 660.9 L1147.4 659.5 L1146.8 658.1 L1148.0 657.0 L1147.2 655.7 L1148.6 654.5 L1147.4 653.2 L1148.2 652.0 L1147.8 650.7 L1148.0 649.5 L1148.0 648.3 L1148.7 646.9 L1148.1 648.3 L1148.8 649.3 L1150.0 650.2 L1149.9 651.5 L1149.7 652.7 L1149.6 653.9 L1149.7 655.1 L1150.3 656.1 L1150.5 654.9 L1150.7 653.8 L1151.7 652.9 L1152.0 651.8 L1151.9 650.5 L1152.7 649.4 L1152.7 648.2 L1153.1 647.0 L1152.1 646.1 L1152.7 647.0 L1153.8 647.6 L1154.6 649.0 L1155.2 647.9 L1154.6 646.5 L1155.8 645.4 L1155.9 644.1 L1155.4 642.7 L1156.1 641.5 L1156.6 640.2 L1156.1 638.8 L1156.5 637.6 L1156.5 636.3 L1156.9 635.0 L1157.2 636.2 L1157.4 637.3 L1157.6 638.5 L1158.2 639.6 L1158.9 640.9 L1159.5 642.2 L1159.5 643.7 L1159.1 645.2 L1159.2 643.9 L1159.2 642.6 L1160.0 641.4 L1160.8 640.2 L1160.6 638.9 L1160.7 637.6 L1161.5 636.4 L1161.4 635.0 L1162.0 633.8 L1162.2 632.6 L1161.7 631.2 L1161.5 629.9 L1161.8 628.6 L1162.1 627.3 L1162.6 626.1 L1161.7 623.7 L1163.4 624.0 L1163.8 622.7 L1163.1 621.4 L1163.4 620.1 L1163.2 618.8 L1163.8 617.5 L1164.0 616.3 L1163.9 615.0 L1164.2 613.7 L1164.4 612.4 L1164.7 611.1 L1164.1 609.8 L1164.7 608.6 L1164.9 607.3 L1164.9 606.0 L1164.4 604.7 L1164.8 603.4 L1165.5 602.1 L1164.4 600.8 L1165.0 599.5 L1165.4 598.2 L1164.6 599.2 L1164.0 597.9 L1164.1 596.6 L1165.4 595.4 L1164.2 594.0 L1164.6 592.8 L1165.9 591.6 L1166.1 590.3 L1167.1 589.2 L1166.4 587.7 L1166.4 586.3 L1165.6 584.7 L1166.4 583.4 L1166.2 582.2 L1166.7 581.0 L1166.0 579.6 L1166.5 578.5 L1166.5 577.2 L1167.3 576.1 L1167.3 574.6 L1167.2 573.1 L1168.2 571.8 L1168.9 570.4 L1169.7 569.2 L1168.7 567.9 L1168.7 566.6 L1168.6 565.3 L1169.3 564.1 L1169.2 562.9 L1170.4 561.3 L1170.2 559.8 L1170.0 558.3 L1170.9 557.0 L1170.7 555.5 L1170.7 556.9 L1170.6 558.3 L1171.2 559.6 L1171.3 561.0 L1171.2 562.3 L1171.8 563.7 L1171.8 565.0 L1171.6 566.3 L1172.0 567.5 L1172.3 568.7 L1172.3 570.0 L1173.2 571.2 L1172.1 572.5 L1172.1 573.7 L1171.9 575.0 L1172.4 576.2 L1173.5 577.5 L1173.5 576.2 L1173.8 574.9 L1173.6 573.6 L1173.9 572.3 L1175.1 571.2 L1174.5 569.7 L1174.3 568.3 L1175.1 567.0 L1174.1 565.4 L1175.9 564.1 L1175.8 565.5 L1175.9 566.9 L1176.3 568.3 L1175.5 569.8 L1177.0 571.0 L1175.9 572.4 L1177.1 573.6 L1177.1 574.9 L1176.6 576.3 L1178.2 577.5 L1175.9 578.8 L1176.8 577.5 L1176.4 576.1 L1177.8 574.9 L1178.3 573.6 L1177.8 572.1 L1178.1 570.7 L1177.9 569.3 L1177.3 567.8 L1177.6 566.4 L1178.9 565.1 L1178.4 563.8 L1178.0 565.1 L1178.8 566.4 L1179.3 567.7 L1179.2 569.0 L1178.9 570.4 L1179.5 571.6 L1180.7 572.8 L1180.4 574.1 L1179.5 575.4 L1179.5 576.6 L1179.9 577.9 L1180.3 579.1 L1180.1 580.4 L1180.3 581.6 L1181.1 580.3 L1181.1 578.9 L1180.5 577.5 L1180.6 576.1 L1181.2 574.8 L1181.1 573.5 L1181.6 572.1 L1181.5 570.8 L1181.0 569.4 L1182.0 568.1 L1182.1 566.8 L1181.3 565.4 L1181.7 564.1 L1181.8 562.8 L1182.7 561.5 L1183.0 560.2 L1182.6 558.8 L1182.4 557.5 L1182.5 556.2 L1183.0 554.9 L1181.4 553.6 L1182.2 554.8 L1182.7 556.1 L1182.5 557.4 L1183.0 558.6 L1183.3 559.9 L1182.6 561.2 L1182.7 562.5 L1182.9 563.8 L1183.6 565.0 L1184.0 566.3 L1183.1 567.8 L1183.5 569.2 L1183.8 570.6 L1183.3 572.3 L1185.1 573.1 L1185.5 574.3 L1185.4 575.9 L1187.2 575.7 L1187.3 577.0 L1187.2 578.2 L1186.9 579.5 L1187.7 580.7 L1188.9 581.8 L1188.6 583.1 L1188.5 584.4 L1188.4 585.7 L1188.6 586.9 L1188.0 588.3 L1188.0 589.5 L1189.0 590.7 L1189.3 591.9 L1188.0 593.1 L1188.5 592.0 L1190.1 590.9 L1189.2 589.6 L1189.6 588.4 L1189.6 587.2 L1189.7 585.9 L1190.0 584.7 L1189.7 583.4 L1190.1 582.3 L1190.3 581.0 L1190.4 579.8 L1191.0 578.6 L1191.2 577.3 L1190.3 575.7 L1190.5 574.4 L1191.8 573.0 L1191.6 574.5 L1192.3 575.8 L1192.9 577.2 L1192.6 578.5 L1192.2 579.9 L1192.3 581.2 L1192.6 582.4 L1192.5 583.7 L1192.1 585.2 L1193.7 586.4 L1193.8 587.8 L1194.1 589.1 L1193.6 590.6 L1194.6 591.8 L1195.2 592.8 L1194.4 594.3 L1195.5 595.1 L1195.3 596.4 L1196.3 597.2 L1197.3 598.4 L1198.0 597.3 L1197.6 595.9 L1197.7 594.6 L1198.0 593.3 L1198.2 592.0 L1198.6 590.7 L1198.1 589.3 L1197.6 588.0 L1198.2 586.8 L1199.1 585.5 L1198.8 584.2 L1199.2 583.0 L1198.9 581.7 L1199.4 580.5 L1199.1 579.2 L1198.7 577.9 L1199.4 576.6 L1200.2 575.2 L1200.2 576.7 L1200.6 578.0 L1201.0 579.3 L1200.7 580.7 L1201.0 581.8 L1202.5 582.5 L1202.1 583.9 L1203.2 584.5 L1203.8 585.8 L1204.5 586.6 L1205.1 587.6 L1206.2 588.6 L1206.3 589.7 L1205.8 591.3 L1206.5 592.5 L1207.0 593.8 L1207.6 595.0 L1206.7 596.5 L1207.0 597.9 L1207.6 599.2 L1208.4 600.4 L1208.7 601.8 L1209.4 602.9 L1209.2 604.1 L1209.7 602.8 L1209.5 601.5 L1209.8 600.1 L1210.3 598.8 L1210.0 597.4 L1210.5 596.1 L1210.9 594.8 L1209.3 593.3 L1211.5 592.2 L1210.5 590.9 L1210.4 589.6 L1211.3 588.4 L1211.5 587.1 L1211.4 585.8 L1211.5 584.6 L1211.8 583.3 L1212.2 582.1 L1212.2 580.8 L1210.8 579.9 L1211.7 580.9 L1213.2 581.6 L1213.4 582.9 L1213.4 583.9 L1213.8 582.6 L1215.6 581.4 L1214.5 579.9 L1214.4 578.5 L1214.9 577.2 L1214.8 575.8 L1214.8 574.5 L1215.7 573.3 L1215.6 572.0 L1216.4 570.8 L1214.6 569.8 L1215.5 570.8 L1216.3 571.9 L1216.6 573.0 L1216.6 574.2 L1217.1 575.5 L1217.6 576.8 L1217.9 578.2 L1218.1 579.6 L1218.4 580.9 L1218.6 579.7 L1218.5 578.3 L1218.4 577.1 L1220.6 576.0 L1220.4 574.5 L1220.4 573.0 L1220.3 571.6 L1221.2 572.5 L1221.5 573.5 L1221.2 574.7 L1221.4 576.0 L1221.6 577.3 L1221.9 578.5 L1222.7 579.7 L1222.7 578.3 L1222.4 576.8 L1222.9 575.5 L1222.1 573.9 L1223.7 572.7 L1224.0 571.4 L1223.6 569.8 L1225.0 568.7 L1224.6 567.3 L1225.4 568.4 L1225.6 569.6 L1225.9 570.9 L1227.3 570.8 L1227.4 569.4 L1226.9 568.0 L1227.4 566.7 L1227.6 565.4 L1228.4 564.2 L1227.5 562.7 L1228.0 561.5 L1228.2 560.2 L1228.3 558.9 L1228.3 557.6 L1228.4 556.3 L1228.9 555.0 L1229.0 553.7 L1229.1 552.4 L1228.1 551.0 L1228.4 549.8 L1229.3 548.6 L1229.7 547.4 L1229.4 546.1 L1229.7 544.8 L1230.0 543.5 L1230.6 542.2 L1230.8 540.8 L1231.3 539.6 L1231.6 538.2 L1232.0 536.8 L1232.3 535.3 L1232.9 534.2 L1232.9 532.9 L1232.9 531.6 L1233.2 530.4 L1233.3 529.2 L1233.6 528.1 L1233.5 526.8 L1232.8 525.9 L1233.1 527.5 L1234.4 528.6 L1234.9 529.7 L1236.0 530.8 L1235.7 532.0 L1236.4 533.1 L1236.4 534.2 L1236.8 535.4 L1236.8 536.9 L1238.3 537.6 L1238.8 538.8 L1239.1 540.1 L1238.9 538.8 L1239.3 537.7 L1239.7 536.6 L1241.2 535.7 L1240.8 534.3 L1240.8 533.0 L1241.2 531.7 L1241.4 530.3 L1241.2 528.9 L1241.7 527.7 L1242.3 526.5 L1241.7 525.2 L1242.1 524.0 L1241.7 522.7 L1242.4 521.5 L1243.0 520.2 L1242.9 518.7 L1243.5 517.1 L1243.1 518.5 L1243.3 519.7 L1244.3 520.8 L1244.7 522.1 L1244.4 520.8 L1245.4 519.9 L1245.0 518.6 L1244.0 517.2 L1244.1 515.9 L1245.2 514.7 L1245.7 513.4 L1244.9 512.0 L1246.0 510.8 L1246.1 512.2 L1245.9 513.6 L1246.6 514.9 L1246.5 516.3 L1246.5 517.6 L1246.9 518.8 L1248.2 520.0 L1247.7 521.3 L1248.4 522.5 L1248.0 523.9 L1248.1 525.1 L1248.6 526.4 L1248.6 527.6 L1248.2 528.9 L1248.4 527.8 L1248.7 526.7 L1250.0 526.0 L1250.2 524.6 L1249.6 526.0 L1251.1 527.0 L1250.9 528.4 L1250.7 529.6 L1251.3 530.6 L1251.4 531.8 L1251.8 533.1 L1252.4 534.3 L1252.2 535.4 L1252.9 534.3 L1253.6 533.0 L1254.7 532.6 L1254.8 531.4 L1255.5 530.2 L1255.5 528.9 L1255.8 527.6 L1256.2 526.4 L1256.2 525.1 L1256.0 523.7 L1256.1 522.3 L1255.7 520.8 L1257.1 519.7 L1257.5 521.1 L1257.3 522.6 L1256.9 524.2 L1257.6 525.6 L1258.5 526.6 L1258.3 527.9 L1258.6 529.1 L1259.4 530.1 L1259.2 531.4 L1259.7 532.5 L1259.7 533.5 L1260.9 532.4 L1261.5 531.1 L1262.5 529.9 L1262.8 528.6 L1262.2 527.1 L1262.0 525.6 L1262.8 524.3 L1263.9 523.1 L1262.8 521.5 L1263.9 520.5 L1264.3 519.4 L1263.8 518.1 L1264.0 516.9 L1264.6 515.7 L1264.9 514.5 L1264.4 513.1 L1265.1 511.9 L1264.5 510.6 L1265.2 509.4 L1265.2 508.1 L1265.0 506.8 L1265.5 505.5 L1266.4 504.3 L1266.6 503.0 L1266.7 501.7 L1265.9 500.4 L1267.1 499.0 L1266.7 500.4 L1266.5 501.7 L1266.6 503.0 L1267.4 504.1 L1268.1 505.2 L1267.9 506.5 L1267.5 507.8 L1267.9 509.0 L1268.0 509.9 L1268.6 508.7 L1269.2 507.4 L1269.6 506.1 L1269.2 504.7 L1270.2 503.7 L1271.0 502.6 L1270.8 501.3 L1270.2 499.9 L1271.8 498.9 L1272.3 500.0 L1272.6 501.2 L1271.9 502.5 L1272.7 503.6 L1272.6 504.8 L1272.3 506.1 L1272.8 507.4 L1273.0 508.8 L1272.9 510.2 L1272.9 511.6 L1273.7 512.9 L1273.7 514.1 L1274.5 515.1 L1273.6 516.4 L1273.8 517.7 L1273.8 519.0 L1274.6 520.2 L1274.9 521.4 L1274.6 522.7 L1274.8 524.0 L1275.6 525.2 L1275.9 526.4 L1276.0 527.8 L1276.2 529.1 L1276.2 530.4 L1276.9 531.7 L1276.5 533.1 L1277.2 534.5 L1278.1 535.8 L1277.6 537.2 L1278.2 538.5 L1277.5 540.0 L1278.1 541.2 L1278.2 542.6 L1278.1 543.9 L1278.3 545.3 L1278.8 546.4 L1278.0 547.7 L1279.0 548.9 L1280.3 550.0 L1279.4 551.3 L1280.7 552.4 L1280.5 553.7 L1280.5 554.9 L1280.5 556.1 L1281.0 557.4 L1282.1 556.4 L1282.1 555.1 L1281.7 553.8 L1281.8 552.6 L1281.5 551.3 L1281.9 550.1 L1282.1 548.8 L1282.7 547.6 L1282.5 546.3 L1282.5 545.1 L1282.7 543.8 L1283.2 542.6 L1282.8 541.3 L1282.9 542.7 L1283.3 544.1 L1283.5 545.4 L1282.8 546.8 L1284.4 547.7 L1284.5 549.0 L1284.8 550.2 L1285.2 551.5 L1286.4 550.0 L1287.1 548.9 L1286.5 547.6 L1286.3 546.3 L1287.3 545.3 L1287.3 544.1 L1288.5 542.9 L1288.4 541.2 L1288.6 542.5 L1288.1 543.8 L1287.7 545.1 L1288.5 546.3 L1288.6 547.6 L1288.8 548.9 L1288.8 550.2 L1289.0 551.5 L1290.0 552.7 L1290.0 554.0 L1289.3 555.5 L1289.8 556.8 L1290.5 558.0 L1289.8 559.6 L1290.7 560.6 L1292.0 561.5 L1291.8 562.9 L1292.0 564.2 L1292.7 565.5 L1292.1 566.9 L1292.6 568.2 L1292.8 569.5 L1293.3 570.8 L1292.3 572.2 L1292.7 573.5 L1293.2 574.9 L1292.5 573.5 L1293.2 572.3 L1293.3 571.0 L1292.5 569.6 L1293.9 568.5 L1293.7 567.2 L1293.9 565.9 L1294.4 564.6 L1294.3 563.2 L1293.8 561.7 L1294.8 560.6 L1294.9 559.4 L1295.5 558.2 L1294.4 557.2 L1296.0 558.0 L1295.7 559.3 L1295.7 560.5 L1296.5 561.5 L1296.8 562.8 L1297.2 563.9 L1297.5 565.1 L1298.0 566.3 L1298.2 567.6 L1299.4 568.7 L1299.1 570.1 L1299.8 571.2 L1299.5 572.5 L1300.0 573.9 L1298.9 575.6 L1299.9 576.9 L1299.7 578.4 L1300.3 579.6 L1300.7 580.9 L1300.9 582.3 L1300.4 583.7 L1301.4 584.8 L1301.1 586.1 L1300.2 587.5 L1301.3 588.7 L1301.2 589.9 L1301.6 591.1 L1301.8 592.4 L1301.7 593.7 L1302.5 594.9 L1302.0 596.3 L1302.3 597.7 L1302.3 599.0 L1302.1 600.4 L1302.1 601.7 L1302.9 603.0 L1303.1 604.5 L1303.8 605.8 L1304.0 606.9 L1305.2 607.4 L1305.5 608.6 L1306.6 609.5 L1305.4 610.9 L1305.5 609.5 L1306.4 608.3 L1306.4 606.9 L1305.9 605.4 L1306.9 604.2 L1306.3 602.7 L1307.6 601.6 L1307.4 600.2 L1307.7 599.0 L1308.2 597.6 L1308.8 598.7 L1309.1 599.9 L1309.7 601.1 L1309.4 602.6 L1310.0 604.0 L1309.7 605.5 L1310.5 606.9 L1310.1 608.2 L1309.3 609.6 L1310.3 610.9 L1310.1 612.2 L1310.1 613.5 L1310.8 614.8 L1310.1 616.2 L1310.3 617.5 L1310.7 618.8 L1311.2 620.1 L1310.8 621.5 L1311.2 622.8 L1311.2 624.1 L1311.5 625.4 L1310.9 626.8 L1311.3 628.0 L1310.7 629.4 L1311.5 630.6 L1311.7 631.9 L1312.0 633.2 L1312.1 634.5 L1311.5 635.8 L1311.5 637.2 L1312.5 638.4 L1312.1 639.8 L1312.1 641.2 L1312.4 642.5 L1313.0 643.8 L1313.8 645.0 L1313.5 646.4 L1313.6 647.7 L1312.8 649.1 L1314.3 650.2 L1314.3 651.5 L1314.0 652.8 L1314.5 654.1 L1314.8 655.3 L1315.3 656.6 L1314.8 657.9 L1315.2 656.6 L1315.5 655.3 L1315.4 654.0 L1315.1 652.7 L1315.6 651.4 L1315.9 650.1 L1316.0 648.8 L1316.6 647.6 L1315.3 646.2 L1316.0 644.9 L1315.5 643.7 L1315.6 642.4 L1315.8 641.2 L1316.2 640.0 L1316.0 638.7 L1316.7 637.5 L1316.1 636.2 L1316.7 635.0 L1317.1 633.8 L1317.0 632.5 L1316.4 631.1 L1316.3 629.8 L1316.7 628.5 L1316.4 627.2 L1316.3 625.9 L1317.1 624.6 L1317.9 623.3 L1318.4 622.0 L1317.2 620.6 L1318.2 621.8 L1316.6 623.2 L1317.2 624.5 L1317.0 625.8 L1317.4 627.0 L1317.4 628.3 L1317.3 629.6 L1318.0 630.8 L1317.8 632.1 L1318.1 633.4 L1318.4 634.6 L1318.9 635.9 L1317.8 637.2 L1318.1 638.4 L1318.7 639.7 L1319.3 640.9 L1318.6 642.2 L1319.3 643.4 L1319.4 644.7 L1319.4 645.9 L1320.1 647.1 L1319.4 648.4 L1319.7 649.7 L1320.1 650.9 L1319.8 652.2 L1318.8 653.4 L1319.3 652.2 L1319.5 651.0 L1320.4 649.8 L1320.5 648.5 L1319.8 647.2 L1320.7 646.1 L1321.5 644.9 L1320.7 643.5 L1320.7 642.3 L1320.8 641.0 L1320.7 639.7 L1321.2 638.4 L1321.7 637.2 L1321.4 635.9 L1321.8 634.6 L1322.4 633.4 L1321.7 632.0 L1322.8 631.2 L1322.9 629.9 L1322.3 628.4 L1323.0 627.3 L1324.3 626.3 L1323.1 624.6 L1323.5 623.3 L1324.5 622.1 L1325.2 620.8 L1325.4 619.3 L1325.2 617.9 L1325.8 619.1 L1325.5 620.5 L1325.9 621.7 L1326.3 622.9 L1325.4 624.3 L1327.1 625.4 L1326.2 626.7 L1326.6 627.9 L1327.0 629.1 L1327.8 630.3 L1327.3 631.6 L1327.4 632.8 L1327.5 634.0 L1327.7 632.5 L1328.9 631.5 L1329.0 630.2 L1329.5 628.9 L1329.5 627.5 L1329.5 626.2 L1329.3 624.7 L1330.3 623.9 L1330.8 622.9 L1331.0 621.8 L1330.9 620.4 L1331.5 619.1 L1331.4 617.8 L1331.7 616.6 L1332.4 617.9 L1332.8 619.2 L1332.4 620.9 L1333.5 621.8 L1335.2 622.8 L1334.7 624.2 L1335.6 625.4 L1335.8 626.7 L1334.8 628.2 L1334.5 629.6 L1335.4 630.8 L1335.1 632.1 L1335.6 633.3 L1336.0 634.5 L1335.8 635.8 L1336.5 636.9 L1335.8 638.4 L1335.5 639.8 L1336.6 641.1 L1336.9 642.4 L1337.7 643.7 L1337.1 645.2 L1337.8 646.4 L1339.0 647.5 L1338.6 649.0 L1338.0 650.4 L1338.5 651.7 L1338.7 652.8 L1339.2 654.0 L1339.0 655.3 L1339.1 656.5 L1339.2 657.7 L1339.3 658.9 L1339.0 660.2 L1339.9 661.2 L1339.1 662.5 L1339.8 663.7 L1340.1 664.8 L1340.7 666.0 L1340.7 667.3 L1340.4 668.5 L1340.9 669.7 L1340.4 671.0 L1340.5 672.3 L1339.9 673.6 L1340.3 674.8 L1340.7 676.0 L1340.1 677.3 L1340.9 678.5 L1340.3 679.7 L1340.7 680.9 L1341.0 682.2 L1341.0 683.4 L1341.5 684.6 L1342.0 685.8 L1340.8 687.1 L1341.0 688.4 L1340.9 689.7 L1341.1 691.0 L1341.2 692.4 L1341.5 693.7 L1340.9 695.0 L1341.5 696.3 L1341.0 697.7 L1341.4 699.0 L1342.0 700.3 L1342.4 701.6 L1341.6 703.0 L1342.3 704.3 L1341.3 705.6 L1341.5 707.0 L1341.5 708.3 L1341.6 709.6 L1341.8 710.9 L1342.4 712.2 L1342.7 713.5 L1342.2 714.8 L1342.3 716.1 L1341.6 717.3 L1342.4 718.6 L1342.0 719.9 L1342.8 721.1 L1343.5 722.4 L1342.3 723.7 L1342.2 725.0 L1342.2 726.2 L1343.6 727.5 L1343.1 728.8 L1343.1 730.0 L1342.9 731.3 L1343.0 732.6 L1343.7 733.8 L1343.6 735.1 L1343.6 736.4 L1342.8 737.7 L1344.3 738.9 L1343.2 740.2 L1343.6 741.5 L1342.6 740.2 L1342.6 738.9 L1343.2 737.6 L1342.4 736.3 L1343.3 735.1 L1343.1 733.8 L1343.1 732.5 L1343.2 731.2 L1342.8 729.9 L1343.2 728.6 L1343.0 727.4 L1342.9 726.1 L1343.2 724.8 L1342.9 723.5 L1343.2 722.2 L1344.1 721.0 L1342.9 719.6 L1343.8 718.4 L1343.7 717.1 L1344.4 715.8 L1344.3 714.5 L1344.8 713.3 L1343.9 712.0 L1344.9 710.7 L1344.4 709.4 L1344.0 708.1 L1343.4 706.8 L1343.9 705.5 L1343.5 704.2 L1344.1 703.0 L1344.6 701.7 L1343.6 700.4 L1344.2 699.1 L1343.4 697.8 L1344.0 696.5 L1343.8 695.3 L1344.7 694.0 L1344.7 692.7 L1344.5 691.4 L1344.2 690.1 L1344.3 688.8 L1343.4 687.5 L1343.3 686.3 L1344.7 685.0 L1345.2 686.3 L1344.5 687.6 L1344.4 688.9 L1344.5 690.2 L1344.3 691.5 L1344.5 692.8 L1344.5 694.1 L1344.9 695.4 L1344.5 696.7 L1345.2 698.0 L1344.4 699.3 L1344.8 700.6 L1345.0 701.9 L1343.5 703.2 L1344.4 704.5 L1345.3 705.7 L1345.0 707.0 L1345.0 708.3 L1344.5 709.6 L1345.5 710.8 L1344.6 712.1 L1345.3 713.4 L1345.2 714.7 L1345.7 715.9 L1345.0 717.3 L1345.7 718.6 L1346.0 720.0 L1345.9 721.4 L1346.3 722.8 L1347.2 723.7 L1346.4 725.0 L1347.3 725.9 L1347.5 727.1 L1346.9 728.4 L1347.2 729.6 L1348.3 730.6 L1348.1 731.9 L1348.4 733.3 L1348.7 734.7 L1349.0 736.2 L1349.6 737.5 L1350.1 736.3 L1350.3 735.0 L1350.2 733.7 L1349.8 732.3 L1350.7 731.3 L1351.1 730.1 L1351.6 729.0 L1350.5 727.6 L1351.7 726.6 L1352.0 728.2 L1353.5 730.1 L1353.8 728.0 L1354.1 726.4 L1355.4 725.1 L1355.2 723.6 L1355.0 722.1 L1355.4 720.7 L1355.1 719.2 L1355.9 717.9 L1356.0 716.4 L1356.3 715.3 L1356.6 714.1 L1356.6 712.9 L1356.7 711.7 L1356.8 710.4 L1356.1 709.2 L1356.9 708.0 L1356.2 709.3 L1356.3 710.6 L1356.5 711.8 L1356.5 713.1 L1356.6 714.3 L1356.6 715.6 L1357.8 716.7 L1357.0 718.1 L1357.0 719.4 L1357.7 720.7 L1357.3 722.0 L1357.7 723.3 L1357.8 724.6 L1358.1 726.0 L1359.0 726.8 L1359.4 727.9 L1361.2 727.9 L1361.7 729.2 L1361.7 730.7 L1362.1 731.8 L1362.8 732.7 L1362.8 733.9 L1363.3 735.0 L1363.8 736.1" fill="none" stroke="#0000ff" stroke-width="3.1" stroke-linejoin="round" stroke-linecap="round"/>
<path d="M100.8 257.7 L101.1 259.3 L102.7 260.5 L102.2 261.9 L102.8 263.1 L102.4 264.5 L102.7 265.7 L103.2 266.9 L103.0 268.2 L103.7 269.3 L103.6 270.6 L103.9 271.8 L104.4 273.1 L104.8 274.5 L105.3 276.1 L106.4 276.5 L106.4 277.7 L106.5 278.8 L107.7 279.7 L108.3 280.7 L108.5 281.9 L108.5 283.1 L108.5 284.2 L108.5 283.0 L108.6 281.8 L108.9 280.7 L109.5 279.6 L109.8 278.5 L110.6 277.5 L110.9 276.4 L112.1 275.1 L111.5 273.2 L112.0 272.1 L112.5 271.1 L113.0 269.6 L114.0 268.4 L115.2 267.4 L115.4 268.8 L116.1 270.1 L116.1 271.5 L116.3 272.5 L115.9 273.6 L117.5 274.9 L117.3 276.3 L116.6 277.7 L116.9 279.1 L117.0 280.5 L117.3 281.8 L118.4 282.7 L117.6 284.5 L119.0 285.1 L119.2 286.7 L119.7 288.2 L119.8 289.3 L119.6 290.6 L120.6 291.5 L120.9 292.6 L120.7 293.9 L120.9 295.0 L122.8 296.0 L122.2 294.6 L122.9 293.6 L123.4 292.5 L123.3 291.0 L123.4 289.5 L124.2 288.3 L124.4 287.1 L125.3 285.3 L125.8 287.2 L124.7 288.7 L125.6 290.0 L125.6 291.4 L126.4 292.7 L126.3 294.2 L127.2 294.9 L127.9 296.0 L127.8 297.3 L128.8 298.5 L128.2 299.8 L129.0 301.0 L128.4 302.3 L128.4 303.5 L128.4 304.8 L128.2 306.0 L128.6 307.2 L129.6 308.3 L129.0 309.6 L129.9 310.9 L129.6 312.4 L130.4 313.7 L129.7 315.2 L131.4 316.7 L130.7 315.3 L130.9 314.1 L130.9 312.9 L132.4 312.0 L131.7 310.6 L132.1 309.5 L132.6 308.4 L132.4 307.2 L132.7 306.0 L132.9 304.7 L133.2 303.3 L133.1 301.9 L133.6 300.6 L134.3 299.3 L133.8 297.3 L134.5 297.3 L134.9 296.1 L135.8 295.2 L136.2 293.8 L137.3 293.0 L138.3 292.1 L139.8 290.4 L140.7 291.1 L140.4 292.1 L141.3 291.7 L142.4 291.4 L143.2 290.4 L143.2 289.2 L143.3 288.0 L143.8 287.0 L144.4 285.9 L144.6 285.1 L145.6 286.3 L147.0 287.2 L148.1 288.2 L149.0 289.0 L148.3 290.0 L149.9 288.9 L149.5 287.4 L150.7 286.2 L150.4 284.7 L151.4 283.9 L150.9 282.6 L151.4 281.6 L152.2 280.9 L152.4 279.8 L153.2 278.6 L153.4 277.3 L153.2 275.9 L153.7 274.6 L154.3 275.9 L154.3 277.2 L154.1 278.6 L154.4 280.0 L154.7 281.3 L154.4 282.7 L154.6 284.1 L155.2 285.3 L155.3 286.7 L155.2 288.0 L155.4 289.4 L155.7 290.8 L156.7 292.0 L156.7 293.5 L157.4 294.9 L157.4 296.4 L158.0 297.7 L158.4 299.0 L158.8 300.4 L158.7 301.8 L158.6 303.3 L158.8 304.5 L159.0 305.7 L159.3 306.8 L159.5 308.1 L160.7 309.2 L160.9 310.7 L161.5 312.2 L161.4 313.7 L161.8 315.0 L161.7 316.4 L162.5 317.6 L162.3 319.0 L162.2 320.1 L162.8 318.9 L163.7 317.7 L162.5 316.2 L163.3 315.0 L164.5 313.8 L164.8 312.5 L165.2 311.3 L164.9 309.9 L165.5 308.7 L165.3 307.2 L165.2 305.8 L165.3 304.3 L166.5 303.6 L166.6 302.5 L166.5 301.0 L167.0 299.6 L166.9 298.0 L167.9 296.6 L169.4 295.2 L169.3 296.5 L169.3 297.8 L169.8 299.0 L169.7 300.3 L170.1 301.5 L170.1 302.9 L170.6 304.1 L171.5 305.2 L171.4 306.5 L172.0 307.7 L171.5 309.0 L172.3 310.1 L171.8 311.6 L173.6 311.9 L173.8 313.2 L174.5 314.4 L174.0 315.9 L173.6 317.4 L173.8 319.3 L175.2 319.4 L176.1 318.2 L175.8 316.9 L176.1 315.6 L176.5 314.3 L176.6 313.0 L176.7 311.7 L176.5 310.3 L177.3 309.1 L177.2 307.8 L177.7 306.5 L178.0 307.8 L178.3 309.1 L178.1 310.5 L178.4 311.8 L178.2 313.1 L178.6 314.4 L179.6 315.7 L178.5 317.3 L179.6 318.5 L179.6 320.0 L178.7 321.5 L179.4 322.8 L180.1 324.0 L180.5 325.2 L180.3 326.5 L180.5 327.7 L180.1 329.0 L180.7 330.2 L180.7 331.4 L181.5 332.6 L181.4 334.0 L181.6 335.4 L181.2 336.8 L181.4 338.2 L181.6 339.6 L181.6 341.0 L182.1 342.3 L182.2 343.7 L182.5 344.9 L183.3 346.1 L184.1 347.4 L184.5 348.7 L183.9 350.0 L183.1 351.4 L183.8 352.6 L183.3 353.9 L183.6 355.2 L183.3 356.5 L184.3 357.7 L183.5 358.7 L184.1 357.6 L184.7 356.5 L185.2 355.4 L185.4 354.3 L186.5 353.5 L186.7 352.3 L185.9 353.8 L186.6 355.1 L187.6 356.3 L187.9 357.4 L188.5 358.3 L188.6 359.5 L188.2 360.9 L189.1 362.1 L188.6 363.5 L189.7 364.6 L189.2 365.9 L189.4 364.6 L189.7 363.4 L190.5 362.1 L189.1 360.7 L189.7 359.4 L190.4 358.2 L190.0 356.9 L190.9 355.6 L190.3 354.3 L189.6 352.9 L190.4 351.7 L189.8 350.4 L190.3 349.1 L190.9 347.8 L190.8 346.5 L190.5 345.2 L189.5 343.8 L190.0 342.6 L190.5 341.3 L190.1 340.0 L190.2 338.7 L190.7 337.4 L191.1 336.1 L190.5 334.6 L191.7 333.4 L192.7 332.7 L192.8 331.5 L193.4 330.3 L193.7 329.1 L195.2 327.9 L195.0 326.6 L194.5 325.3 L195.0 324.1 L194.4 322.8 L194.9 321.5 L194.9 320.3 L195.1 319.0 L195.1 317.7 L195.0 316.5 L194.4 315.2 L194.2 313.9 L195.1 312.7 L194.8 311.4 L195.5 310.2 L195.1 308.8 L195.5 307.5 L194.9 306.1 L195.1 304.8 L195.2 303.5 L195.3 302.1 L194.6 300.8 L195.2 299.4 L195.8 298.1 L195.8 296.8 L194.7 295.4 L196.2 294.1 L195.6 292.8 L195.9 291.4 L196.0 292.7 L195.5 294.0 L196.4 295.2 L195.5 296.5 L196.4 297.7 L196.2 299.0 L196.6 300.2 L196.9 301.4 L196.5 302.7 L197.0 303.9 L196.6 305.2 L196.6 306.5 L196.7 307.7 L197.1 309.0 L196.4 310.3 L197.0 311.7 L196.1 313.1 L197.0 314.4 L197.4 315.7 L197.4 317.0 L197.3 318.4 L197.3 319.7 L197.6 321.1 L197.2 322.5 L197.7 323.7 L197.4 325.1 L197.8 326.3 L198.3 327.6 L198.8 328.9 L199.2 330.1 L198.6 331.5 L198.1 333.0 L198.9 334.2 L199.3 335.6 L199.3 336.9 L199.9 338.2 L200.4 339.4 L200.4 340.7 L200.3 342.0 L200.9 343.2 L201.2 344.4 L201.4 345.6 L201.4 346.8 L201.7 348.0 L201.7 349.2 L201.9 350.4 L202.0 351.6 L201.8 353.0 L202.2 354.2 L202.3 355.5 L202.4 356.8 L202.6 358.3 L203.3 359.3 L203.8 360.5 L203.5 361.9 L204.5 363.1 L204.8 364.4 L205.7 365.5 L205.7 366.8 L206.5 367.9 L206.3 369.3 L207.0 370.6 L207.0 372.0 L207.1 373.4 L208.0 374.7 L208.3 375.9 L206.7 377.6 L207.2 378.8 L208.2 379.9 L207.5 381.4 L207.8 382.6 L208.4 383.6 L208.3 384.8 L208.7 386.0 L208.7 387.1 L209.1 388.4 L209.8 389.6 L209.3 390.9 L209.7 392.2 L209.9 393.4 L209.9 394.8 L210.0 396.0 L210.7 397.1 L211.8 398.1 L211.4 399.4 L211.6 400.8 L211.5 402.2 L212.1 403.4 L212.3 404.7 L212.7 406.0 L212.9 407.3 L212.7 408.7 L212.7 410.0 L213.2 411.3 L213.2 412.6 L213.1 413.9 L213.3 415.2 L213.1 416.6 L213.2 417.9 L213.3 419.2 L213.6 420.5 L212.9 421.9 L212.7 423.2 L213.0 424.5 L214.0 425.9 L214.1 424.6 L214.9 423.6 L214.9 422.3 L215.4 421.1 L216.8 420.3 L216.8 418.6 L216.9 417.1 L217.5 418.1 L218.5 419.0 L218.0 420.6 L218.1 422.1 L217.7 423.8 L219.1 425.0 L219.8 426.5 L219.8 427.9 L219.9 429.3 L220.2 430.6 L220.8 432.0 L220.6 433.4 L220.2 434.7 L220.8 435.8 L220.7 437.1 L220.7 438.3 L221.8 439.4 L221.4 440.7 L222.1 441.9 L222.0 443.2 L222.2 444.6 L222.7 445.9 L223.2 447.2 L222.5 448.7 L222.8 450.0 L222.3 448.7 L223.2 447.5 L222.8 446.2 L222.6 444.9 L222.9 443.6 L222.6 442.3 L223.3 441.1 L223.2 439.8 L223.0 438.5 L222.9 437.2 L222.5 435.9 L224.0 434.7 L223.8 433.4 L223.9 432.2 L223.8 430.8 L223.7 429.5 L223.4 428.2 L223.9 426.9 L224.1 425.6 L224.0 424.3 L224.0 423.0 L224.0 421.7 L224.4 420.4 L224.5 419.1 L223.8 417.8 L224.9 416.5 L225.3 415.2 L224.8 414.0 L224.6 412.7 L224.5 411.4 L225.4 410.2 L224.8 408.9 L225.3 407.6 L226.3 406.4 L225.7 405.1 L225.7 403.8 L225.6 402.5 L225.2 401.3 L225.5 400.0 L225.3 398.7 L225.8 397.5 L225.8 396.2 L226.4 394.9 L225.0 393.6 L225.9 392.4 L225.5 391.1 L226.0 389.8 L226.3 388.5 L226.7 389.6 L226.9 390.9 L226.4 392.2 L227.1 393.3 L227.0 394.6 L226.8 395.9 L227.2 397.0 L227.2 398.3 L227.3 399.5 L227.8 400.7 L227.3 402.0 L228.7 403.2 L229.5 401.9 L227.9 400.3 L228.9 399.0 L227.9 397.4 L228.7 396.1 L229.1 394.7 L228.8 393.4 L229.0 392.1 L229.7 390.9 L229.9 389.6 L229.8 388.3 L230.0 387.0 L231.1 385.8 L230.2 384.9 L231.1 384.2 L231.4 382.9 L232.1 382.0 L232.7 383.3 L231.8 384.7 L233.3 386.0 L232.9 387.4 L233.4 388.7 L232.7 390.1 L233.0 391.4 L233.2 392.7 L233.4 394.1 L232.5 395.5 L233.6 396.8 L233.4 398.1 L233.6 399.4 L233.9 400.6 L234.2 401.7 L235.0 402.8 L235.4 404.2 L235.4 405.6 L235.7 406.9 L235.3 408.4 L234.8 409.8 L236.2 411.0 L236.2 412.4 L236.3 413.8 L236.2 415.2 L236.5 416.6 L236.9 417.9 L237.0 419.2 L236.2 420.6 L237.8 421.8 L236.5 423.2 L236.8 424.5 L236.9 425.9 L238.0 427.1 L238.0 428.4 L238.0 427.1 L238.6 425.8 L238.4 424.4 L238.0 423.0 L238.5 421.7 L238.6 420.3 L239.1 419.0 L238.4 417.6 L238.8 416.3 L239.8 415.1 L238.8 413.7 L239.3 412.4 L239.1 411.1 L240.4 409.8 L239.4 411.2 L240.1 412.5 L240.5 413.7 L240.0 415.0 L239.8 416.4 L240.4 417.6 L241.0 418.8 L240.6 420.1 L240.6 421.4 L241.3 422.7 L240.7 424.1 L241.3 425.4 L241.8 426.6 L241.9 428.0 L241.5 429.3 L241.9 430.6 L242.0 431.9 L242.2 433.4 L243.8 434.5 L242.8 436.1 L243.7 437.5 L243.3 439.0 L243.1 440.3 L243.6 441.5 L244.5 442.8 L244.2 444.1 L244.1 445.4 L245.0 446.6 L244.8 447.9 L244.2 449.3 L244.4 450.4 L245.9 451.0 L245.7 452.6 L246.6 453.8 L247.1 454.9 L248.0 456.0 L246.9 457.4 L247.3 458.6 L247.6 459.7 L248.6 460.7 L248.1 462.1 L249.7 463.1 L250.1 464.3 L249.7 465.6 L248.6 466.6 L249.5 465.5 L250.1 464.5 L250.3 463.2 L251.8 462.4 L251.0 460.8 L251.6 459.6 L252.7 458.3 L252.3 459.6 L252.0 460.9 L253.5 462.0 L252.8 463.3 L252.8 464.5 L253.1 465.8 L253.2 467.0 L253.4 468.3 L253.2 469.7 L253.3 471.1 L253.6 472.4 L253.8 473.7 L254.3 474.9 L255.0 476.0 L254.9 477.2 L255.6 478.4 L255.4 479.6 L255.3 480.9 L255.4 482.1 L255.1 483.4 L256.0 484.6 L256.0 485.8 L255.5 487.2 L255.5 488.4 L256.0 489.6 L256.3 491.0 L256.4 492.4 L256.8 493.7 L256.6 495.1 L257.1 496.4 L257.1 497.8 L256.9 499.1 L256.8 500.3 L257.6 501.4 L257.7 502.6 L258.3 503.9 L258.7 505.1 L258.7 506.5 L259.3 507.7 L258.9 509.0 L259.4 510.2 L260.0 511.3 L260.2 512.6 L259.1 513.9 L259.5 515.1 L259.5 516.4 L259.9 517.6 L260.0 518.8 L260.0 520.1 L260.3 521.3 L260.0 522.6 L260.4 523.8 L260.4 525.1 L260.9 526.3 L260.5 527.7 L261.5 528.9 L261.6 530.2 L261.2 531.6 L261.4 532.9 L261.8 534.2 L261.6 535.5 L261.9 536.8 L261.1 538.2 L261.5 536.8 L261.8 535.5 L261.7 534.2 L262.4 532.9 L262.5 531.5 L262.0 530.1 L262.0 528.8 L261.8 527.4 L263.3 526.1 L262.4 527.5 L262.5 528.8 L262.0 530.2 L262.5 531.5 L262.1 532.9 L263.0 534.2 L263.7 535.5 L263.6 536.9 L263.5 538.2 L263.8 539.5 L263.7 540.9 L264.5 542.1 L264.1 543.5 L263.8 545.0 L264.1 546.4 L264.9 547.8 L263.9 549.2 L264.5 548.0 L264.2 546.8 L264.0 545.5 L264.9 544.3 L264.1 543.0 L264.9 541.9 L264.4 540.6 L265.4 539.4 L265.2 538.2 L265.4 536.9 L265.8 535.7 L265.7 534.5 L265.8 533.2 L265.8 531.9 L265.7 533.3 L265.6 534.6 L266.7 535.8 L265.9 537.2 L265.7 538.6 L266.6 539.8 L266.3 541.2 L267.5 542.5 L266.9 543.8 L267.4 545.1 L266.7 546.4 L266.3 547.8 L266.8 549.0 L267.1 550.3 L267.6 551.6 L267.5 552.9 L267.2 554.2 L268.0 555.4 L267.8 556.8 L267.6 558.2 L267.9 559.5 L267.8 560.9 L268.2 562.3 L268.6 563.5 L269.0 564.8 L269.6 566.0 L269.4 567.3 L269.9 568.6 L268.9 569.8 L269.9 568.9 L270.0 567.7 L270.0 566.6 L271.1 565.7 L270.0 564.4 L270.3 565.6 L271.0 566.9 L271.1 568.1 L271.1 569.4 L271.5 570.6 L272.2 571.8 L272.0 573.1 L271.6 574.6 L271.7 576.0 L271.6 577.4 L272.2 578.7 L271.2 580.0 L272.8 579.0 L271.9 577.4 L272.5 576.1 L273.2 574.7 L273.1 576.2 L272.7 577.6 L274.1 578.9 L273.1 580.4 L274.2 581.7 L273.8 583.1 L273.0 584.5 L274.1 585.6 L273.8 586.9 L274.5 588.1 L274.7 589.3 L275.4 590.6 L275.1 589.2 L274.8 587.9 L275.5 586.5 L275.6 585.2 L275.1 583.8 L275.0 582.4 L274.9 581.1 L275.2 579.7 L275.7 578.4 L275.4 577.0 L275.2 575.7 L276.0 574.5 L275.8 573.2 L275.7 571.9 L276.4 570.6 L275.7 569.3 L276.1 568.0 L275.9 566.7 L276.9 565.5 L276.4 564.2 L276.7 562.9 L275.4 561.5 L276.2 560.3 L276.1 559.0 L276.0 557.8 L276.5 556.5 L276.0 555.2 L277.1 554.0 L277.2 552.8 L277.1 551.5 L276.8 550.2 L276.4 549.0 L276.2 547.7 L276.8 546.5 L277.2 545.2 L277.3 543.9 L277.6 542.6 L277.7 541.3 L277.2 540.0 L276.8 538.6 L277.2 537.3 L277.1 536.0 L277.3 534.7 L277.1 533.4 L277.5 532.1 L277.7 530.8 L278.0 529.5 L277.8 528.2 L277.6 529.6 L277.8 530.9 L277.7 532.3 L277.8 533.6 L278.5 535.0 L278.1 536.4 L278.5 537.7 L278.6 539.1 L278.8 540.4 L279.0 541.9 L280.2 543.3 L279.8 544.9 L279.0 546.2 L279.2 547.4 L280.6 548.6 L279.7 549.9 L278.5 551.3 L280.1 552.4 L279.7 551.1 L280.3 549.8 L280.3 548.5 L280.0 547.2 L280.2 545.9 L280.3 544.5 L280.2 543.2 L279.8 541.9 L279.7 540.6 L280.5 539.4 L280.4 538.1 L280.9 536.9 L280.1 535.7 L280.2 534.4 L280.4 533.2 L280.4 532.0 L281.6 530.8 L281.1 529.5 L281.2 528.2 L280.8 526.8 L282.0 525.7 L281.2 524.3 L282.0 523.1 L283.1 521.8 L282.4 520.4 L281.9 518.9 L282.4 517.6 L284.1 516.2 L283.9 517.6 L283.0 519.0 L283.3 520.3 L283.7 521.7 L284.2 523.0 L283.5 524.4 L284.0 525.7 L283.7 527.1 L284.4 528.4 L284.6 529.7 L284.8 530.9 L284.7 532.2 L285.3 533.4 L284.5 534.8 L284.8 536.0 L285.1 537.2 L284.4 538.6 L285.3 539.6 L285.7 540.7 L285.5 541.9 L285.5 543.1 L285.9 544.3 L285.1 545.5 L285.2 546.7 L285.7 547.9 L286.3 549.1 L285.6 550.4 L286.6 551.7 L286.8 553.1 L286.2 554.6 L286.3 556.0 L286.2 557.3 L286.9 558.5 L287.1 559.8 L287.6 561.1 L288.4 562.3 L287.0 563.9 L288.4 565.1 L288.1 566.6 L288.4 567.9 L287.8 569.4 L287.9 570.6 L288.2 571.8 L288.5 573.0 L288.4 574.2 L288.3 575.5 L288.2 576.7 L288.9 577.9 L288.6 579.1 L288.5 577.7 L288.8 576.4 L289.9 575.3 L290.0 573.9 L288.8 572.7 L289.2 574.1 L289.9 575.4 L290.6 576.8 L289.7 578.2 L290.6 579.5 L290.6 580.8 L290.1 582.1 L290.1 583.4 L291.3 584.5 L292.2 585.9 L291.8 584.6 L291.2 583.4 L291.2 582.2 L291.0 580.9 L291.9 579.8 L292.2 578.6 L292.2 577.4 L292.0 576.1 L292.7 574.9 L293.3 573.7 L292.2 572.4 L292.4 571.1 L291.7 569.8 L292.8 568.7 L293.1 567.6 L293.8 566.5 L293.2 565.2 L293.9 564.1 L294.3 562.7 L294.0 561.3 L293.9 559.9 L293.1 558.4 L293.6 556.9 L294.2 556.7 L295.0 556.9 L295.6 558.2 L295.3 559.8 L296.7 561.0 L297.0 562.2 L296.3 563.5 L296.3 564.7 L296.3 566.0 L296.3 567.2 L296.5 568.4 L297.5 569.2 L298.4 570.6 L297.7 572.3 L297.5 570.9 L298.1 569.6 L298.6 568.3 L297.7 566.9 L298.5 565.6 L298.2 564.2 L298.6 562.9 L298.8 560.8 L298.5 561.3 L299.5 560.4 L299.7 559.2 L300.5 558.0 L300.4 556.8 L300.7 555.6 L300.3 554.3 L300.1 553.0 L300.4 551.8 L300.5 550.6 L300.7 549.4 L301.3 548.2 L300.0 546.7 L300.8 545.4 L301.1 544.1 L300.8 542.8 L301.6 541.5 L301.7 540.1 L301.9 538.8 L302.4 537.5 L302.8 536.2 L303.1 534.9 L302.2 533.5 L302.0 532.2 L302.4 530.9 L303.2 529.6 L303.0 528.3 L303.3 526.9 L303.3 525.7 L303.5 524.4 L303.2 523.1 L303.1 521.8 L303.3 520.5 L302.6 519.2 L303.5 517.9 L303.1 516.5 L303.3 515.2 L303.0 513.8 L303.7 512.5 L304.0 511.2 L303.2 509.8 L304.0 508.4 L304.5 507.1 L304.3 508.4 L304.4 509.7 L304.5 511.0 L304.4 512.3 L304.3 513.6 L303.9 514.9 L304.4 516.2 L304.1 517.5 L303.2 518.9 L304.5 520.1 L304.5 521.5 L304.2 522.8 L304.4 524.1 L304.1 525.4 L305.2 526.7 L305.3 528.0 L305.2 529.3 L304.9 530.6 L305.4 531.9 L304.6 533.2 L304.8 534.5 L304.3 533.2 L305.6 532.1 L305.1 530.8 L305.2 529.6 L305.3 528.3 L306.4 527.2 L305.3 525.9 L305.7 524.6 L305.4 523.3 L305.5 521.9 L305.9 520.6 L305.7 519.3 L306.1 518.0 L306.1 516.6 L306.3 515.3 L306.2 514.0 L306.6 515.2 L306.5 516.5 L307.0 517.7 L306.4 519.0 L306.0 520.3 L306.1 521.5 L307.1 522.7 L306.5 524.0 L306.7 525.3 L307.5 526.5 L307.7 527.8 L308.0 526.5 L308.0 525.2 L307.7 523.9 L307.2 522.6 L308.0 521.4 L307.2 520.1 L308.3 518.8 L307.6 517.5 L308.1 516.3 L307.8 515.0 L307.7 513.7 L308.1 512.4 L307.4 511.1 L307.6 509.9 L307.9 508.6 L307.8 507.3 L308.0 506.0 L307.9 504.8 L308.6 506.0 L308.1 507.3 L308.2 508.6 L307.7 510.0 L307.9 511.3 L308.4 512.7 L309.0 514.1 L309.6 515.5 L309.9 514.3 L309.3 513.0 L309.4 511.7 L309.3 510.5 L310.4 509.3 L309.9 508.0 L309.8 506.8 L310.1 505.6 L309.9 504.4 L309.6 503.1 L309.6 501.9 L310.6 500.7 L309.9 499.4 L310.2 498.0 L310.8 496.8 L310.0 495.4 L310.4 494.1 L311.9 492.8 L312.1 491.6 L311.4 490.3 L311.8 489.1 L311.8 487.9 L311.5 486.6 L311.6 485.3 L312.0 484.7 L311.7 486.0 L311.8 487.4 L312.8 488.6 L312.0 490.0 L312.1 491.3 L312.8 492.6 L313.0 493.9 L313.1 495.2 L312.3 496.6 L312.5 497.9 L313.0 499.2 L313.2 500.5 L312.2 501.9 L313.1 503.1 L314.2 501.9 L314.2 500.5 L313.4 499.2 L313.3 497.9 L313.1 496.5 L313.4 495.2 L313.4 493.9 L313.2 492.5 L313.8 491.3 L313.2 489.9 L313.8 488.6 L313.5 487.3 L313.8 485.9 L313.6 484.6 L314.2 483.3 L314.1 482.0 L313.6 480.6 L314.1 479.3 L313.6 478.0 L314.4 476.7 L314.7 475.4 L314.7 474.1 L314.2 472.7 L314.7 471.4 L314.8 470.1 L314.7 468.8 L315.5 467.5 L314.5 466.1 L315.0 464.8 L314.8 463.5 L314.3 462.2 L314.9 460.9 L315.4 459.6 L314.7 458.2 L315.0 456.9 L315.5 455.6 L315.9 454.3 L315.9 452.9 L315.9 451.6 L315.4 450.2 L315.8 448.8 L315.1 447.4 L314.9 446.0 L316.3 444.7 L315.6 443.3 L316.5 441.9 L316.8 443.3 L317.5 444.6 L316.4 445.9 L316.7 447.3 L316.7 448.6 L316.9 449.9 L316.7 451.3 L317.4 452.6 L317.0 453.9 L316.8 455.3 L317.5 456.6 L316.6 457.9 L317.0 459.3 L316.5 460.6 L316.4 461.9 L316.4 463.2 L317.1 464.4 L317.3 465.7 L318.6 466.9 L317.9 468.2 L317.6 469.5 L317.6 470.8 L318.2 472.1 L317.0 473.4 L317.5 474.7 L317.7 476.0 L318.4 477.2 L318.3 478.5 L317.6 479.8 L318.0 481.1 L318.3 482.4 L318.6 483.6 L318.5 484.9 L318.5 486.2 L318.9 487.5 L317.8 488.8 L318.4 490.1 L319.3 491.6 L318.6 490.0 L320.2 489.4 L320.1 488.2 L320.1 487.1 L320.1 486.1 L320.3 484.8 L321.3 483.5 L320.5 482.1 L320.7 480.8 L320.8 479.5 L321.3 478.1 L320.7 476.8 L320.3 475.5 L320.3 474.1 L320.8 472.8 L320.7 471.5 L321.5 470.2 L320.8 468.8 L321.1 467.5 L321.4 466.3 L322.2 465.1 L321.8 463.8 L322.0 462.5 L321.0 461.2 L322.0 459.9 L321.5 458.6 L322.2 457.4 L321.6 456.1 L321.3 454.8 L321.8 453.5 L321.7 452.3 L322.7 451.1 L322.6 449.8 L322.2 448.5 L322.1 447.3 L322.2 446.0 L322.0 444.8 L322.6 443.6 L323.2 442.4 L322.9 441.1 L322.9 439.9 L323.3 438.6 L324.0 437.3 L324.3 436.0 L323.8 434.6 L324.0 433.2 L323.1 431.8 L323.5 430.5 L324.3 429.2 L324.1 427.8 L324.2 426.4 L324.6 425.2 L324.8 424.0 L324.7 422.7 L325.0 421.5 L324.7 420.2 L325.6 419.0 L324.6 417.6 L325.2 416.4 L325.6 415.3 L325.7 414.0 L326.2 412.9 L326.4 411.6 L326.3 410.4 L327.1 409.2 L326.6 407.8 L326.5 406.4 L326.8 405.0 L326.7 403.6 L327.2 402.3 L327.6 400.9 L327.5 399.5 L327.9 398.2 L327.8 396.8 L328.1 395.5 L328.8 394.2 L328.3 392.7 L328.9 391.4 L328.3 390.0 L329.2 388.7 L329.9 387.4 L329.3 385.9 L329.0 384.5 L329.7 385.8 L329.5 387.1 L329.9 388.4 L329.6 389.8 L328.9 391.2 L330.0 392.4 L329.6 393.8 L330.0 395.1 L329.4 396.5 L330.0 397.7 L329.8 399.0 L330.9 400.2 L330.7 401.5 L330.6 402.8 L330.9 404.0 L330.7 405.3 L330.8 406.6 L330.2 407.9 L330.0 409.2 L330.5 410.5 L330.1 411.8 L330.8 413.1 L331.2 414.4 L331.0 415.7 L331.0 417.0 L331.4 418.3 L331.4 419.6 L331.6 420.9 L331.7 422.1 L331.3 423.5 L331.6 424.8 L331.8 426.1 L331.7 427.4 L332.4 428.6 L331.1 430.0 L331.5 431.3 L331.7 432.6 L332.7 433.8 L331.0 435.0 L331.9 433.9 L332.1 432.7 L332.9 431.7 L332.8 430.4 L332.7 429.0 L333.2 427.7 L333.7 426.3 L333.6 424.9 L333.2 423.5 L333.7 422.1 L334.4 420.7 L335.1 422.0 L334.5 423.5 L334.8 424.8 L335.4 426.1 L335.1 427.6 L335.8 428.7 L335.5 430.0 L335.9 431.1 L336.3 432.3 L336.1 433.6 L336.1 434.8 L336.9 433.6 L336.6 432.2 L336.6 430.9 L337.2 429.7 L337.2 428.4 L336.4 427.0 L336.6 425.7 L337.7 424.5 L337.9 423.1 L337.8 421.7 L338.0 420.4 L338.3 419.1 L338.2 417.8 L338.9 416.6 L339.1 415.4 L339.8 414.4 L341.4 413.4 L341.8 411.4 L342.1 410.2 L342.2 409.0 L343.7 408.1 L342.8 406.6 L343.8 406.1 L343.8 405.0 L343.3 406.4 L344.3 407.6 L344.3 408.9 L344.8 410.2 L344.9 411.5 L345.5 412.7 L345.0 414.1 L344.6 415.4 L345.8 416.5 L346.4 418.1 L347.4 416.9 L347.4 415.7 L347.6 414.5 L347.9 413.3 L347.7 412.1 L348.4 411.0 L348.2 409.7 L347.8 408.4 L348.1 407.0 L349.4 405.8 L350.1 404.5 L350.0 403.0 L349.0 401.4 L349.3 400.2 L349.4 399.0 L349.5 397.8 L350.0 396.7 L350.0 395.4 L349.2 394.1 L349.8 393.0 L350.1 391.8 L350.5 390.6 L350.6 389.3 L350.3 388.0 L351.5 386.9 L351.6 385.7 L351.9 384.5 L351.3 383.1 L351.6 381.9 L351.5 380.7 L351.7 379.4 L351.7 378.2 L352.0 377.0 L352.8 375.8 L352.2 374.4 L352.6 373.3 L353.1 372.2 L353.5 371.0 L354.0 369.6 L355.3 370.7 L354.6 372.1 L355.0 373.3 L355.5 374.5 L355.3 375.8 L356.7 376.9 L356.8 378.3 L356.2 379.8 L356.6 381.2 L356.9 382.5 L357.6 383.9 L357.8 385.1 L357.5 386.4 L358.4 387.6 L357.7 389.0 L358.0 390.2 L358.7 391.3 L358.5 392.8 L358.6 394.1 L359.8 395.3 L358.7 396.9 L359.2 398.3 L360.5 399.5 L359.8 401.1 L360.3 402.4 L361.0 403.6 L360.5 405.0 L360.5 406.3 L361.2 407.5 L361.3 408.7 L361.4 410.0 L362.1 411.2 L362.1 412.5 L362.1 413.8 L362.6 415.0 L361.5 416.5 L362.5 417.6 L362.5 418.9 L362.7 420.2 L363.2 421.4 L364.1 422.6 L363.8 424.0 L364.3 425.3 L365.0 426.7 L365.2 428.1 L364.9 429.6 L366.3 430.5 L365.6 432.0 L366.0 430.7 L365.6 429.4 L366.1 428.1 L366.4 426.8 L367.3 425.7 L367.0 424.2 L367.7 423.1 L368.2 422.1 L367.5 419.9 L369.5 419.3 L370.6 418.4 L370.2 417.0 L370.6 416.3 L371.2 415.0 L372.0 413.8 L372.4 412.5 L372.5 411.1 L372.6 409.8 L373.0 408.5 L372.2 406.9 L372.4 405.6 L374.1 404.6 L373.1 403.0 L375.0 402.3 L374.9 400.9 L375.4 399.6 L376.1 398.2 L375.8 396.6 L376.1 395.3 L376.0 394.0 L376.3 392.6 L375.8 391.2 L376.7 390.0 L376.1 388.6 L376.3 387.2 L376.6 385.8 L376.8 384.5 L376.8 383.0 L377.1 381.6 L378.5 380.7 L378.7 379.4 L379.0 378.2 L378.5 376.8 L379.1 375.6 L379.2 374.2 L380.1 373.0 L380.5 371.8 L380.7 370.4 L380.8 369.1 L380.8 367.9 L381.7 367.0 L382.1 365.9 L382.3 364.7 L383.1 363.6 L382.7 362.3 L383.8 361.2 L383.7 360.0 L383.5 358.7 L384.0 357.6 L383.7 356.3 L385.0 355.2 L385.7 354.1 L385.0 352.8 L385.4 351.5 L384.7 350.1 L385.3 348.8 L385.1 347.5 L385.6 346.3 L386.0 345.1 L386.0 343.8 L386.4 342.6 L386.1 341.3 L385.8 340.1 L386.3 338.9 L387.3 337.8 L386.1 336.4 L387.4 335.3 L387.2 334.0 L386.5 332.6 L387.6 331.5 L386.7 330.1 L386.7 328.8 L386.8 327.6 L387.4 326.3 L387.5 325.1 L388.0 323.8 L387.6 322.5 L387.4 321.3 L387.7 322.5 L387.2 323.8 L387.6 324.9 L387.9 326.1 L388.0 327.3 L387.9 328.6 L388.0 329.8 L388.2 331.0 L389.5 332.0 L389.5 333.2 L389.7 334.4 L390.5 335.5 L389.7 336.8 L390.2 335.5 L390.8 334.2 L390.5 332.8 L390.2 331.4 L390.6 330.1 L391.1 328.7 L389.8 327.3 L389.8 325.9 L390.9 324.6 L391.0 323.4 L391.2 322.2 L391.2 320.9 L392.1 319.8 L392.5 318.6 L392.2 317.3 L392.2 316.1 L392.5 315.0 L392.1 313.7 L393.3 312.9 L394.0 311.5 L394.1 310.2 L393.8 308.9 L394.1 307.7 L394.7 306.6 L394.8 305.4 L395.4 304.3 L395.6 303.3 L395.4 304.7 L395.5 306.0 L395.5 307.3 L396.4 308.5 L396.6 309.7 L396.2 311.1 L396.8 312.3 L397.9 313.4 L397.2 314.8 L397.2 316.1 L398.1 317.2 L397.9 318.7 L397.9 320.1 L398.0 321.6 L398.0 323.0 L398.7 324.1 L399.0 325.2 L399.5 326.3 L399.3 327.6 L399.5 328.7 L399.6 329.9 L399.6 331.1 L400.6 332.1 L400.6 333.3 L400.8 334.5 L401.8 335.2 L402.4 336.3 L402.2 337.8 L402.0 339.2 L403.5 340.2 L404.1 341.6 L404.2 342.8 L405.2 343.2 L405.9 343.5 L406.9 342.3 L407.5 341.0 L407.9 340.0 L408.0 339.2 L409.0 340.3 L409.1 341.6 L409.1 342.9 L410.2 344.1 L410.0 345.6 L410.4 346.9 L410.6 348.3 L411.6 349.6 L411.8 350.8 L411.6 352.1 L411.3 353.5 L411.8 354.7 L412.2 355.9 L412.5 357.3 L411.7 358.7 L411.9 360.1 L412.1 361.5 L412.8 362.8 L413.0 364.1 L413.0 365.5 L413.0 367.5 L413.9 366.6 L414.9 367.5 L416.5 367.0 L416.3 368.2 L416.7 369.4 L416.6 370.6 L416.4 371.8 L416.7 373.0 L415.5 374.1 L416.0 372.8 L416.4 371.5 L416.8 370.2 L417.0 368.9 L417.4 367.6 L416.9 366.2 L416.5 364.8 L417.9 364.1 L419.0 363.2 L419.5 361.9 L419.1 360.4 L419.0 358.9 L419.2 357.5 L419.6 356.1 L420.2 354.8 L420.4 353.4 L419.9 352.1 L421.2 351.2 L420.9 350.0 L421.2 348.8 L422.2 347.6 L423.4 346.3 L423.5 344.8 L423.6 343.4 L422.9 342.1 L423.9 343.1 L423.5 344.5 L424.9 345.3 L425.5 346.3 L425.6 347.5 L425.5 349.0 L426.9 349.6 L428.1 351.0 L429.5 352.1 L428.7 353.8 L429.7 354.9 L430.4 356.0 L431.8 357.2 L431.8 358.5 L432.1 359.7 L433.1 360.9 L432.0 362.3 L432.2 363.6 L432.6 364.9 L433.7 366.1 L432.5 367.5 L433.2 368.8 L433.5 370.1 L433.7 371.4 L433.8 372.6 L434.0 373.8 L434.2 375.0 L434.7 376.2 L436.2 375.2 L436.7 376.3 L437.2 377.6 L437.5 376.4 L437.5 375.1 L438.3 373.6 L438.2 374.7 L439.2 374.0 L440.3 373.0 L440.0 374.4 L440.3 373.1 L440.4 371.8 L440.6 370.4 L440.9 369.1 L441.2 367.7 L441.7 366.5 L441.9 365.1 L440.7 364.3 L442.2 364.9 L442.6 365.8 L442.9 366.9 L442.7 368.1 L443.2 369.1 L444.1 367.9 L443.7 366.4 L443.9 365.1 L443.8 363.7 L443.7 362.3 L443.9 361.0 L443.5 359.7 L444.9 358.7 L445.1 357.5 L444.6 356.2 L445.1 355.1 L445.2 353.9 L445.5 355.6 L445.3 357.0 L445.7 358.3 L445.1 359.7 L446.0 360.9 L446.7 362.2 L447.0 363.5 L447.3 365.4 L447.5 363.7 L448.9 362.1 L449.3 363.1 L450.3 362.8 L450.4 364.2 L450.2 365.6 L450.0 366.9 L450.0 368.5 L451.3 368.1 L452.2 369.1 L452.0 370.4 L452.2 371.6 L452.6 370.4 L452.4 369.0 L452.3 367.6 L452.7 366.4 L453.6 365.2 L454.1 364.1 L454.6 362.9 L453.9 361.5 L453.9 360.3 L454.0 359.1 L454.9 358.0 L454.5 356.7 L454.8 355.5 L455.0 354.7 L456.7 355.4 L456.5 356.8 L457.8 357.8 L457.7 359.2 L458.7 360.0 L458.6 361.2 L458.9 362.2 L459.0 363.7 L459.2 365.1 L460.4 366.1 L460.3 367.5 L460.9 368.7 L461.6 367.3 L462.1 365.8 L461.8 364.5 L462.6 363.6 L462.7 362.4 L463.7 361.3 L464.1 360.0 L464.0 358.6 L465.3 357.3 L466.1 358.7 L466.3 357.1 L467.3 355.8 L467.1 357.4 L468.8 358.6 L468.9 357.2 L469.7 356.0 L470.6 357.0 L470.7 358.4 L470.9 357.1 L472.0 356.1 L471.9 354.7 L472.2 353.6 L472.7 352.5 L472.9 351.3 L472.4 349.9 L472.6 348.7 L473.1 347.5 L473.8 346.5 L474.0 345.3 L474.3 344.2 L474.3 343.1 L474.9 342.0 L475.3 340.5 L476.1 339.5 L476.8 339.3 L477.7 340.2 L477.6 341.8 L479.3 342.4 L480.7 341.5 L481.4 340.3 L481.8 339.0 L482.1 338.0 L482.9 337.2 L482.6 335.6 L483.0 334.4 L483.7 333.5 L484.0 332.3 L484.8 331.3 L486.0 331.4 L486.9 329.9 L488.2 329.6 L488.4 331.0 L489.3 332.2 L489.6 333.6 L490.2 335.5 L490.9 335.1 L491.9 336.2 L492.9 337.1 L494.2 338.5 L494.3 339.9 L494.4 341.3 L494.9 342.6 L494.7 344.1 L495.9 344.4 L497.5 343.9 L497.3 342.1 L497.9 340.7 L499.0 341.2 L500.0 340.3 L500.2 339.2 L500.3 338.1 L500.9 337.2 L501.7 336.3 L501.7 335.0 L501.5 333.7 L502.1 332.6 L502.9 331.3 L503.2 329.7 L504.8 328.9 L505.6 327.8 L506.0 327.1 L506.5 325.9 L507.2 324.7 L507.2 323.4 L507.9 322.2 L507.8 320.9 L508.6 320.2 L508.8 319.4 L510.0 320.2 L511.4 320.0 L512.2 319.2 L512.1 318.1 L513.0 318.1 L513.5 316.6 L514.2 315.3 L514.4 313.7 L515.4 312.5 L516.1 311.5 L516.1 310.4 L515.6 308.9 L516.6 307.8 L517.3 306.6 L517.1 306.0 L518.8 306.4 L520.7 306.2 L520.6 304.6 L522.0 305.0 L522.7 304.0 L523.1 302.9 L523.4 301.8 L523.8 300.9 L524.6 299.5 L525.6 301.2 L526.5 299.7 L526.3 301.2 L527.1 302.5 L527.1 303.2 L528.6 303.1 L529.7 302.4 L531.1 302.1 L531.3 303.1 L532.5 302.4 L532.6 301.2 L533.4 300.3 L532.4 298.8 L533.4 297.7 L533.3 296.4 L533.9 295.2 L534.5 294.3 L535.5 292.6 L536.1 291.4 L536.9 290.2 L536.0 288.6 L536.3 287.5 L537.8 287.4 L538.0 286.0 L538.3 284.7 L538.4 283.4 L540.2 283.3 L541.0 285.3 L541.2 283.9 L542.1 282.2 L542.9 283.9 L543.1 285.4 L543.7 286.7 L544.5 288.1 L545.0 289.5 L545.9 289.3 L545.6 287.7 L547.4 286.9 L548.0 287.9 L548.0 289.1 L548.3 290.2 L548.6 291.4 L549.3 292.5 L549.1 293.8 L548.6 295.0 L548.9 295.7 L550.6 295.2 L550.8 294.2 L551.6 293.1 L551.4 291.8 L552.2 290.7 L552.4 289.3 L553.0 288.3 L553.2 287.2 L554.0 286.3 L553.7 285.1 L554.7 284.2 L556.1 283.2 L556.1 284.4 L555.9 285.7 L557.1 286.4 L558.0 285.7 L558.2 284.5 L558.5 285.9 L558.6 287.0 L559.5 285.7 L560.1 284.2 L560.8 282.4 L562.4 282.6 L563.6 281.2 L564.2 280.0 L564.3 278.7 L564.2 277.0 L566.1 275.7 L566.9 276.8 L568.0 276.0 L568.3 275.0 L568.9 273.5 L569.6 274.4 L570.1 275.3 L571.8 276.1 L571.1 277.9 L572.9 278.8 L573.0 277.7 L573.3 276.5 L573.2 275.3 L573.8 274.2 L574.1 272.8 L573.8 271.3 L574.6 270.1 L574.6 268.9 L575.6 268.5 L576.7 267.4 L576.9 266.7 L578.1 265.7 L578.1 264.3 L578.8 263.2 L579.6 264.0 L579.8 264.8 L581.1 264.5 L582.0 265.9 L583.9 264.7 L583.8 266.4 L584.3 267.8 L585.4 266.7 L585.3 265.3 L586.0 264.2 L586.7 263.1 L586.3 261.7 L586.8 260.7 L587.0 259.7 L587.9 258.6 L588.4 257.5 L588.4 256.2 L588.5 254.7 L589.9 253.8 L590.2 252.4 L591.9 251.6 L592.0 250.3 L592.0 248.6 L593.7 248.9 L593.3 247.4 L594.3 246.6 L595.5 247.6 L594.9 246.3 L595.8 245.2 L595.8 244.0 L597.0 243.1 L597.7 241.8 L597.7 240.3 L598.4 238.5 L598.4 237.3 L598.5 236.0 L599.0 234.9 L599.2 233.6 L600.0 232.5 L600.4 231.3 L599.5 229.9 L600.8 228.8 L600.6 227.5 L601.0 226.3 L600.9 224.7 L601.4 223.4 L602.7 222.5 L602.9 221.3 L602.5 220.0 L602.8 218.9 L602.8 220.3 L603.1 221.6 L604.3 222.8 L604.1 224.4 L604.8 224.0 L605.7 223.2 L606.8 222.5 L607.2 221.3 L607.3 219.9 L608.6 219.9 L608.9 221.2 L609.2 222.3 L609.6 221.3 L609.6 220.1 L610.6 219.3 L611.4 218.3 L611.9 216.7 L612.5 217.3 L613.1 216.6 L613.6 216.1 L614.4 217.1 L614.8 218.3 L614.8 219.7 L615.6 220.9 L615.9 222.2 L616.2 223.2 L617.4 223.8 L617.7 225.4 L618.1 226.9 L618.0 228.3 L619.6 229.7 L620.7 228.8 L621.4 227.3 L621.3 225.9 L621.6 227.1 L623.0 228.2 L623.5 226.3 L624.8 225.4 L625.3 225.6 L627.0 226.5 L628.1 226.2 L629.1 226.8 L629.8 226.1 L631.6 225.8 L632.2 226.6 L633.6 225.5 L633.5 224.1 L634.3 222.8 L634.4 221.5 L634.3 219.9 L635.4 219.4 L635.8 218.1 L636.8 218.1 L638.2 217.7 L639.5 219.1 L640.5 218.0 L640.6 216.6 L641.4 215.7 L641.5 214.4 L642.1 213.3 L641.9 211.7 L642.4 210.5 L643.4 210.1 L644.7 210.2 L645.8 211.6 L646.0 210.1 L646.7 208.7 L647.8 207.5 L649.0 207.8 L650.1 208.4 L650.5 209.4 L650.7 210.5 L651.1 211.5 L652.2 212.9 L653.6 213.2 L654.2 211.4 L654.9 209.5 L654.8 208.3 L655.8 207.5 L655.9 206.3 L657.7 205.0 L658.0 206.8 L659.5 206.5 L660.1 207.7 L659.7 209.2 L660.0 210.4 L660.8 211.3 L662.2 210.0 L662.5 211.1 L662.1 212.4 L663.2 213.1 L664.6 214.2 L664.7 215.6 L665.1 216.9 L665.5 218.2 L665.6 219.5 L665.9 221.1 L666.3 222.7 L666.8 223.9 L667.6 225.2 L667.5 226.5 L667.6 227.8 L668.4 228.8 L668.6 229.5 L669.3 230.0 L670.5 228.9 L669.7 227.5 L670.9 226.4 L670.9 225.2 L670.6 223.9 L670.4 222.6 L670.2 221.4 L670.6 220.2 L671.4 221.3 L671.5 222.6 L671.7 223.8 L671.7 225.2 L672.0 226.6 L672.7 227.8 L672.8 229.3 L673.1 230.7 L673.7 232.5 L675.2 232.7 L675.9 231.4 L676.0 230.2 L676.9 231.0 L676.9 232.2 L678.0 233.0 L678.2 234.1 L678.2 235.5 L679.5 236.5 L679.5 238.1 L680.6 239.3 L680.4 240.8 L680.7 242.0 L681.0 243.2 L682.1 244.3 L681.7 245.6 L682.0 246.8 L682.0 248.3 L682.2 249.6 L682.4 251.0 L683.0 252.0 L684.3 253.0 L684.1 254.4 L684.6 255.7 L684.4 257.1 L684.0 258.5 L684.3 259.8 L685.3 261.2 L685.6 260.1 L685.7 258.9 L686.7 257.9 L686.5 256.6 L686.4 255.4 L686.4 254.2 L686.7 253.0 L687.3 254.3 L687.4 255.7 L688.4 256.8 L687.9 258.1 L688.6 259.3 L687.9 260.6 L688.2 261.8 L689.2 262.8 L689.5 264.3 L689.7 265.8 L689.8 267.2 L690.6 268.4 L690.6 269.8 L690.3 268.4 L691.5 267.4 L691.5 266.1 L691.5 264.8 L691.0 263.5 L690.6 262.2 L692.1 261.3 L692.5 260.2 L692.7 258.9 L693.5 257.6 L692.8 256.3 L693.1 255.0 L693.6 253.8 L693.2 252.4 L693.6 251.2 L693.4 249.9 L693.3 248.6 L693.3 247.3 L693.6 246.0 L693.2 244.7 L693.7 243.4 L693.2 242.1 L693.9 240.9 L694.1 239.5 L694.0 238.0 L694.8 236.7 L694.8 235.3 L694.6 233.8 L694.3 232.4 L694.4 231.1 L694.9 229.8 L694.7 228.6 L695.1 229.8 L695.4 231.0 L695.7 232.2 L696.0 233.4 L695.8 234.7 L695.3 236.0 L695.8 237.4 L696.0 238.7 L696.0 240.1 L696.9 241.4 L697.2 242.8 L697.5 243.9 L697.1 245.2 L697.8 246.3 L697.6 247.6 L697.6 249.1 L699.0 249.3 L698.8 250.3 L698.8 251.7 L699.9 253.0 L699.7 254.3 L699.8 255.7 L698.7 257.1 L699.5 258.4 L700.3 259.7 L700.7 261.0 L700.7 262.4 L700.6 263.8 L700.9 265.1 L701.3 266.5 L700.9 265.2 L700.9 263.9 L701.0 262.6 L701.3 261.3 L701.7 260.0 L701.7 258.7 L701.2 257.3 L701.5 256.0 L700.8 254.5 L700.6 253.1 L701.3 251.8 L701.7 250.4 L702.9 249.1 L702.4 247.7 L703.4 248.7 L703.4 249.9 L702.9 251.2 L703.2 252.4 L703.2 253.6 L704.1 254.8 L703.9 256.3 L704.2 257.7 L705.3 259.0 L704.6 260.4 L705.5 261.6 L704.7 263.0 L704.8 264.3 L705.7 265.6 L705.9 266.9 L705.4 268.2 L706.1 269.5 L705.5 270.9 L705.7 272.2 L705.5 273.6 L706.1 274.9 L706.4 276.3 L705.6 277.7 L706.7 279.0 L706.1 280.4 L706.2 281.7 L705.4 283.1 L706.9 284.5 L706.6 283.0 L707.3 281.7 L707.1 280.2 L706.9 278.8 L706.6 277.3 L707.3 276.2 L707.0 274.9 L707.1 273.7 L707.6 272.5 L707.8 271.3 L707.8 270.0 L708.1 268.9 L708.2 270.2 L708.9 271.4 L709.1 272.7 L708.9 274.0 L709.5 275.3 L710.1 276.4 L709.5 277.9 L710.1 279.1 L710.0 280.5 L710.4 281.7 L711.4 282.7 L711.7 283.9 L712.6 285.2 L712.1 286.7 L712.5 288.0 L712.7 289.4 L713.0 290.7 L713.0 292.1 L713.1 293.4 L713.6 294.7 L713.3 296.0 L714.2 297.3 L713.7 298.7 L714.2 300.0 L714.0 301.3 L714.2 302.6 L714.1 304.0 L713.8 305.4 L714.6 306.6 L714.7 307.9 L715.1 309.1 L714.6 310.5 L714.6 311.7 L715.5 312.8 L715.1 314.1 L715.5 315.3 L715.3 316.6 L716.0 317.8 L715.9 319.0 L715.7 320.3 L715.8 321.5 L716.3 322.7 L716.4 324.0 L717.2 325.2 L717.3 326.6 L717.2 327.9 L717.7 329.2 L718.2 330.5 L717.4 332.0 L717.5 333.4 L718.0 334.5 L718.4 335.6 L718.8 336.8 L718.6 338.1 L719.2 339.2 L718.4 337.9 L718.9 336.7 L718.3 335.4 L719.5 334.1 L719.2 332.8 L720.3 331.6 L719.4 330.3 L719.3 329.0 L719.4 327.7 L719.2 326.4 L718.9 325.1 L719.5 323.8 L719.4 322.5 L719.0 321.2 L719.8 320.0 L720.0 318.7 L719.4 317.4 L719.5 316.1 L720.3 314.8 L719.9 313.5 L719.4 312.2 L720.1 311.0 L720.4 309.7 L720.3 308.4 L720.1 307.1 L720.0 305.8 L720.0 304.5 L720.6 303.3 L719.6 301.8 L720.2 300.9 L720.3 299.7 L721.3 298.8 L720.9 297.4 L720.8 296.0 L721.1 294.7 L722.7 293.6 L722.9 294.9 L722.9 296.3 L722.9 297.7 L722.9 299.0 L722.8 300.4 L722.5 301.8 L722.3 303.2 L722.8 304.5 L723.0 305.8 L723.6 307.1 L723.2 308.4 L723.7 309.7 L724.2 311.0 L723.7 312.4 L724.4 313.7 L723.7 315.0 L723.8 316.3 L724.3 317.7 L724.0 316.3 L724.3 315.0 L724.6 313.7 L724.7 312.3 L724.8 311.0 L725.3 309.7 L725.6 308.5 L726.2 307.3 L726.2 306.1 L725.6 304.8 L726.3 303.6 L726.3 302.4 L726.4 301.1 L726.6 299.8 L726.6 298.5 L726.0 297.1 L726.5 295.9 L726.3 294.5 L726.2 293.2 L726.6 291.9 L727.2 290.7 L727.4 289.3 L727.4 287.9 L727.8 286.6 L728.1 285.2 L727.8 283.8 L727.4 282.4 L727.4 281.0 L727.4 282.3 L727.4 283.5 L727.9 284.7 L728.0 286.0 L728.6 287.2 L728.8 288.4 L728.8 289.7 L728.5 291.0 L728.8 292.2 L729.1 293.5 L728.7 294.9 L728.7 296.3 L728.4 297.7 L728.6 299.0 L729.3 300.3 L729.7 301.6 L728.9 303.0 L730.1 304.3 L729.7 303.0 L729.8 301.7 L730.2 300.3 L729.8 299.0 L730.5 297.7 L730.5 296.4 L730.3 295.0 L729.9 293.7 L730.6 292.4 L730.3 291.0 L730.1 289.7 L730.6 288.4 L730.7 287.1 L730.3 285.7 L731.2 284.4 L731.0 283.1 L730.4 281.7 L731.1 280.4 L730.2 279.1 L730.7 280.4 L730.3 281.8 L731.3 283.1 L731.4 284.4 L731.3 285.7 L732.0 287.0 L731.2 288.4 L731.9 289.7 L731.6 291.0 L732.1 292.3 L731.7 293.7 L731.9 295.0 L731.8 296.3 L731.3 297.6 L732.9 298.8 L732.3 300.1 L732.5 301.4 L732.4 302.7 L731.5 304.0 L733.2 305.2 L732.2 306.6 L731.8 307.9 L732.5 309.1 L732.8 310.4 L732.3 311.7 L732.5 310.4 L732.5 309.1 L731.9 307.8 L732.4 306.5 L732.4 305.2 L732.5 303.9 L732.7 302.6 L732.5 301.3 L733.3 300.0 L733.1 298.7 L733.5 297.5 L733.3 296.1 L733.0 294.8 L733.6 293.6 L733.1 292.2 L733.7 291.0 L733.8 289.7 L733.9 288.4 L732.9 287.0 L733.3 285.8 L733.2 284.5 L733.6 283.1 L734.6 284.6 L734.6 286.2 L735.3 287.3 L735.0 288.7 L735.7 290.1 L735.8 291.4 L736.2 292.8 L735.7 294.2 L736.0 295.5 L736.5 296.8 L736.2 298.2 L736.2 299.6 L736.1 300.9 L736.4 302.3 L737.0 303.6 L736.6 305.0 L736.8 306.3 L737.3 307.7 L737.0 309.0 L737.4 310.4 L737.2 311.7 L737.0 313.1 L738.5 314.4 L737.8 315.7 L736.7 317.1 L737.2 318.5 L736.6 319.8 L736.9 321.2 L737.2 322.5 L737.4 323.8 L737.3 325.2 L737.6 326.5 L738.3 327.8 L737.4 329.2 L737.1 330.5 L737.9 331.8 L738.5 333.1 L737.5 334.5 L737.0 335.8 L738.1 337.1 L738.4 338.4 L738.2 339.7 L738.1 341.0 L738.3 342.3 L737.6 343.6 L738.8 344.9 L739.0 346.2 L739.3 347.5 L739.5 348.8 L739.1 350.1 L738.5 348.8 L739.5 347.5 L738.2 346.1 L739.2 344.8 L738.7 343.5 L739.5 342.2 L738.9 340.9 L739.1 339.5 L739.1 338.2 L738.6 336.9 L739.0 335.6 L738.4 334.2 L738.9 332.9 L739.5 331.6 L739.5 330.3 L739.0 329.0 L739.6 327.7 L740.0 326.3 L739.7 325.1 L739.9 323.8 L740.1 322.5 L739.9 321.3 L740.7 320.0 L740.4 318.7 L740.4 317.5 L740.8 316.2 L740.0 314.9 L740.2 313.7 L739.6 312.4 L739.6 311.1 L739.7 309.8 L739.9 308.6 L739.2 307.3 L739.6 306.0 L739.8 304.8 L740.3 303.5 L740.3 302.2 L739.8 301.0 L740.2 302.3 L740.6 303.5 L740.1 304.9 L741.0 306.1 L741.3 307.4 L740.9 308.7 L740.4 310.1 L740.9 311.3 L741.5 312.6 L741.0 313.9 L740.1 315.3 L740.7 316.5 L741.2 317.7 L740.7 319.0 L741.2 320.2 L741.4 321.5 L741.1 322.8 L742.2 324.0 L742.0 325.2 L742.1 326.5 L742.2 327.7 L741.9 329.0 L742.5 327.9 L742.4 326.7 L743.3 325.4 L743.1 323.8 L744.4 322.3 L743.1 323.8 L743.7 325.0 L743.8 326.4 L744.4 327.6 L743.9 329.0 L744.0 330.3 L744.7 331.5 L745.0 332.7 L744.9 334.0 L745.1 335.3 L745.8 336.6 L745.5 338.0 L745.9 339.3 L745.9 340.6 L745.6 342.0 L746.0 343.3 L746.1 344.6 L746.4 345.9 L746.2 347.3 L746.2 348.6 L746.9 349.9 L746.1 351.3 L746.4 352.6 L746.6 353.9 L747.1 355.2 L746.5 356.7 L747.6 357.9 L747.7 359.3 L747.6 360.9 L747.6 362.3 L749.1 363.4 L748.1 364.8 L748.9 366.0 L748.4 367.3 L748.6 368.5 L748.7 369.8 L749.5 371.0 L749.1 372.5 L749.8 373.8 L749.2 375.2 L749.7 376.5 L749.7 377.8 L750.2 379.0 L749.2 380.3 L749.2 381.5 L749.4 382.8 L749.9 384.0 L749.4 385.3 L750.3 386.5 L750.0 387.8 L749.8 389.0 L749.6 390.3 L750.3 391.5 L749.5 392.8 L750.3 394.0 L750.6 395.3 L750.5 396.6 L750.1 397.9 L749.7 399.2 L750.9 400.4 L750.8 401.6 L750.7 402.9 L750.0 404.3 L751.0 405.5 L750.9 406.8 L751.4 408.0 L751.4 409.3 L751.7 410.5 L752.1 411.8 L751.3 413.1 L752.2 414.3 L752.4 415.6 L752.2 416.8 L751.5 418.2 L752.5 419.4 L752.2 420.7 L752.4 421.9 L752.6 423.1 L753.3 421.8 L752.7 420.5 L753.1 419.1 L752.9 417.8 L753.0 416.4 L753.3 415.1 L753.0 413.8 L754.1 412.5 L753.8 411.1 L753.6 409.8 L753.3 408.4 L753.4 407.1 L753.7 405.7 L754.1 404.4 L753.5 403.1 L754.1 401.8 L754.2 400.4 L753.8 399.1 L754.4 397.8 L754.3 396.5 L754.3 395.1 L754.8 393.9 L754.5 392.5 L754.9 391.2 L755.6 390.0 L755.4 388.6 L756.1 387.3 L755.1 385.9 L755.7 384.6 L756.3 383.4 L756.4 382.0 L756.5 380.7 L756.3 379.3 L755.8 380.7 L755.8 382.0 L755.4 383.3 L755.8 384.7 L756.5 386.0 L756.5 387.3 L756.7 388.7 L756.0 390.0 L756.0 391.4 L755.4 392.4 L756.4 391.3 L757.4 390.2 L757.9 388.9 L757.9 387.6 L758.3 386.4 L757.5 385.0 L757.8 383.7 L758.0 382.4 L758.3 381.1 L758.8 379.7 L758.5 378.3 L759.4 377.1 L759.5 375.8 L759.1 374.6 L760.0 373.5 L759.7 372.2 L760.5 371.1 L760.8 369.9 L760.1 368.6 L760.8 367.3 L761.6 366.1 L760.5 364.7 L761.5 363.5 L761.1 362.1 L760.5 360.7 L761.4 359.5 L761.0 358.2 L761.6 357.0 L762.2 355.9 L762.8 354.7 L762.6 353.4 L762.4 352.2 L762.7 353.4 L762.6 354.7 L763.6 355.9 L763.0 357.2 L762.6 358.5 L763.5 359.7 L764.3 361.0 L763.4 362.4 L764.0 363.6 L763.9 365.0 L764.5 366.2 L764.4 367.5 L764.2 368.8 L764.4 370.0 L764.6 371.1 L764.8 372.5 L765.5 373.8 L765.6 375.2 L765.4 376.8 L766.1 377.9 L766.6 379.0 L766.5 380.4 L767.3 381.8 L768.0 383.2 L769.2 384.0 L768.7 385.3 L769.1 386.1 L770.0 386.2 L771.1 385.6 L771.6 384.9 L772.6 383.8 L773.0 382.6 L773.1 381.4 L773.3 380.1 L773.5 378.9 L773.7 377.6 L774.0 376.4 L773.5 375.0 L774.4 373.8 L774.6 372.5 L775.3 371.3 L774.8 370.0 L774.7 368.7 L774.4 367.4 L774.6 366.1 L774.8 364.8 L774.5 363.5 L774.3 362.2 L775.3 361.0 L775.5 359.7 L774.9 358.3 L776.4 357.3 L776.0 355.9 L775.5 354.5 L776.3 353.4 L776.3 352.0 L777.4 351.7 L778.3 350.9 L779.3 352.3 L779.9 350.7 L780.0 351.9 L779.9 353.2 L780.8 354.3 L781.8 355.6 L783.0 356.4 L783.2 357.5 L783.3 358.7 L785.4 357.2 L785.5 358.4 L785.8 359.6 L786.3 360.9 L786.7 362.2 L787.0 363.7 L786.4 364.9 L787.1 366.1 L787.0 367.3 L787.5 368.5 L786.8 369.8 L787.3 371.0 L786.8 372.4 L787.7 373.6 L787.8 375.0 L787.6 376.3 L787.3 377.7 L788.1 378.8 L788.9 379.9 L787.8 380.7 L789.9 379.7 L790.0 381.3 L791.4 380.8 L790.7 379.3 L790.4 377.7 L792.0 376.7 L792.3 374.3 L793.8 373.9 L795.0 373.3 L795.4 372.1 L795.5 373.3 L795.9 374.0 L796.2 375.1 L796.6 376.3 L796.8 377.5 L797.3 378.4 L797.5 376.9 L798.0 375.5 L798.8 374.4 L799.7 373.3 L799.5 371.9 L800.9 370.9 L799.9 369.2 L800.1 367.8 L801.1 366.8 L800.9 365.5 L801.9 364.7 L802.3 363.3 L802.0 362.0 L802.9 363.3 L803.6 364.9 L804.3 363.9 L804.8 365.2 L805.3 366.6 L804.7 368.4 L806.6 369.4 L806.6 368.0 L807.0 366.8 L807.7 365.9 L808.2 364.9 L808.8 364.0 L808.8 362.7 L809.9 361.9 L809.7 360.6 L810.5 359.9 L811.4 359.0 L811.6 357.5 L812.8 357.3 L813.6 357.1 L814.6 356.4 L815.3 354.9 L816.2 356.1 L816.9 356.9 L817.1 357.8 L819.0 357.3 L819.0 358.9 L819.3 360.6 L819.8 360.8 L819.6 362.2 L821.5 363.0 L821.6 364.3 L822.9 364.8 L822.5 366.1 L823.8 364.8 L824.8 365.4 L825.4 365.6 L826.7 366.2 L827.2 367.5 L828.3 366.2 L827.9 368.0 L829.6 369.4 L830.3 368.4 L830.6 367.4 L831.9 365.8 L831.7 367.6 L832.3 368.8 L833.5 367.7 L833.4 369.1 L833.9 370.4 L834.0 371.9 L835.0 372.9 L835.8 373.9 L837.2 374.2 L836.8 375.7 L836.8 377.1 L837.8 378.4 L837.7 379.9 L838.1 381.4 L839.0 382.6 L838.6 384.0 L839.0 385.3 L839.1 386.6 L840.2 387.8 L841.5 387.3 L841.6 388.6 L842.3 389.9 L841.8 391.3 L842.3 392.6 L842.5 393.9 L843.5 394.9 L843.7 396.3 L843.5 397.8 L844.3 398.9 L845.4 399.6 L846.5 398.4 L846.7 397.0 L846.6 395.5 L846.2 393.8 L847.7 392.5 L848.0 391.3 L848.3 390.0 L848.2 388.7 L848.7 387.5 L849.5 386.4 L850.3 385.2 L850.1 383.9 L850.5 382.7 L850.0 381.4 L851.5 381.9 L852.0 380.6 L851.7 379.2 L852.2 377.9 L851.7 376.5 L852.5 375.3 L852.2 373.6 L853.6 372.1 L854.7 373.5 L854.8 372.3 L855.1 371.2 L855.1 370.3 L856.4 372.0 L857.6 372.4 L857.9 372.7 L860.2 373.6 L861.2 371.9 L861.0 370.2 L861.5 368.6 L862.6 368.0 L864.0 368.7 L864.1 370.0 L864.4 371.1 L865.5 372.3 L866.5 373.6 L866.1 375.0 L866.6 376.2 L867.4 377.4 L867.3 378.9 L868.1 379.9 L869.0 380.8 L869.5 381.9 L869.4 383.2 L870.3 383.9 L870.7 384.9 L871.6 385.6 L871.4 386.7 L872.8 387.7 L872.8 388.6 L874.4 388.5 L875.4 390.4 L876.0 389.5 L877.2 389.9 L877.1 391.2 L877.7 392.4 L878.0 393.6 L878.1 394.8 L878.4 396.0 L877.8 397.3 L879.2 398.3 L879.1 399.5 L879.2 400.7 L878.9 402.0 L879.6 403.0 L880.2 404.1 L880.0 405.4 L880.9 406.4 L881.6 407.7 L881.3 409.2 L881.6 410.6 L882.3 412.0 L881.7 413.4 L881.8 414.7 L882.2 416.0 L882.6 417.3 L882.4 418.8 L883.4 419.6 L884.6 419.7 L885.2 421.4 L885.6 423.0 L885.9 424.7 L887.4 426.0 L887.6 427.4 L888.0 428.7 L888.2 430.0 L888.2 431.4 L889.1 432.7 L888.7 434.2 L888.7 435.7 L890.0 437.2 L889.7 435.7 L889.8 434.2 L890.6 432.9 L890.0 431.3 L890.7 430.0 L891.5 428.5 L891.9 428.2 L893.5 427.5 L892.9 426.2 L893.5 424.9 L893.4 423.6 L893.9 422.4 L893.9 421.1 L894.6 419.8 L894.8 418.5 L894.0 417.1 L895.5 415.8 L895.3 417.1 L895.4 418.3 L896.2 419.4 L895.8 420.8 L896.9 422.0 L896.3 423.7 L896.9 425.1 L897.7 425.9 L898.1 427.1 L898.6 427.9 L899.5 428.9 L899.2 427.6 L900.2 426.7 L900.6 425.6 L900.3 424.3 L900.9 423.2 L900.4 421.8 L901.3 420.6 L903.0 420.2 L902.9 418.7 L903.1 417.2 L903.6 415.8 L904.1 414.7 L904.1 413.5 L905.0 412.4 L905.5 411.2 L905.3 409.8 L906.3 408.6 L905.8 407.1 L906.1 405.9 L906.6 404.8 L906.5 403.5 L907.4 402.2 L908.2 403.1 L908.0 404.4 L908.0 405.3 L909.5 405.2 L910.5 406.8 L910.7 408.2 L912.6 407.1 L912.2 408.7 L913.1 410.0 L913.7 411.9 L913.4 410.3 L914.8 409.2 L915.9 407.6 L916.7 409.2 L917.1 410.5 L916.9 411.9 L918.2 413.0 L917.4 414.6 L918.4 415.6 L919.1 416.6 L919.1 417.8 L919.2 419.0 L919.8 419.9 L919.9 421.3 L921.1 422.2 L921.6 422.1 L922.2 423.3 L922.2 424.6 L923.0 425.6 L922.8 427.2 L924.5 428.2 L925.2 429.9 L926.0 431.2 L926.7 432.7 L926.5 431.2 L927.4 430.0 L927.1 428.2 L928.4 427.4 L929.7 426.4 L928.9 424.7 L929.9 423.6 L930.0 424.9 L930.4 426.0 L930.7 427.2 L931.2 428.4 L931.4 429.8 L932.3 430.6 L933.0 431.6 L933.0 432.5 L933.4 431.8 L933.9 430.7 L935.4 429.9 L935.9 428.8 L935.8 427.9 L935.9 426.5 L937.5 427.5 L938.5 428.5 L939.0 429.5 L939.1 430.7 L940.4 432.0 L940.0 430.4 L940.9 429.2 L940.9 428.0 L941.4 426.9 L941.4 425.7 L942.0 424.6 L942.8 423.5 L943.4 422.4 L943.4 421.5 L944.1 420.2 L945.2 420.0 L946.5 419.6 L946.1 418.1 L946.8 416.8 L947.5 415.5 L946.6 414.0 L947.5 412.8 L947.9 411.7 L948.4 410.6 L949.9 410.2 L949.3 411.9 L950.3 413.2 L950.7 414.5 L951.7 415.7 L952.8 415.4 L953.1 413.7 L953.8 412.3 L954.0 410.8 L954.8 409.4 L954.8 408.2 L954.6 406.9 L956.0 405.9 L955.8 404.6 L956.1 403.4 L955.8 402.0 L957.1 401.5 L957.2 400.2 L958.1 399.4 L958.0 398.3 L959.5 398.7 L959.6 400.0 L960.5 399.1 L960.1 397.8 L961.3 396.9 L960.9 395.5 L961.0 394.2 L961.4 393.0 L961.6 391.7 L962.6 390.3 L964.7 389.8 L964.9 388.6 L964.8 387.4 L966.6 387.8 L966.9 386.4 L966.7 385.1 L967.5 386.3 L967.2 387.7 L968.2 389.1 L969.2 388.2 L970.1 387.9 L971.6 387.8 L972.6 389.4 L973.1 390.3 L973.5 391.3 L974.5 392.1 L975.3 393.3 L975.8 395.0 L976.5 394.7 L977.7 395.8 L978.7 397.6 L978.2 395.9 L979.4 394.9 L979.1 393.5 L980.3 392.5 L980.4 391.2 L981.0 390.5 L981.5 388.5 L981.7 387.4 L982.7 386.5 L981.6 385.4 L982.1 386.9 L983.6 388.2 L985.1 387.3 L985.7 385.8 L985.0 384.7 L987.0 385.3 L987.4 384.3 L987.6 383.2 L988.0 381.9 L989.3 383.2 L989.7 384.3 L989.0 385.7 L990.0 386.6 L990.5 387.5 L990.8 389.0 L992.8 388.2 L992.8 389.5 L992.8 390.7 L993.9 391.5 L993.5 393.0 L993.9 394.0 L993.5 395.6 L994.9 396.4 L995.2 397.6 L996.2 398.7 L997.6 399.8 L999.1 401.1 L1000.2 401.8 L999.7 402.3 L1000.8 403.0 L1001.2 401.9 L1002.0 401.0 L1003.1 400.7 L1003.8 401.7 L1004.2 402.9 L1004.5 404.2 L1005.3 405.4 L1006.2 405.3 L1006.7 406.7 L1007.5 407.5 L1009.0 407.4 L1009.2 409.4 L1010.9 410.0 L1010.1 411.0 L1012.1 409.3 L1012.6 409.5 L1013.9 409.9 L1013.7 411.3 L1013.9 412.6 L1015.0 413.7 L1015.3 415.0 L1015.5 416.4 L1015.5 417.9 L1016.0 418.9 L1016.1 420.0 L1017.4 420.7 L1017.5 421.8 L1017.4 423.0 L1018.7 423.4 L1019.1 424.7 L1020.0 425.7 L1020.4 426.8 L1020.1 425.4 L1022.2 424.8 L1021.9 423.4 L1021.8 422.0 L1021.3 420.7 L1022.0 419.5 L1021.9 418.2 L1022.5 416.9 L1022.9 415.7 L1022.8 414.4 L1023.6 413.4 L1024.0 412.3 L1023.7 411.0 L1024.2 409.9 L1024.4 408.6 L1024.0 407.3 L1024.0 406.1 L1024.6 405.0 L1024.8 403.7 L1025.9 402.5 L1026.3 401.0 L1026.7 399.8 L1027.0 399.0 L1028.7 399.0 L1029.4 400.6 L1030.3 401.9 L1030.5 403.1 L1030.8 404.3 L1030.3 405.7 L1031.8 406.7 L1031.6 408.2 L1032.4 407.8 L1033.3 408.9 L1033.4 410.2 L1033.6 411.4 L1034.0 412.9 L1034.4 412.0 L1034.8 411.4 L1036.1 411.2 L1036.5 410.1 L1037.0 409.1 L1037.4 410.4 L1037.7 411.8 L1039.0 412.4 L1039.9 413.3 L1039.8 415.0 L1040.3 416.4 L1041.4 416.5 L1043.0 416.1 L1043.2 417.7 L1044.0 418.7 L1044.6 419.9 L1044.8 421.3 L1046.1 420.0 L1047.1 421.7 L1048.0 421.1 L1049.0 420.8 L1050.1 421.3 L1051.1 420.1 L1052.4 420.7 L1053.1 422.0 L1054.4 422.5 L1054.8 423.6 L1054.4 424.9 L1054.7 426.2 L1055.1 427.3 L1054.9 428.9 L1055.7 429.7 L1056.8 430.3 L1057.9 431.4 L1058.8 432.1 L1060.0 432.6 L1060.8 434.0 L1061.6 432.8 L1061.9 431.9 L1063.1 432.0 L1063.6 430.7 L1063.5 429.3 L1063.8 427.9 L1064.9 426.5 L1064.9 427.9 L1065.3 429.2 L1065.3 430.6 L1064.7 432.1 L1065.9 433.2 L1066.3 434.6 L1066.9 435.9 L1066.8 437.2 L1067.3 438.2 L1067.4 439.2 L1068.7 438.1 L1069.8 439.1 L1070.1 437.8 L1071.1 436.4 L1071.3 438.0 L1071.6 439.6 L1072.1 440.8 L1071.7 442.2 L1072.2 443.4 L1072.6 445.2 L1073.2 446.2 L1074.3 447.1 L1074.0 448.4 L1074.1 449.6 L1074.3 450.7 L1074.0 452.0 L1075.5 453.6 L1076.8 452.8 L1077.2 451.5 L1077.5 450.1 L1079.0 450.4 L1078.6 449.0 L1079.0 447.8 L1079.5 446.6 L1080.4 445.0 L1082.3 444.3 L1082.5 442.8 L1083.2 441.4 L1083.6 442.6 L1083.9 443.8 L1084.0 442.6 L1086.1 441.7 L1086.6 442.9 L1086.7 444.2 L1087.4 445.1 L1087.2 446.2 L1088.4 445.8 L1089.3 445.3 L1090.7 445.8 L1091.5 446.6 L1091.3 448.1 L1092.6 448.4 L1093.1 449.4 L1092.6 451.1 L1093.0 452.5 L1094.0 453.9 L1093.7 455.2 L1094.0 456.4 L1094.3 457.7 L1094.7 458.9 L1094.8 460.1 L1095.1 461.2 L1096.5 461.7 L1096.8 462.9 L1097.2 464.1 L1096.8 465.5 L1097.4 467.0 L1098.3 465.9 L1099.4 467.4 L1100.3 468.4 L1100.9 469.2 L1101.7 470.5 L1102.2 471.8 L1102.0 473.2 L1103.4 474.0 L1104.0 474.8 L1103.6 476.1 L1104.1 475.0 L1104.4 473.7 L1105.3 472.9 L1105.6 471.8 L1105.8 470.5 L1105.8 469.2 L1106.9 467.8 L1106.7 469.2 L1107.0 470.4 L1107.8 471.5 L1107.9 473.0 L1107.5 474.6 L1109.0 475.8 L1108.9 477.4 L1109.5 478.7 L1110.0 479.9 L1110.6 481.3 L1111.2 480.1 L1111.4 478.8 L1112.2 480.3 L1113.1 481.0 L1113.7 482.0 L1114.2 483.1 L1114.6 484.2 L1114.2 485.6 L1115.2 486.8 L1114.7 488.2 L1116.2 489.7 L1116.8 487.9 L1117.9 487.0 L1118.2 485.8 L1117.9 484.5 L1117.1 483.1 L1118.0 482.1 L1119.1 481.2 L1118.4 480.0 L1118.8 481.2 L1119.3 482.4 L1119.3 483.7 L1119.9 484.9 L1120.5 486.3 L1121.3 487.5 L1122.8 488.4 L1121.9 487.0 L1122.2 485.7 L1123.0 484.4 L1123.0 483.1 L1123.0 481.8 L1123.0 480.4 L1123.8 479.2 L1123.2 477.8 L1122.9 476.4 L1123.4 475.2 L1123.7 473.9 L1124.0 472.6 L1123.8 471.3 L1125.1 470.1 L1125.1 468.8 L1124.4 467.5 L1124.3 466.2 L1125.4 464.6 L1125.5 465.9 L1125.0 467.3 L1125.8 468.4 L1126.5 469.7 L1126.3 471.2 L1126.3 472.6 L1126.2 473.8 L1125.7 472.5 L1126.4 471.4 L1127.3 470.4 L1127.5 469.2 L1128.3 467.9 L1129.1 466.4 L1130.3 467.5 L1129.6 469.0 L1130.7 470.1 L1131.1 471.4 L1131.5 472.8 L1132.1 474.1 L1131.7 475.6 L1131.6 477.2 L1131.9 478.8 L1133.3 480.1 L1132.8 478.7 L1133.7 477.5 L1133.9 476.1 L1133.6 474.7 L1134.1 473.4 L1133.9 472.0 L1134.6 470.7 L1133.9 469.3 L1133.7 468.0 L1133.4 466.6 L1134.7 465.4 L1134.1 464.0 L1134.7 462.7 L1134.8 461.4 L1135.0 460.2 L1135.5 459.0 L1136.0 457.8 L1135.4 456.4 L1135.4 455.3 L1135.7 456.6 L1136.0 457.9 L1135.7 459.3 L1136.8 460.2 L1136.6 461.1 L1137.7 462.3 L1137.7 463.7 L1138.1 465.1 L1138.4 466.5 L1139.5 466.5 L1140.7 466.1 L1141.0 464.7 L1141.5 463.4 L1141.9 462.4 L1142.7 461.2 L1143.5 461.3 L1144.1 461.4 L1145.2 462.7 L1146.3 464.2 L1147.7 464.6 L1147.8 465.7 L1147.9 466.9 L1147.8 468.1 L1148.7 469.7 L1148.3 469.2 L1149.1 470.3 L1149.5 471.5 L1149.7 472.7 L1150.3 474.2 L1152.1 474.4 L1151.8 473.1 L1152.1 471.9 L1152.3 470.7 L1152.8 469.6 L1153.5 468.4 L1153.3 467.1 L1154.0 465.9 L1154.2 464.4 L1155.1 464.9 L1155.4 464.6 L1156.7 465.9 L1156.6 467.5 L1157.0 469.0 L1156.8 470.6 L1157.6 472.0 L1158.8 473.4 L1159.7 472.6 L1159.7 471.3 L1160.7 471.0 L1161.1 470.1 L1161.3 471.3 L1161.7 472.4 L1162.2 473.6 L1162.9 474.8 L1163.6 473.6 L1163.2 472.2 L1163.7 470.9 L1163.7 469.6 L1163.7 468.2 L1163.1 466.8 L1164.4 465.6 L1164.1 464.2 L1163.6 462.8 L1164.5 461.6 L1165.3 460.4 L1164.4 459.0 L1164.0 457.7 L1164.1 456.4 L1165.0 455.2 L1164.2 453.8 L1165.1 452.6 L1164.8 451.3 L1165.1 450.1 L1165.7 448.9 L1165.9 447.7 L1167.1 446.6 L1167.2 445.2 L1167.2 443.8 L1166.4 442.2 L1167.0 440.9 L1167.0 439.5 L1167.7 438.3 L1168.0 437.0 L1168.8 436.1 L1169.0 435.3 L1170.8 435.2 L1171.7 436.3 L1172.2 437.3 L1172.5 438.6 L1173.1 437.1 L1173.8 438.3 L1174.0 439.5 L1174.5 440.7 L1174.8 441.9 L1174.2 443.3 L1174.7 444.5 L1175.0 445.7 L1174.5 447.0 L1175.9 447.6 L1177.5 448.6 L1177.9 449.6 L1177.2 451.0 L1177.9 452.2 L1179.5 451.8 L1179.8 450.6 L1180.4 450.5 L1181.7 451.6 L1182.3 452.8 L1181.9 454.3 L1182.6 455.4 L1182.7 456.9 L1182.8 458.4 L1183.4 459.3 L1183.2 460.5 L1183.9 461.4 L1184.1 462.6 L1184.6 463.6 L1185.7 465.2 L1186.6 464.1 L1187.4 465.4 L1187.9 466.8 L1187.5 468.4 L1188.2 469.7 L1188.8 471.0 L1189.0 472.4 L1188.8 473.9 L1189.8 474.7 L1189.4 476.2 L1190.4 477.2 L1190.6 478.5 L1190.6 479.9 L1191.3 481.1 L1191.5 482.4 L1191.7 483.7 L1192.1 485.0 L1192.8 486.3 L1192.4 487.9 L1193.0 489.3 L1193.8 490.3 L1193.7 491.5 L1193.8 492.7 L1194.6 493.8 L1195.2 495.0 L1194.9 496.3 L1195.4 497.5 L1195.2 496.2 L1195.5 494.9 L1196.2 493.7 L1195.4 492.2 L1195.9 491.0 L1196.2 489.7 L1196.4 488.4 L1197.0 487.2 L1197.0 485.8 L1197.8 484.7 L1198.1 483.5 L1198.9 482.5 L1198.6 481.2 L1200.2 480.6 L1198.5 479.3 L1198.6 480.7 L1199.3 481.8 L1199.7 483.0 L1199.5 484.4 L1200.2 485.6 L1200.5 486.8 L1200.4 488.2 L1201.0 489.4 L1201.1 490.9 L1202.4 493.0 L1202.8 492.0 L1203.6 492.0 L1204.4 491.7 L1205.3 493.4 L1205.6 494.8 L1206.0 496.1 L1206.8 497.4 L1206.9 498.5 L1207.4 499.5 L1207.9 500.5 L1207.3 502.2 L1207.8 503.5 L1207.8 505.0 L1208.6 506.4 L1208.3 507.6 L1209.2 508.4 L1209.1 509.4 L1209.7 508.1 L1209.4 506.7 L1210.1 505.5 L1210.0 504.1 L1209.3 502.7 L1210.4 501.4 L1210.1 500.1 L1209.9 498.7 L1211.1 497.5 L1210.9 496.2 L1210.8 494.9 L1211.3 493.6 L1211.2 492.3 L1212.2 490.9 L1212.7 492.0 L1212.3 493.5 L1213.2 494.4 L1213.6 495.4 L1214.5 496.7 L1214.4 498.3 L1214.7 499.8 L1216.0 500.7 L1215.4 502.0 L1216.6 502.9 L1217.3 504.0 L1217.5 505.4 L1218.6 506.3 L1217.0 507.9 L1217.1 509.1 L1218.3 510.0 L1219.2 511.1 L1219.8 512.3 L1220.0 513.5 L1220.5 514.7 L1221.2 513.5 L1221.0 512.2 L1219.6 510.9 L1221.7 509.8 L1221.5 508.6 L1221.6 507.3 L1221.4 506.0 L1220.9 504.6 L1222.0 503.3 L1221.7 502.0 L1221.3 500.6 L1221.5 499.3 L1221.2 497.9 L1222.1 496.7 L1221.7 496.1 L1222.6 495.8 L1223.4 496.9 L1223.8 498.4 L1224.7 498.9 L1224.1 500.3 L1224.9 501.1 L1225.7 502.1 L1225.8 503.2 L1226.6 503.7 L1227.1 504.7 L1227.3 505.8 L1227.8 506.9 L1228.8 508.0 L1229.2 509.3 L1230.1 510.6 L1230.2 512.1 L1230.6 513.3 L1231.1 514.2 L1232.0 515.0 L1232.6 516.4 L1232.6 518.0 L1232.5 519.5 L1232.7 520.7 L1232.7 521.9 L1233.1 523.0 L1233.0 524.2 L1233.6 525.3 L1233.9 526.8 L1234.3 528.1 L1234.3 529.6 L1235.2 530.9 L1235.6 532.3 L1235.7 533.8 L1235.8 535.1 L1237.0 535.1 L1238.0 536.4 L1237.2 538.1 L1238.4 539.5 L1238.3 538.1 L1238.1 536.6 L1238.2 535.1 L1239.3 534.3 L1239.9 533.3 L1239.6 532.1 L1240.6 531.1 L1240.7 530.0 L1240.6 528.8 L1241.2 527.7 L1241.9 526.5 L1241.4 525.1 L1241.6 523.7 L1242.1 522.5 L1241.8 521.1 L1242.7 520.2 L1242.8 519.0 L1242.4 520.4 L1242.3 521.8 L1243.0 523.0 L1243.8 524.3 L1243.6 525.6 L1243.9 526.9 L1243.6 528.3 L1243.8 529.6 L1244.5 530.9 L1244.4 532.2 L1243.6 533.6 L1244.4 534.9 L1245.7 536.1 L1244.9 537.5 L1245.5 538.1 L1246.0 539.8 L1247.1 541.2 L1247.3 542.5 L1247.3 543.7 L1247.0 545.0 L1246.9 546.3 L1248.1 547.4 L1248.0 548.6 L1248.0 549.9 L1247.2 551.3 L1247.0 552.6 L1247.5 553.8 L1248.4 554.9 L1248.3 555.8 L1249.4 554.6 L1249.8 553.1 L1250.5 552.1 L1250.4 550.7 L1251.4 549.6 L1251.5 548.3 L1251.5 549.9 L1252.1 551.1 L1252.5 552.3 L1253.1 553.4 L1253.2 554.7 L1253.7 555.8 L1254.6 556.7 L1253.9 558.1 L1254.7 559.1 L1255.3 560.1 L1255.7 561.1 L1255.7 562.3 L1256.1 563.4 L1256.2 562.0 L1255.6 560.5 L1256.2 559.2 L1256.1 557.8 L1257.0 556.5 L1256.3 555.0 L1255.9 553.7 L1256.3 552.4 L1256.6 551.1 L1256.9 549.9 L1257.0 548.6 L1256.8 547.2 L1257.7 546.0 L1258.2 547.4 L1258.7 548.8 L1258.6 550.4 L1259.1 551.7 L1259.5 552.9 L1259.8 554.2 L1259.1 555.6 L1259.5 556.8 L1260.2 558.0 L1259.5 559.6 L1261.2 560.7 L1261.7 561.9 L1261.5 563.2 L1262.3 564.4 L1262.9 563.2 L1262.9 561.8 L1262.9 560.4 L1263.4 558.9 L1264.0 557.5 L1264.6 558.7 L1264.3 560.0 L1264.5 561.3 L1264.7 562.5 L1265.7 563.7 L1265.4 565.2 L1265.9 566.5 L1265.4 565.1 L1265.9 563.8 L1266.4 562.4 L1267.3 561.2 L1267.0 559.7 L1267.0 558.4 L1267.0 557.0 L1267.8 555.8 L1267.0 554.4 L1267.4 553.2 L1267.8 551.9 L1267.6 550.7 L1267.6 549.4 L1267.1 548.0 L1268.4 546.7 L1269.1 547.8 L1269.4 549.1 L1269.5 550.3 L1270.4 551.2 L1270.4 552.5 L1270.3 553.9 L1270.6 555.2 L1270.7 556.5 L1271.3 555.1 L1271.0 553.7 L1271.7 552.4 L1271.7 551.0 L1271.2 549.6 L1271.8 548.3 L1271.6 546.9 L1271.4 545.5 L1271.3 544.1 L1271.9 542.8 L1271.8 541.5 L1271.1 540.1 L1272.1 538.8 L1272.3 537.5 L1271.8 536.1 L1273.0 534.8 L1272.8 533.5 L1273.5 532.1 L1273.5 533.4 L1273.9 534.7 L1273.7 536.0 L1274.1 537.3 L1274.5 538.6 L1274.4 540.0 L1274.7 541.3 L1274.2 542.6 L1275.5 543.6 L1274.9 544.9 L1275.0 546.1 L1274.6 547.4 L1274.4 548.7 L1274.9 550.1 L1276.3 550.9 L1277.1 552.1 L1277.6 553.3 L1277.5 554.7 L1277.7 556.2 L1277.6 554.8 L1277.5 553.4 L1278.1 552.1 L1278.3 550.8 L1279.8 549.8 L1280.7 550.9 L1281.5 552.0 L1280.2 552.0 L1281.2 553.1 L1281.7 551.7 L1282.7 550.5 L1283.1 549.1 L1282.8 547.6 L1283.2 546.3 L1283.3 544.9 L1283.8 543.6 L1283.7 542.2 L1283.5 543.5 L1284.4 544.6 L1284.5 545.8 L1284.3 547.1 L1285.0 548.1 L1285.9 549.7 L1286.9 550.9 L1286.2 552.4 L1287.1 553.6 L1288.1 554.6 L1289.0 555.9 L1288.3 557.5 L1288.5 559.0 L1289.1 560.2 L1290.1 561.3 L1290.1 562.9 L1290.7 563.8 L1291.7 564.5 L1293.1 565.2 L1292.5 566.5 L1292.6 567.6 L1292.6 566.3 L1293.1 565.2 L1293.7 564.1 L1293.7 562.7 L1294.1 561.3 L1295.7 559.8 L1296.3 560.8 L1297.4 562.0 L1298.7 562.6 L1298.3 564.0 L1298.9 565.2 L1299.0 566.5 L1299.1 567.8 L1299.3 569.1 L1300.1 570.3 L1299.9 571.6 L1301.1 572.8 L1301.5 574.0 L1300.7 575.5 L1301.3 576.7 L1301.3 578.0 L1301.1 579.2 L1300.9 578.0 L1302.2 577.3 L1302.4 576.2 L1302.3 574.9 L1303.0 573.7 L1304.4 573.0 L1305.0 574.0 L1305.0 575.5 L1306.3 575.3 L1306.8 576.8 L1306.6 575.1 L1308.2 573.9 L1308.0 572.7 L1307.9 571.5 L1308.5 570.5 L1309.8 569.8 L1311.0 568.4 L1310.3 570.0 L1310.7 571.3 L1311.4 572.5 L1311.7 573.8 L1311.6 575.3 L1311.8 576.9 L1312.9 577.9 L1313.6 578.8 L1314.3 579.8 L1315.1 580.9 L1315.5 579.6 L1314.9 578.3 L1315.1 577.1 L1314.4 575.7 L1315.4 574.5 L1315.1 573.2 L1315.2 572.0 L1315.6 570.7 L1315.9 569.5 L1315.5 568.1 L1315.8 566.8 L1316.1 565.5 L1316.1 564.1 L1316.3 562.8 L1316.2 562.0 L1317.3 563.5 L1319.2 564.2 L1320.2 563.1 L1321.5 562.0 L1321.2 560.7 L1320.8 559.3 L1321.6 558.2 L1322.2 556.8 L1322.7 555.3 L1322.1 553.8 L1322.6 552.5 L1323.4 551.2 L1323.2 550.5 L1325.1 550.6 L1324.9 548.9 L1324.9 548.0 L1325.6 548.8 L1326.0 550.0 L1326.9 551.1 L1328.1 551.6 L1328.7 552.8 L1328.6 553.7 L1329.9 552.4 L1330.2 551.0 L1330.1 550.6 L1331.0 551.5 L1331.6 552.8 L1332.3 554.0 L1332.9 555.3 L1332.9 556.6 L1333.9 558.3 L1334.1 559.7 L1334.3 561.1 L1334.6 562.4 L1335.3 563.6 L1335.5 564.9 L1335.1 566.3 L1334.9 567.6 L1335.3 568.9 L1335.7 570.2 L1335.5 571.6 L1336.1 572.8 L1335.9 574.2 L1336.3 575.5 L1336.8 576.7 L1337.3 577.9 L1337.4 579.2 L1338.0 580.6 L1337.3 582.1 L1337.3 583.5 L1337.9 584.9 L1338.2 586.2 L1339.2 587.5 L1339.9 588.8 L1339.6 590.1 L1339.4 591.2 L1339.8 589.9 L1339.8 588.5 L1340.9 587.3 L1340.7 585.9 L1341.6 584.7 L1340.1 583.3 L1340.8 584.5 L1341.7 585.7 L1340.8 587.1 L1341.1 588.3 L1341.3 589.6 L1341.2 590.9 L1341.2 592.2 L1341.7 593.4 L1342.4 594.6 L1342.2 595.8 L1342.7 597.1 L1342.8 598.3 L1342.8 599.6 L1342.9 600.9 L1342.7 602.1 L1342.9 603.4 L1342.4 604.7 L1342.4 606.2 L1343.1 607.5 L1343.5 609.0 L1343.8 610.4 L1344.0 611.7 L1343.9 613.1 L1343.8 614.5 L1343.8 615.8 L1345.5 617.1 L1344.2 618.5 L1344.6 619.8 L1344.8 621.2 L1344.6 622.6 L1345.3 623.9 L1344.8 625.2 L1344.1 626.6 L1344.8 627.9 L1344.4 629.2 L1344.2 630.6 L1344.8 631.8 L1344.4 633.2 L1345.2 634.5 L1345.6 633.2 L1345.2 631.9 L1345.1 630.7 L1345.9 629.4 L1346.4 628.2 L1345.8 626.9 L1346.2 625.6 L1346.4 624.4 L1346.4 623.1 L1346.3 621.8 L1346.4 620.6 L1346.6 619.3 L1346.3 618.0 L1347.1 619.4 L1346.6 621.0 L1348.0 622.2 L1347.5 623.7 L1347.3 625.1 L1348.2 626.5 L1348.1 627.9 L1348.0 629.3 L1347.8 630.6 L1349.1 629.0 L1348.7 627.6 L1349.2 626.4 L1350.0 625.2 L1349.1 626.6 L1349.7 627.8 L1349.6 629.2 L1349.6 630.5 L1349.4 631.8 L1350.3 633.1 L1350.7 634.4 L1349.9 635.8 L1350.5 637.1 L1350.5 638.4 L1350.8 639.7 L1350.4 641.0 L1350.1 642.4 L1350.1 643.8 L1349.6 645.2 L1350.8 646.3 L1351.7 647.6 L1351.6 648.9 L1351.4 650.2 L1352.0 651.4 L1352.0 652.7 L1352.5 653.9 L1352.2 655.2 L1352.6 656.5 L1352.8 657.8 L1351.9 659.1 L1352.3 660.4 L1352.7 661.7 L1352.8 663.0 L1353.1 664.3 L1353.1 665.6 L1352.9 666.9 L1353.3 668.2 L1353.5 666.9 L1354.1 665.6 L1353.7 664.3 L1353.8 663.0 L1353.5 661.7 L1353.2 660.4 L1353.1 659.1 L1354.0 657.8 L1354.6 656.7 L1354.4 655.4 L1354.4 654.2 L1354.3 652.9 L1354.8 651.7 L1355.2 650.4 L1355.3 649.0 L1355.5 647.7 L1355.8 646.3 L1355.4 644.9 L1355.2 643.6 L1355.7 642.2 L1356.1 641.0 L1355.6 639.7 L1356.4 638.5 L1356.1 637.2 L1356.2 635.9 L1355.8 637.2 L1356.1 638.5 L1356.2 639.8 L1355.4 641.1 L1356.2 642.3 L1356.3 643.6 L1356.7 644.9 L1357.0 646.1 L1356.8 647.4 L1356.6 648.7 L1356.8 650.0 L1356.8 651.3 L1356.6 652.5 L1356.7 653.8 L1356.3 655.1 L1357.5 656.3 L1357.5 657.6 L1356.5 658.9 L1357.1 660.1 L1357.6 661.3 L1357.5 662.6 L1358.0 663.8 L1357.9 665.1 L1358.6 666.3 L1358.5 667.6 L1358.5 669.0 L1358.7 670.3 L1358.3 671.6 L1358.7 672.9 L1359.2 674.2 L1358.7 675.5 L1359.1 676.8 L1358.8 678.2 L1359.4 679.4 L1360.1 680.7 L1360.5 682.0 L1360.5 683.5 L1360.9 684.8 L1360.7 686.3 L1360.7 687.7 L1360.4 689.1 L1361.2 690.4 L1360.1 691.7 L1360.7 693.0 L1360.1 694.3 L1360.4 695.7 L1360.6 697.0 L1360.5 698.3 L1361.3 699.6 L1360.5 700.9 L1359.4 702.3 L1359.7 703.6 L1360.0 704.9 L1360.5 706.2 L1360.5 707.5 L1361.1 706.2 L1361.4 704.9 L1360.7 703.5 L1361.5 702.3 L1361.2 700.9 L1362.0 699.7 L1362.3 698.4 L1361.4 697.0 L1361.5 695.7 L1361.6 694.4 L1362.1 693.1 L1361.9 691.8 L1361.7 690.5 L1362.9 689.4 L1362.9 688.1 L1363.3 686.8 L1362.4 685.5 L1363.0 684.3 L1362.4 683.0 L1362.4 681.7 L1363.4 680.5 L1363.1 679.2" fill="none" stroke="#ff0000" stroke-width="2.4" stroke-linejoin="round" stroke-linecap="round"/>
<rect x="84" y="790" width="15" height="1" fill="#000" shape-rendering="crispEdges"/>
<rect x="92" y="700" width="7" height="1" fill="#000" shape-rendering="crispEdges"/>
<rect x="84" y="610" width="15" height="1" fill="#000" shape-rendering="crispEdges"/>
<rect x="92" y="520" width="7" height="1" fill="#000" shape-rendering="crispEdges"/>
<rect x="84" y="429" width="15" height="1" fill="#000" shape-rendering="crispEdges"/>
<rect x="92" y="339" width="7" height="1" fill="#000" shape-rendering="crispEdges"/>
<rect x="84" y="249" width="15" height="1" fill="#000" shape-rendering="crispEdges"/>
<rect x="92" y="159" width="7" height="1" fill="#000" shape-rendering="crispEdges"/>
<rect x="84" y="68" width="15" height="1" fill="#000" shape-rendering="crispEdges"/>
<rect x="1496" y="790" width="15" height="1" fill="#000" shape-rendering="crispEdges"/>
<rect x="1496" y="766" width="7" height="1" fill="#000" shape-rendering="crispEdges"/>
<rect x="1496" y="742" width="7" height="1" fill="#000" shape-rendering="crispEdges"/>
<rect x="1496" y="718" width="7" height="1" fill="#000" shape-rendering="crispEdges"/>
<rect x="1496" y="694" width="7" height="1" fill="#000" shape-rendering="crispEdges"/>
<rect x="1496" y="670" width="15" height="1" fill="#000" shape-rendering="crispEdges"/>
<rect x="1496" y="646" width="7" height="1" fill="#000" shape-rendering="crispEdges"/>
<rect x="1496" y="622" width="7" height="1" fill="#000" shape-rendering="crispEdges"/>
<rect x="1496" y="598" width="7" height="1" fill="#000" shape-rendering="crispEdges"/>
<rect x="1496" y="574" width="7" height="1" fill="#000" shape-rendering="crispEdges"/>
<rect x="1496" y="550" width="15" height="1" fill="#000" shape-rendering="crispEdges"/>
<rect x="1496" y="526" width="7" height="1" fill="#000" shape-rendering="crispEdges"/>
<rect x="1496" y="502" width="7" height="1" fill="#000" shape-rendering="crispEdges"/>
<rect x="1496" y="478" width="7" height="1" fill="#000" shape-rendering="crispEdges"/>
<rect x="1496" y="454" width="7" height="1" fill="#000" shape-rendering="crispEdges"/>
<rect x="1496" y="429" width="15" height="1" fill="#000" shape-rendering="crispEdges"/>
<rect x="1496" y="405" width="7" height="1" fill="#000" shape-rendering="crispEdges"/>
<rect x="1496" y="381" width="7" height="1" fill="#000" shape-rendering="crispEdges"/>
<rect x="1496" y="357" width="7" height="1" fill="#000" shape-rendering="crispEdges"/>
<rect x="1496" y="333" width="7" height="1" fill="#000" shape-rendering="crispEdges"/>
<rect x="1496" y="309" width="15" height="1" fill="#000" shape-rendering="crispEdges"/>
<rect x="1496" y="285" width="7" height="1" fill="#000" shape-rendering="crispEdges"/>
<rect x="1496" y="261" width="7" height="1" fill="#000" shape-rendering="crispEdges"/>
<rect x="1496" y="237" width="7" height="1" fill="#000" shape-rendering="crispEdges"/>
<rect x="1496" y="213" width="7" height="1" fill="#000" shape-rendering="crispEdges"/>
<rect x="1496" y="189" width="15" height="1" fill="#000" shape-rendering="crispEdges"/>
<rect x="1496" y="165" width="7" height="1" fill="#000" shape-rendering="crispEdges"/>
<rect x="1496" y="141" width="7" height="1" fill="#000" shape-rendering="crispEdges"/>
<rect x="1496" y="117" width="7" height="1" fill="#000" shape-rendering="crispEdges"/>
<rect x="1496" y="93" width="7" height="1" fill="#000" shape-rendering="crispEdges"/>
<rect x="1496" y="68" width="15" height="1" fill="#000" shape-rendering="crispEdges"/>
<rect x="99.7" y="793" width="3.6" height="18" fill="#000"/>
<rect x="153.3" y="793" width="3.6" height="18" fill="#000"/>
<rect x="206.8" y="793" width="3.6" height="18" fill="#000"/>
<rect x="260.4" y="793" width="3.6" height="18" fill="#000"/>
<rect x="313.9" y="793" width="3.6" height="18" fill="#000"/>
<rect x="367.5" y="793" width="3.6" height="18" fill="#000"/>
<rect x="421.1" y="793" width="3.6" height="18" fill="#000"/>
<rect x="474.6" y="793" width="3.6" height="18" fill="#000"/>
<rect x="528.2" y="793" width="3.6" height="18" fill="#000"/>
<rect x="581.7" y="793" width="3.6" height="18" fill="#000"/>
<rect x="635.3" y="793" width="3.6" height="18" fill="#000"/>
<rect x="688.9" y="793" width="3.6" height="18" fill="#000"/>
<rect x="742.4" y="793" width="3.6" height="18" fill="#000"/>
<rect x="796.0" y="793" width="3.6" height="18" fill="#000"/>
<rect x="849.5" y="793" width="3.6" height="18" fill="#000"/>
<rect x="903.1" y="793" width="3.6" height="18" fill="#000"/>
<rect x="956.7" y="793" width="3.6" height="18" fill="#000"/>
<rect x="1010.2" y="793" width="3.6" height="18" fill="#000"/>
<rect x="1063.8" y="793" width="3.6" height="18" fill="#000"/>
<rect x="1117.3" y="793" width="3.6" height="18" fill="#000"/>
<rect x="1170.9" y="793" width="3.6" height="18" fill="#000"/>
<rect x="1224.5" y="793" width="3.6" height="18" fill="#000"/>
<rect x="1278.0" y="793" width="3.6" height="18" fill="#000"/>
<rect x="1331.6" y="793" width="3.6" height="18" fill="#000"/>
<rect x="1385.1" y="793" width="3.6" height="18" fill="#000"/>
<rect x="1438.7" y="793" width="3.6" height="18" fill="#000"/>
<rect x="1492.0" y="793" width="4.0" height="18" fill="#000"/>
<rect x="467" y="615.3" width="72" height="4.4" fill="#ff0000"/>
<polygon points="536,611.1 561,617.5 536,623.9" fill="#ff0000"/>
<rect x="489" y="718.2" width="72" height="4.6" fill="#0000ff"/>
<polygon points="492,714 466.5,720.5 492,727" fill="#0000ff"/>
<text x="78" y="798.5" font-family="Liberation Serif, serif" font-size="23" text-anchor="end">0</text>
<text x="78" y="618.0" font-family="Liberation Serif, serif" font-size="23" text-anchor="end">2</text>
<text x="78" y="437.5" font-family="Liberation Serif, serif" font-size="23" text-anchor="end">4</text>
<text x="78" y="257.0" font-family="Liberation Serif, serif" font-size="23" text-anchor="end">6</text>
<text x="78" y="76.5" font-family="Liberation Serif, serif" font-size="23" text-anchor="end">8</text>
<text x="1516.5" y="798.5" font-family="Liberation Serif, serif" font-size="23">.30</text>
<text x="1516.5" y="678.2" font-family="Liberation Serif, serif" font-size="23">.35</text>
<text x="1516.5" y="557.8" font-family="Liberation Serif, serif" font-size="23">.40</text>
<text x="1516.5" y="437.5" font-family="Liberation Serif, serif" font-size="23">.45</text>
<text x="1516.5" y="317.2" font-family="Liberation Serif, serif" font-size="23">.50</text>
<text x="1516.5" y="196.8" font-family="Liberation Serif, serif" font-size="23">.55</text>
<text x="1516.5" y="76.5" font-family="Liberation Serif, serif" font-size="23">.60</text>
<text x="128.3" y="819.9" font-family="Liberation Serif, serif" font-size="23" text-anchor="middle">97</text>
<text x="181.9" y="819.9" font-family="Liberation Serif, serif" font-size="23" text-anchor="middle">98</text>
<text x="235.4" y="819.9" font-family="Liberation Serif, serif" font-size="23" text-anchor="middle">99</text>
<text x="289.0" y="819.9" font-family="Liberation Serif, serif" font-size="23" text-anchor="middle">00</text>
<text x="342.5" y="819.9" font-family="Liberation Serif, serif" font-size="23" text-anchor="middle">01</text>
<text x="396.1" y="819.9" font-family="Liberation Serif, serif" font-size="23" text-anchor="middle">02</text>
<text x="449.7" y="819.9" font-family="Liberation Serif, serif" font-size="23" text-anchor="middle">03</text>
<text x="503.2" y="819.9" font-family="Liberation Serif, serif" font-size="23" text-anchor="middle">04</text>
<text x="556.8" y="819.9" font-family="Liberation Serif, serif" font-size="23" text-anchor="middle">05</text>
<text x="610.3" y="819.9" font-family="Liberation Serif, serif" font-size="23" text-anchor="middle">06</text>
<text x="663.9" y="819.9" font-family="Liberation Serif, serif" font-size="23" text-anchor="middle">07</text>
<text x="717.5" y="819.9" font-family="Liberation Serif, serif" font-size="23" text-anchor="middle">08</text>
<text x="771.0" y="819.9" font-family="Liberation Serif, serif" font-size="23" text-anchor="middle">09</text>
<text x="824.6" y="819.9" font-family="Liberation Serif, serif" font-size="23" text-anchor="middle">10</text>
<text x="878.1" y="819.9" font-family="Liberation Serif, serif" font-size="23" text-anchor="middle">11</text>
<text x="931.7" y="819.9" font-family="Liberation Serif, serif" font-size="23" text-anchor="middle">12</text>
<text x="985.3" y="819.9" font-family="Liberation Serif, serif" font-size="23" text-anchor="middle">13</text>
<text x="1038.8" y="819.9" font-family="Liberation Serif, serif" font-size="23" text-anchor="middle">14</text>
<text x="1092.4" y="819.9" font-family="Liberation Serif, serif" font-size="23" text-anchor="middle">15</text>
<text x="1145.9" y="819.9" font-family="Liberation Serif, serif" font-size="23" text-anchor="middle">16</text>
<text x="1199.5" y="819.9" font-family="Liberation Serif, serif" font-size="23" text-anchor="middle">17</text>
<text x="1253.1" y="819.9" font-family="Liberation Serif, serif" font-size="23" text-anchor="middle">18</text>
<text x="1306.6" y="819.9" font-family="Liberation Serif, serif" font-size="23" text-anchor="middle">19</text>
<text x="1360.2" y="819.9" font-family="Liberation Serif, serif" font-size="23" text-anchor="middle">20</text>
<text x="1413.7" y="819.9" font-family="Liberation Serif, serif" font-size="23" text-anchor="middle">21</text>
<text x="1467.3" y="819.9" font-family="Liberation Serif, serif" font-size="23" text-anchor="middle">22</text>
<text x="114.3" y="50.9" font-family="Liberation Sans, sans-serif" font-size="30.3" textLength="135.6" lengthAdjust="spacingAndGlyphs" font-weight="bold">Figure 11.</text>
<text x="161.8" y="117.8" font-family="Liberation Sans, sans-serif" font-size="30.3" textLength="881.8" lengthAdjust="spacingAndGlyphs" font-weight="bold">S&amp;P 500 VALUE RELATIVE TO S&amp;P 500 &amp; 10-YEAR BOND YIELD</text>
<text x="560.9" y="146.7" font-family="Liberation Sans, sans-serif" font-size="30.3" textLength="84.0" lengthAdjust="spacingAndGlyphs" font-weight="bold">(daily)</text>
<text x="379.8" y="573.8" font-family="Liberation Sans, sans-serif" font-size="30.3" textLength="278.2" lengthAdjust="spacingAndGlyphs" font-weight="bold">Relative to S&amp;P 500*</text>
<text x="380.3" y="604.0" font-family="Liberation Sans, sans-serif" font-size="27" textLength="140.3" lengthAdjust="spacingAndGlyphs" >Value (0.35)</text>
<text x="381.1" y="695.8" font-family="Liberation Sans, sans-serif" font-size="27" textLength="298.7" lengthAdjust="spacingAndGlyphs" >10-Year Bond Yield (0.59)</text>
<text x="1369.8" y="688.7" font-family="Liberation Sans, sans-serif" font-size="21.9" textLength="44.0" lengthAdjust="spacingAndGlyphs" fill="#ff0000">7/24</text>
<text x="1356.0" y="780.7" font-family="Liberation Serif, serif" font-size="24.5" textLength="126.1" lengthAdjust="spacingAndGlyphs" font-weight="bold" font-style="italic">yardeni.com</text>
<text x="75" y="871.5" font-family="Liberation Serif, serif" font-size="23">*</text>
<text x="101.3" y="871.5" font-family="Liberation Serif, serif" font-size="23.4" textLength="864.7" lengthAdjust="spacingAndGlyphs" >Rising (falling) line indicates that the index is outperforming (underperforming) the S&amp;P 500.</text>
<text x="101.3" y="894.5" font-family="Liberation Serif, serif" font-size="23.4" textLength="873.7" lengthAdjust="spacingAndGlyphs" >Note: Shaded areas denote recessions according to the National Bureau of Economic Research.</text>
<text x="101.0" y="917.5" font-family="Liberation Serif, serif" font-size="23.4" textLength="446.7" lengthAdjust="spacingAndGlyphs" >Source: Standard &amp; Poor’s and Haver Analytics.</text>
</svg>
</body></html>
